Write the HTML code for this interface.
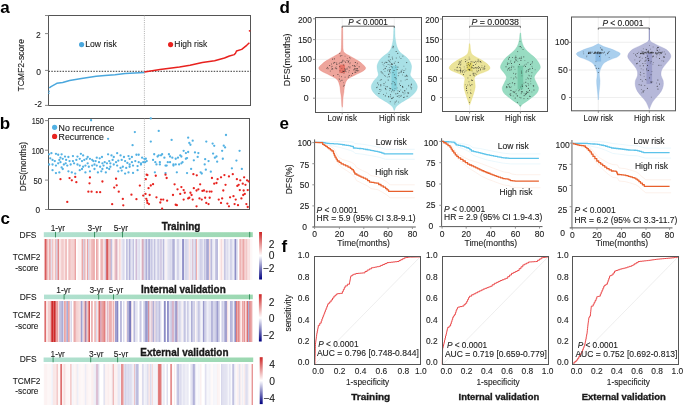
<!DOCTYPE html>
<html><head><meta charset="utf-8"><title>Figure</title>
<style>html,body{margin:0;padding:0;background:#fff;}body{width:685px;height:406px;overflow:hidden;font-family:"Liberation Sans",sans-serif;}svg{display:block;will-change:transform;filter:blur(0.3px);}</style>
</head><body>
<svg width="685" height="406" viewBox="0 0 685 406" font-family='"Liberation Sans", sans-serif'>
<text x="0.2" y="12.6" font-size="17" font-weight="bold" fill="#000">a</text>
<text x="-0.2" y="128.9" font-size="17" font-weight="bold" fill="#000">b</text>
<text x="0.4" y="223.6" font-size="17" font-weight="bold" fill="#000">c</text>
<text x="279.4" y="12.8" font-size="17" font-weight="bold" fill="#000">d</text>
<text x="279.6" y="129.1" font-size="17" font-weight="bold" fill="#000">e</text>
<text x="281.4" y="251.8" font-size="17" font-weight="bold" fill="#000">f</text>
<rect x="48.5" y="15.5" width="202" height="90" fill="none" stroke="#555555" stroke-width="1"/>
<line x1="45" y1="15.5" x2="48.5" y2="15.5" stroke="#8a8a8a" stroke-width="1"/>
<line x1="45" y1="33.6" x2="48.5" y2="33.6" stroke="#8a8a8a" stroke-width="1"/>
<line x1="45" y1="70.4" x2="48.5" y2="70.4" stroke="#8a8a8a" stroke-width="1"/>
<line x1="45" y1="105.4" x2="48.5" y2="105.4" stroke="#8a8a8a" stroke-width="1"/>
<text x="38.4" y="38.04" font-size="8.5" text-anchor="middle" fill="#1a1a1a" stroke="#1a1a1a" stroke-width="0.1">2</text>
<text x="38.5" y="74.54" font-size="8.5" text-anchor="middle" fill="#1a1a1a" stroke="#1a1a1a" stroke-width="0.1">0</text>
<text x="38.2" y="106.84" font-size="8.5" text-anchor="middle" fill="#1a1a1a" stroke="#1a1a1a" stroke-width="0.1">-2</text>
<text transform="translate(24.34,65.3) rotate(-90)" x="0" y="0" font-size="8.5" text-anchor="middle" fill="#1a1a1a" stroke="#1a1a1a" stroke-width="0.1" textLength="52.6" lengthAdjust="spacingAndGlyphs">TCMF2-score</text>
<line x1="48.5" y1="71.3" x2="250.5" y2="71.3" stroke="#222" stroke-width="0.9" stroke-dasharray="1.5,1.3"/>
<line x1="144.4" y1="15.5" x2="144.4" y2="105.5" stroke="#999" stroke-width="0.8" stroke-dasharray="1,1.2"/>
<path d="M49.2,88 L51,86.6 L56.8,83.3 L62.7,82.5 L69.6,80.5 L81.5,78.5 L96.2,76.3 L105,75.6 L115,74.8 L125,73.6 L135,73 L144.4,72.4" fill="none" stroke="#4aa7dd" stroke-width="1.5" stroke-linejoin="round"/>
<circle cx="49.1" cy="91.2" r="0.8" fill="#4aa7dd"/>
<circle cx="48.9" cy="93.3" r="0.8" fill="#4aa7dd"/>
<path d="M144.4,72 L160,69.6 L179.5,67 L190,65.3 L202.3,62.6 L214.6,60.8 L224.5,58 L229.4,56 L234.3,54.6 L235.5,53.2 L236.5,51 L241.7,49.4 L246.7,45.3 L249.4,42.7" fill="none" stroke="#e8211e" stroke-width="1.5" stroke-linejoin="round"/>
<circle cx="249.6" cy="30.8" r="0.9" fill="#e8211e"/>
<circle cx="81.6" cy="44.6" r="2.6" fill="#4aa7dd"/>
<text x="85.2" y="47.08" font-size="8.6" text-anchor="start" fill="#1a1a1a" stroke="#1a1a1a" stroke-width="0.1" textLength="31.6" lengthAdjust="spacingAndGlyphs">Low risk</text>
<circle cx="170.6" cy="44.6" r="2.6" fill="#e8211e"/>
<text x="174.3" y="47.08" font-size="8.6" text-anchor="start" fill="#1a1a1a" stroke="#1a1a1a" stroke-width="0.1" textLength="33" lengthAdjust="spacingAndGlyphs">High risk</text>
<rect x="48.5" y="118.5" width="201" height="91" fill="none" stroke="#555555" stroke-width="1"/>
<line x1="45" y1="120.6" x2="48.5" y2="120.6" stroke="#8a8a8a" stroke-width="1"/>
<text x="37.8" y="124.14" font-size="8.2" text-anchor="middle" fill="#1a1a1a" stroke="#1a1a1a" stroke-width="0.1" textLength="12.2" lengthAdjust="spacingAndGlyphs">150</text>
<line x1="45" y1="150.2" x2="48.5" y2="150.2" stroke="#8a8a8a" stroke-width="1"/>
<text x="37.8" y="153.74" font-size="8.2" text-anchor="middle" fill="#1a1a1a" stroke="#1a1a1a" stroke-width="0.1" textLength="12.2" lengthAdjust="spacingAndGlyphs">100</text>
<line x1="45" y1="180.1" x2="48.5" y2="180.1" stroke="#8a8a8a" stroke-width="1"/>
<text x="37.8" y="183.64" font-size="8.2" text-anchor="middle" fill="#1a1a1a" stroke="#1a1a1a" stroke-width="0.1" textLength="8.6" lengthAdjust="spacingAndGlyphs">50</text>
<line x1="45" y1="209.5" x2="48.5" y2="209.5" stroke="#8a8a8a" stroke-width="1"/>
<text x="37.8" y="213.04" font-size="8.2" text-anchor="middle" fill="#1a1a1a" stroke="#1a1a1a" stroke-width="0.1" textLength="4.6" lengthAdjust="spacingAndGlyphs">0</text>
<text transform="translate(26.21,166.6) rotate(-90)" x="0" y="0" font-size="8.4" text-anchor="middle" fill="#1a1a1a" stroke="#1a1a1a" stroke-width="0.1" textLength="49.5" lengthAdjust="spacingAndGlyphs">DFS(months)</text>
<line x1="144.4" y1="118.5" x2="144.4" y2="209.5" stroke="#999" stroke-width="0.8" stroke-dasharray="1,1.2"/>
<circle cx="49.13" cy="154.28" r="1.15" fill="#52b1e3"/>
<circle cx="51.4" cy="153.15" r="1.15" fill="#52b1e3"/>
<circle cx="55.94" cy="153.83" r="1.15" fill="#52b1e3"/>
<circle cx="58.2" cy="154.73" r="1.15" fill="#52b1e3"/>
<circle cx="61.61" cy="154.28" r="1.15" fill="#52b1e3"/>
<circle cx="65.01" cy="156.55" r="1.15" fill="#52b1e3"/>
<circle cx="68.41" cy="157" r="1.15" fill="#52b1e3"/>
<circle cx="72.94" cy="156.1" r="1.15" fill="#52b1e3"/>
<circle cx="80.88" cy="153.83" r="1.15" fill="#52b1e3"/>
<circle cx="83.15" cy="155.41" r="1.15" fill="#52b1e3"/>
<circle cx="87.68" cy="157" r="1.15" fill="#52b1e3"/>
<circle cx="93.35" cy="161.08" r="1.15" fill="#52b1e3"/>
<circle cx="99.7" cy="158.36" r="1.15" fill="#52b1e3"/>
<circle cx="101.97" cy="157" r="1.15" fill="#52b1e3"/>
<circle cx="108.09" cy="154.28" r="1.15" fill="#52b1e3"/>
<circle cx="111.49" cy="155.41" r="1.15" fill="#52b1e3"/>
<circle cx="117.16" cy="153.15" r="1.15" fill="#52b1e3"/>
<circle cx="120.56" cy="155.41" r="1.15" fill="#52b1e3"/>
<circle cx="123.96" cy="157" r="1.15" fill="#52b1e3"/>
<circle cx="128.5" cy="156.1" r="1.15" fill="#52b1e3"/>
<circle cx="129.63" cy="158.82" r="1.15" fill="#52b1e3"/>
<circle cx="136.44" cy="154.73" r="1.15" fill="#52b1e3"/>
<circle cx="138.7" cy="154.73" r="1.15" fill="#52b1e3"/>
<circle cx="142.1" cy="157.68" r="1.15" fill="#52b1e3"/>
<circle cx="144.37" cy="158.82" r="1.15" fill="#52b1e3"/>
<circle cx="50.27" cy="158.36" r="1.15" fill="#52b1e3"/>
<circle cx="52.54" cy="159.95" r="1.15" fill="#52b1e3"/>
<circle cx="54.8" cy="161.08" r="1.15" fill="#52b1e3"/>
<circle cx="59.34" cy="159.95" r="1.15" fill="#52b1e3"/>
<circle cx="62.74" cy="158.82" r="1.15" fill="#52b1e3"/>
<circle cx="66.14" cy="159.95" r="1.15" fill="#52b1e3"/>
<circle cx="69.54" cy="161.08" r="1.15" fill="#52b1e3"/>
<circle cx="72.94" cy="161.08" r="1.15" fill="#52b1e3"/>
<circle cx="76.34" cy="159.95" r="1.15" fill="#52b1e3"/>
<circle cx="79.75" cy="158.82" r="1.15" fill="#52b1e3"/>
<circle cx="82.01" cy="161.08" r="1.15" fill="#52b1e3"/>
<circle cx="84.28" cy="159.95" r="1.15" fill="#52b1e3"/>
<circle cx="86.55" cy="158.82" r="1.15" fill="#52b1e3"/>
<circle cx="89.95" cy="158.82" r="1.15" fill="#52b1e3"/>
<circle cx="92.22" cy="159.95" r="1.15" fill="#52b1e3"/>
<circle cx="95.62" cy="161.08" r="1.15" fill="#52b1e3"/>
<circle cx="99.02" cy="162.22" r="1.15" fill="#52b1e3"/>
<circle cx="102.42" cy="163.35" r="1.15" fill="#52b1e3"/>
<circle cx="104.69" cy="162.22" r="1.15" fill="#52b1e3"/>
<circle cx="106.96" cy="163.35" r="1.15" fill="#52b1e3"/>
<circle cx="109.22" cy="161.08" r="1.15" fill="#52b1e3"/>
<circle cx="112.63" cy="159.95" r="1.15" fill="#52b1e3"/>
<circle cx="116.03" cy="162.22" r="1.15" fill="#52b1e3"/>
<circle cx="118.29" cy="160.63" r="1.15" fill="#52b1e3"/>
<circle cx="121.7" cy="159.95" r="1.15" fill="#52b1e3"/>
<circle cx="125.1" cy="161.08" r="1.15" fill="#52b1e3"/>
<circle cx="127.37" cy="162.9" r="1.15" fill="#52b1e3"/>
<circle cx="131.9" cy="162.22" r="1.15" fill="#52b1e3"/>
<circle cx="135.3" cy="161.08" r="1.15" fill="#52b1e3"/>
<circle cx="138.7" cy="162.22" r="1.15" fill="#52b1e3"/>
<circle cx="140.97" cy="163.35" r="1.15" fill="#52b1e3"/>
<circle cx="143.24" cy="162.22" r="1.15" fill="#52b1e3"/>
<circle cx="49.13" cy="164.49" r="1.15" fill="#52b1e3"/>
<circle cx="52.54" cy="164.49" r="1.15" fill="#52b1e3"/>
<circle cx="55.94" cy="165.62" r="1.15" fill="#52b1e3"/>
<circle cx="58.2" cy="163.35" r="1.15" fill="#52b1e3"/>
<circle cx="60.47" cy="162.22" r="1.15" fill="#52b1e3"/>
<circle cx="63.87" cy="164.49" r="1.15" fill="#52b1e3"/>
<circle cx="67.27" cy="165.62" r="1.15" fill="#52b1e3"/>
<circle cx="70.68" cy="164.49" r="1.15" fill="#52b1e3"/>
<circle cx="74.08" cy="163.35" r="1.15" fill="#52b1e3"/>
<circle cx="77.48" cy="164.49" r="1.15" fill="#52b1e3"/>
<circle cx="79.75" cy="165.62" r="1.15" fill="#52b1e3"/>
<circle cx="83.15" cy="166.75" r="1.15" fill="#52b1e3"/>
<circle cx="85.41" cy="165.62" r="1.15" fill="#52b1e3"/>
<circle cx="88.82" cy="166.75" r="1.15" fill="#52b1e3"/>
<circle cx="92.22" cy="165.62" r="1.15" fill="#52b1e3"/>
<circle cx="94.49" cy="164.49" r="1.15" fill="#52b1e3"/>
<circle cx="96.75" cy="165.62" r="1.15" fill="#52b1e3"/>
<circle cx="100.15" cy="166.75" r="1.15" fill="#52b1e3"/>
<circle cx="103.56" cy="165.62" r="1.15" fill="#52b1e3"/>
<circle cx="106.96" cy="167.89" r="1.15" fill="#52b1e3"/>
<circle cx="110.36" cy="166.75" r="1.15" fill="#52b1e3"/>
<circle cx="113.76" cy="164.49" r="1.15" fill="#52b1e3"/>
<circle cx="117.16" cy="165.62" r="1.15" fill="#52b1e3"/>
<circle cx="120.56" cy="167.89" r="1.15" fill="#52b1e3"/>
<circle cx="122.83" cy="166.75" r="1.15" fill="#52b1e3"/>
<circle cx="126.23" cy="167.89" r="1.15" fill="#52b1e3"/>
<circle cx="129.63" cy="166.75" r="1.15" fill="#52b1e3"/>
<circle cx="133.03" cy="165.62" r="1.15" fill="#52b1e3"/>
<circle cx="52.54" cy="170.15" r="1.15" fill="#52b1e3"/>
<circle cx="59.34" cy="172.42" r="1.15" fill="#52b1e3"/>
<circle cx="55.94" cy="173.1" r="1.15" fill="#52b1e3"/>
<circle cx="62.74" cy="169.02" r="1.15" fill="#52b1e3"/>
<circle cx="68.41" cy="171.29" r="1.15" fill="#52b1e3"/>
<circle cx="71.81" cy="172.42" r="1.15" fill="#52b1e3"/>
<circle cx="75.21" cy="173.56" r="1.15" fill="#52b1e3"/>
<circle cx="79.75" cy="170.15" r="1.15" fill="#52b1e3"/>
<circle cx="85.41" cy="172.42" r="1.15" fill="#52b1e3"/>
<circle cx="89.95" cy="171.29" r="1.15" fill="#52b1e3"/>
<circle cx="94.49" cy="169.02" r="1.15" fill="#52b1e3"/>
<circle cx="97.89" cy="172.42" r="1.15" fill="#52b1e3"/>
<circle cx="101.29" cy="171.29" r="1.15" fill="#52b1e3"/>
<circle cx="105.82" cy="172.42" r="1.15" fill="#52b1e3"/>
<circle cx="109.22" cy="169.02" r="1.15" fill="#52b1e3"/>
<circle cx="118.29" cy="171.29" r="1.15" fill="#52b1e3"/>
<circle cx="125.1" cy="173.56" r="1.15" fill="#52b1e3"/>
<circle cx="128.5" cy="172.42" r="1.15" fill="#52b1e3"/>
<circle cx="133.03" cy="172.88" r="1.15" fill="#52b1e3"/>
<circle cx="137.57" cy="170.15" r="1.15" fill="#52b1e3"/>
<circle cx="140.97" cy="164.49" r="1.15" fill="#52b1e3"/>
<circle cx="91.08" cy="120.27" r="1.15" fill="#52b1e3"/>
<circle cx="108.09" cy="138.86" r="1.15" fill="#52b1e3"/>
<circle cx="134.85" cy="132.06" r="1.15" fill="#52b1e3"/>
<circle cx="132.58" cy="145.21" r="1.15" fill="#52b1e3"/>
<circle cx="60.47" cy="157.68" r="1.15" fill="#52b1e3"/>
<circle cx="77.48" cy="156.55" r="1.15" fill="#52b1e3"/>
<circle cx="96.75" cy="157.68" r="1.15" fill="#52b1e3"/>
<circle cx="113.76" cy="157" r="1.15" fill="#52b1e3"/>
<circle cx="131.9" cy="157" r="1.15" fill="#52b1e3"/>
<circle cx="61.61" cy="167.43" r="1.15" fill="#52b1e3"/>
<circle cx="82.01" cy="169.02" r="1.15" fill="#52b1e3"/>
<circle cx="102.42" cy="169.02" r="1.15" fill="#52b1e3"/>
<circle cx="121.7" cy="170.61" r="1.15" fill="#52b1e3"/>
<circle cx="137.57" cy="166.07" r="1.15" fill="#52b1e3"/>
<circle cx="65.69" cy="163.35" r="1.15" fill="#52b1e3"/>
<circle cx="87.68" cy="163.35" r="1.15" fill="#52b1e3"/>
<circle cx="110.36" cy="163.35" r="1.15" fill="#52b1e3"/>
<circle cx="129.63" cy="164.49" r="1.15" fill="#52b1e3"/>
<circle cx="60.47" cy="179.22" r="1.15" fill="#e82420"/>
<circle cx="69.54" cy="178.09" r="1.15" fill="#e82420"/>
<circle cx="71.81" cy="180.36" r="1.15" fill="#e82420"/>
<circle cx="75.21" cy="176.96" r="1.15" fill="#e82420"/>
<circle cx="76.34" cy="182.17" r="1.15" fill="#e82420"/>
<circle cx="89.95" cy="177.41" r="1.15" fill="#e82420"/>
<circle cx="89.5" cy="183.31" r="1.15" fill="#e82420"/>
<circle cx="88.36" cy="191.7" r="1.15" fill="#e82420"/>
<circle cx="91.54" cy="191.7" r="1.15" fill="#e82420"/>
<circle cx="96.75" cy="192.15" r="1.15" fill="#e82420"/>
<circle cx="100.15" cy="192.15" r="1.15" fill="#e82420"/>
<circle cx="102.42" cy="181.49" r="1.15" fill="#e82420"/>
<circle cx="116.03" cy="178.77" r="1.15" fill="#e82420"/>
<circle cx="116.71" cy="185.35" r="1.15" fill="#e82420"/>
<circle cx="114.21" cy="187.61" r="1.15" fill="#e82420"/>
<circle cx="118.75" cy="191.7" r="1.15" fill="#e82420"/>
<circle cx="122.83" cy="198.95" r="1.15" fill="#e82420"/>
<circle cx="123.28" cy="205.3" r="1.15" fill="#e82420"/>
<circle cx="112.17" cy="204.17" r="1.15" fill="#e82420"/>
<circle cx="67.27" cy="201.9" r="1.15" fill="#e82420"/>
<circle cx="131.45" cy="194.64" r="1.15" fill="#e82420"/>
<circle cx="136.44" cy="199.18" r="1.15" fill="#e82420"/>
<circle cx="139.84" cy="185.57" r="1.15" fill="#e82420"/>
<circle cx="143.24" cy="195.55" r="1.15" fill="#e82420"/>
<circle cx="146.64" cy="174.69" r="1.15" fill="#e82420"/>
<circle cx="145.51" cy="193.96" r="1.15" fill="#e82420"/>
<circle cx="147.09" cy="200.77" r="1.15" fill="#e82420"/>
<circle cx="150.8" cy="118.45" r="1.15" fill="#52b1e3"/>
<circle cx="158.72" cy="130.91" r="1.15" fill="#52b1e3"/>
<circle cx="150.8" cy="141.56" r="1.15" fill="#52b1e3"/>
<circle cx="171.63" cy="139.97" r="1.15" fill="#52b1e3"/>
<circle cx="188.17" cy="137.71" r="1.15" fill="#52b1e3"/>
<circle cx="192.7" cy="140.65" r="1.15" fill="#52b1e3"/>
<circle cx="189.3" cy="142.92" r="1.15" fill="#52b1e3"/>
<circle cx="190.43" cy="144.73" r="1.15" fill="#52b1e3"/>
<circle cx="206.29" cy="141.56" r="1.15" fill="#52b1e3"/>
<circle cx="212.63" cy="143.59" r="1.15" fill="#52b1e3"/>
<circle cx="214.22" cy="145.86" r="1.15" fill="#52b1e3"/>
<circle cx="225.99" cy="134.99" r="1.15" fill="#52b1e3"/>
<circle cx="223.73" cy="145.63" r="1.15" fill="#52b1e3"/>
<circle cx="225.09" cy="147.45" r="1.15" fill="#52b1e3"/>
<circle cx="239.58" cy="150.84" r="1.15" fill="#52b1e3"/>
<circle cx="222.14" cy="150.84" r="1.15" fill="#52b1e3"/>
<circle cx="198.36" cy="153.11" r="1.15" fill="#52b1e3"/>
<circle cx="194.96" cy="152.43" r="1.15" fill="#52b1e3"/>
<circle cx="185.9" cy="153.11" r="1.15" fill="#52b1e3"/>
<circle cx="183.64" cy="150.84" r="1.15" fill="#52b1e3"/>
<circle cx="180.24" cy="155.37" r="1.15" fill="#52b1e3"/>
<circle cx="181.37" cy="156.51" r="1.15" fill="#52b1e3"/>
<circle cx="177.98" cy="157.64" r="1.15" fill="#52b1e3"/>
<circle cx="175.71" cy="158.77" r="1.15" fill="#52b1e3"/>
<circle cx="168.92" cy="154.24" r="1.15" fill="#52b1e3"/>
<circle cx="170.05" cy="156.51" r="1.15" fill="#52b1e3"/>
<circle cx="172.31" cy="157.64" r="1.15" fill="#52b1e3"/>
<circle cx="164.39" cy="157.64" r="1.15" fill="#52b1e3"/>
<circle cx="162.12" cy="154.24" r="1.15" fill="#52b1e3"/>
<circle cx="160.99" cy="155.37" r="1.15" fill="#52b1e3"/>
<circle cx="158.72" cy="155.37" r="1.15" fill="#52b1e3"/>
<circle cx="154.19" cy="154.24" r="1.15" fill="#52b1e3"/>
<circle cx="157.59" cy="156.51" r="1.15" fill="#52b1e3"/>
<circle cx="153.06" cy="159.9" r="1.15" fill="#52b1e3"/>
<circle cx="155.33" cy="162.17" r="1.15" fill="#52b1e3"/>
<circle cx="156.46" cy="164.43" r="1.15" fill="#52b1e3"/>
<circle cx="159.86" cy="164.43" r="1.15" fill="#52b1e3"/>
<circle cx="159.86" cy="162.17" r="1.15" fill="#52b1e3"/>
<circle cx="167.78" cy="162.17" r="1.15" fill="#52b1e3"/>
<circle cx="166.65" cy="165.57" r="1.15" fill="#52b1e3"/>
<circle cx="165.52" cy="165.57" r="1.15" fill="#52b1e3"/>
<circle cx="170.05" cy="162.17" r="1.15" fill="#52b1e3"/>
<circle cx="173.45" cy="164.43" r="1.15" fill="#52b1e3"/>
<circle cx="173.45" cy="165.57" r="1.15" fill="#52b1e3"/>
<circle cx="175.71" cy="164.43" r="1.15" fill="#52b1e3"/>
<circle cx="179.11" cy="164.43" r="1.15" fill="#52b1e3"/>
<circle cx="181.37" cy="163.3" r="1.15" fill="#52b1e3"/>
<circle cx="182.51" cy="162.17" r="1.15" fill="#52b1e3"/>
<circle cx="185.9" cy="158.77" r="1.15" fill="#52b1e3"/>
<circle cx="187.04" cy="158.09" r="1.15" fill="#52b1e3"/>
<circle cx="188.17" cy="151.98" r="1.15" fill="#52b1e3"/>
<circle cx="193.83" cy="160.36" r="1.15" fill="#52b1e3"/>
<circle cx="197.68" cy="156.96" r="1.15" fill="#52b1e3"/>
<circle cx="205.16" cy="159.22" r="1.15" fill="#52b1e3"/>
<circle cx="208.55" cy="161.04" r="1.15" fill="#52b1e3"/>
<circle cx="204.7" cy="164.43" r="1.15" fill="#52b1e3"/>
<circle cx="205.83" cy="169.64" r="1.15" fill="#52b1e3"/>
<circle cx="200.63" cy="172.36" r="1.15" fill="#52b1e3"/>
<circle cx="201.76" cy="173.49" r="1.15" fill="#52b1e3"/>
<circle cx="210.82" cy="171.68" r="1.15" fill="#52b1e3"/>
<circle cx="213.08" cy="153.56" r="1.15" fill="#52b1e3"/>
<circle cx="214.89" cy="157.64" r="1.15" fill="#52b1e3"/>
<circle cx="216.48" cy="156.51" r="1.15" fill="#52b1e3"/>
<circle cx="217.16" cy="161.71" r="1.15" fill="#52b1e3"/>
<circle cx="222.82" cy="158.77" r="1.15" fill="#52b1e3"/>
<circle cx="231.88" cy="168.28" r="1.15" fill="#52b1e3"/>
<circle cx="236.41" cy="160.58" r="1.15" fill="#52b1e3"/>
<circle cx="241.85" cy="168.96" r="1.15" fill="#52b1e3"/>
<circle cx="191.11" cy="168.96" r="1.15" fill="#52b1e3"/>
<circle cx="187.04" cy="173.04" r="1.15" fill="#52b1e3"/>
<circle cx="176.84" cy="172.36" r="1.15" fill="#52b1e3"/>
<circle cx="165.52" cy="173.04" r="1.15" fill="#52b1e3"/>
<circle cx="154.87" cy="172.36" r="1.15" fill="#52b1e3"/>
<circle cx="145.81" cy="158.77" r="1.15" fill="#52b1e3"/>
<circle cx="146.72" cy="161.04" r="1.15" fill="#52b1e3"/>
<circle cx="145.13" cy="162.17" r="1.15" fill="#52b1e3"/>
<circle cx="147.4" cy="175.08" r="1.15" fill="#e82420"/>
<circle cx="145.81" cy="179.16" r="1.15" fill="#e82420"/>
<circle cx="155.78" cy="175.76" r="1.15" fill="#e82420"/>
<circle cx="165.52" cy="174.63" r="1.15" fill="#e82420"/>
<circle cx="166.65" cy="178.02" r="1.15" fill="#e82420"/>
<circle cx="193.38" cy="174.17" r="1.15" fill="#e82420"/>
<circle cx="196.77" cy="175.3" r="1.15" fill="#e82420"/>
<circle cx="211.95" cy="178.02" r="1.15" fill="#e82420"/>
<circle cx="217.61" cy="179.16" r="1.15" fill="#e82420"/>
<circle cx="221.01" cy="177.34" r="1.15" fill="#e82420"/>
<circle cx="224.41" cy="175.08" r="1.15" fill="#e82420"/>
<circle cx="228.94" cy="176.44" r="1.15" fill="#e82420"/>
<circle cx="232.79" cy="174.17" r="1.15" fill="#e82420"/>
<circle cx="236.87" cy="179.16" r="1.15" fill="#e82420"/>
<circle cx="240.26" cy="180.29" r="1.15" fill="#e82420"/>
<circle cx="244.11" cy="177.34" r="1.15" fill="#e82420"/>
<circle cx="247.06" cy="180.29" r="1.15" fill="#e82420"/>
<circle cx="248.64" cy="181.42" r="1.15" fill="#e82420"/>
<circle cx="245.47" cy="184.82" r="1.15" fill="#e82420"/>
<circle cx="242.75" cy="183.69" r="1.15" fill="#e82420"/>
<circle cx="238.68" cy="184.82" r="1.15" fill="#e82420"/>
<circle cx="237.32" cy="185.95" r="1.15" fill="#e82420"/>
<circle cx="239.81" cy="190.03" r="1.15" fill="#e82420"/>
<circle cx="243.66" cy="190.48" r="1.15" fill="#e82420"/>
<circle cx="247.74" cy="190.03" r="1.15" fill="#e82420"/>
<circle cx="244.79" cy="193.88" r="1.15" fill="#e82420"/>
<circle cx="153.06" cy="184.14" r="1.15" fill="#e82420"/>
<circle cx="150.8" cy="185.5" r="1.15" fill="#e82420"/>
<circle cx="148.53" cy="188.22" r="1.15" fill="#e82420"/>
<circle cx="149.66" cy="195.01" r="1.15" fill="#e82420"/>
<circle cx="146.27" cy="198.86" r="1.15" fill="#e82420"/>
<circle cx="147.4" cy="202.94" r="1.15" fill="#e82420"/>
<circle cx="148.98" cy="204.07" r="1.15" fill="#e82420"/>
<circle cx="156.46" cy="197.28" r="1.15" fill="#e82420"/>
<circle cx="160.99" cy="199.54" r="1.15" fill="#e82420"/>
<circle cx="160.31" cy="202.48" r="1.15" fill="#e82420"/>
<circle cx="163.25" cy="199.54" r="1.15" fill="#e82420"/>
<circle cx="167.1" cy="200.67" r="1.15" fill="#e82420"/>
<circle cx="174.58" cy="184.36" r="1.15" fill="#e82420"/>
<circle cx="177.52" cy="189.35" r="1.15" fill="#e82420"/>
<circle cx="172.99" cy="195.01" r="1.15" fill="#e82420"/>
<circle cx="180.24" cy="193.88" r="1.15" fill="#e82420"/>
<circle cx="181.37" cy="187.08" r="1.15" fill="#e82420"/>
<circle cx="183.64" cy="190.03" r="1.15" fill="#e82420"/>
<circle cx="184.77" cy="192.75" r="1.15" fill="#e82420"/>
<circle cx="183.64" cy="199.54" r="1.15" fill="#e82420"/>
<circle cx="176.84" cy="205.2" r="1.15" fill="#e82420"/>
<circle cx="190.43" cy="192.75" r="1.15" fill="#e82420"/>
<circle cx="189.3" cy="197.73" r="1.15" fill="#e82420"/>
<circle cx="191.57" cy="195.01" r="1.15" fill="#e82420"/>
<circle cx="193.83" cy="188.22" r="1.15" fill="#e82420"/>
<circle cx="196.55" cy="190.48" r="1.15" fill="#e82420"/>
<circle cx="200.17" cy="184.36" r="1.15" fill="#e82420"/>
<circle cx="198.36" cy="189.35" r="1.15" fill="#e82420"/>
<circle cx="202.44" cy="190.93" r="1.15" fill="#e82420"/>
<circle cx="204.02" cy="190.48" r="1.15" fill="#e82420"/>
<circle cx="206.74" cy="191.61" r="1.15" fill="#e82420"/>
<circle cx="209.69" cy="191.61" r="1.15" fill="#e82420"/>
<circle cx="211.5" cy="191.61" r="1.15" fill="#e82420"/>
<circle cx="199.49" cy="198.41" r="1.15" fill="#e82420"/>
<circle cx="201.76" cy="199.54" r="1.15" fill="#e82420"/>
<circle cx="206.29" cy="202.94" r="1.15" fill="#e82420"/>
<circle cx="208.55" cy="204.07" r="1.15" fill="#e82420"/>
<circle cx="209.69" cy="197.73" r="1.15" fill="#e82420"/>
<circle cx="216.48" cy="183.01" r="1.15" fill="#e82420"/>
<circle cx="214.22" cy="183.69" r="1.15" fill="#e82420"/>
<circle cx="223.28" cy="190.48" r="1.15" fill="#e82420"/>
<circle cx="225.54" cy="184.82" r="1.15" fill="#e82420"/>
<circle cx="222.14" cy="198.41" r="1.15" fill="#e82420"/>
<circle cx="218.75" cy="199.54" r="1.15" fill="#e82420"/>
<circle cx="221.01" cy="202.94" r="1.15" fill="#e82420"/>
<circle cx="227.35" cy="203.62" r="1.15" fill="#e82420"/>
<circle cx="228.94" cy="206.34" r="1.15" fill="#e82420"/>
<circle cx="230.07" cy="197.28" r="1.15" fill="#e82420"/>
<circle cx="233.47" cy="196.14" r="1.15" fill="#e82420"/>
<circle cx="235.73" cy="199.54" r="1.15" fill="#e82420"/>
<circle cx="234.6" cy="204.07" r="1.15" fill="#e82420"/>
<circle cx="238" cy="205.2" r="1.15" fill="#e82420"/>
<circle cx="241.4" cy="198.41" r="1.15" fill="#e82420"/>
<circle cx="243.21" cy="195.01" r="1.15" fill="#e82420"/>
<circle cx="246.38" cy="204.07" r="1.15" fill="#e82420"/>
<circle cx="247.74" cy="207.01" r="1.15" fill="#e82420"/>
<circle cx="196.55" cy="206.34" r="1.15" fill="#e82420"/>
<circle cx="175.71" cy="204.75" r="1.15" fill="#e82420"/>
<circle cx="162.12" cy="208.6" r="1.15" fill="#e82420"/>
<circle cx="205.16" cy="197.73" r="1.15" fill="#e82420"/>
<circle cx="188.17" cy="198.41" r="1.15" fill="#e82420"/>
<circle cx="192.7" cy="199.54" r="1.15" fill="#e82420"/>
<circle cx="54.6" cy="127.3" r="2.6" fill="#52b1e3"/>
<text x="58.6" y="130.51" font-size="8.7" text-anchor="start" fill="#1a1a1a" stroke="#1a1a1a" stroke-width="0.1" textLength="55.8" lengthAdjust="spacingAndGlyphs">No recurrence</text>
<circle cx="54.6" cy="136.4" r="2.6" fill="#e82420"/>
<text x="58.6" y="139.61" font-size="8.7" text-anchor="start" fill="#1a1a1a" stroke="#1a1a1a" stroke-width="0.1" textLength="45.2" lengthAdjust="spacingAndGlyphs">Recurrence</text>
<text x="28" y="237.68" font-size="8.6" text-anchor="middle" fill="#1a1a1a" stroke="#1a1a1a" stroke-width="0.1" textLength="16.8" lengthAdjust="spacingAndGlyphs">DFS</text>
<text x="26.6" y="260.38" font-size="8.6" text-anchor="middle" fill="#1a1a1a" stroke="#1a1a1a" stroke-width="0.1" textLength="27.8" lengthAdjust="spacingAndGlyphs">TCMF2</text>
<text x="26.9" y="270.58" font-size="8.6" text-anchor="middle" fill="#1a1a1a" stroke="#1a1a1a" stroke-width="0.1" textLength="23.2" lengthAdjust="spacingAndGlyphs">-score</text>
<text x="57.9" y="230.67" font-size="8.3" text-anchor="middle" fill="#1a1a1a" stroke="#1a1a1a" stroke-width="0.1" textLength="14.4" lengthAdjust="spacingAndGlyphs">1-yr</text>
<text x="94.8" y="230.67" font-size="8.3" text-anchor="middle" fill="#1a1a1a" stroke="#1a1a1a" stroke-width="0.1" textLength="14.4" lengthAdjust="spacingAndGlyphs">3-yr</text>
<text x="120.9" y="230.67" font-size="8.3" text-anchor="middle" fill="#1a1a1a" stroke="#1a1a1a" stroke-width="0.1" textLength="14.4" lengthAdjust="spacingAndGlyphs">5-yr</text>
<text x="181" y="229.89" font-size="10.3" text-anchor="middle" fill="#1a1a1a" font-weight="bold" stroke="#1a1a1a" stroke-width="0.35" textLength="38.6" lengthAdjust="spacingAndGlyphs">Training</text>
<defs><linearGradient id="g1" x1="0" x2="1" y1="0" y2="0"><stop offset="0" stop-color="#b2e1d2"/><stop offset="1" stop-color="#9bd8b0"/></linearGradient></defs>
<rect x="43.8" y="232.2" width="209" height="4.9" fill="url(#g1)" stroke="none" stroke-width="1"/>
<line x1="55.5" y1="231.9" x2="55.5" y2="237.4" stroke="#2f8a57" stroke-width="0.9"/>
<line x1="94.5" y1="231.9" x2="94.5" y2="237.4" stroke="#2f8a57" stroke-width="0.9"/>
<line x1="122.5" y1="231.9" x2="122.5" y2="237.4" stroke="#2f8a57" stroke-width="0.9"/>
<line x1="249.7" y1="231.9" x2="249.7" y2="237.4" stroke="#2f8a57" stroke-width="0.9"/>
<rect x="43" y="238.8" width="1" height="40.9" fill="#fefdfd" shape-rendering="crispEdges"/>
<rect x="44" y="238.8" width="1" height="40.9" fill="#efbaba" shape-rendering="crispEdges"/>
<rect x="45" y="238.8" width="1" height="40.9" fill="#d95c5c" shape-rendering="crispEdges"/>
<rect x="46" y="238.8" width="1" height="40.9" fill="#e69393" shape-rendering="crispEdges"/>
<rect x="47" y="238.8" width="1" height="40.9" fill="#f1c2c2" shape-rendering="crispEdges"/>
<rect x="48" y="238.8" width="1" height="40.9" fill="#f7dcdc" shape-rendering="crispEdges"/>
<rect x="49" y="238.8" width="1" height="40.9" fill="#ecadad" shape-rendering="crispEdges"/>
<rect x="50" y="238.8" width="1" height="40.9" fill="#e8bdc2" shape-rendering="crispEdges"/>
<rect x="51" y="238.8" width="1" height="40.9" fill="#e5dfeb" shape-rendering="crispEdges"/>
<rect x="52" y="238.8" width="1" height="40.9" fill="#f2c5c5" shape-rendering="crispEdges"/>
<rect x="53" y="238.8" width="1" height="40.9" fill="#f8e0e0" shape-rendering="crispEdges"/>
<rect x="54" y="238.8" width="1" height="40.9" fill="#fae9e9" shape-rendering="crispEdges"/>
<rect x="55" y="238.8" width="1" height="40.9" fill="#efbbbb" shape-rendering="crispEdges"/>
<rect x="56" y="238.8" width="1" height="40.9" fill="#dbcede" shape-rendering="crispEdges"/>
<rect x="57" y="238.8" width="1" height="40.9" fill="#dfb5be" shape-rendering="crispEdges"/>
<rect x="58" y="238.8" width="1" height="40.9" fill="#e38787" shape-rendering="crispEdges"/>
<rect x="59" y="238.8" width="1" height="40.9" fill="#f9e3e3" shape-rendering="crispEdges"/>
<rect x="60" y="238.8" width="1" height="40.9" fill="#f9e4e4" shape-rendering="crispEdges"/>
<rect x="61" y="238.8" width="1" height="40.9" fill="#f4d1d1" shape-rendering="crispEdges"/>
<rect x="62" y="238.8" width="1" height="40.9" fill="#f3cccc" shape-rendering="crispEdges"/>
<rect x="63" y="238.8" width="1" height="40.9" fill="#f5d2d2" shape-rendering="crispEdges"/>
<rect x="64" y="238.8" width="1" height="40.9" fill="#f9e4e4" shape-rendering="crispEdges"/>
<rect x="65" y="238.8" width="1" height="40.9" fill="#f1c3c3" shape-rendering="crispEdges"/>
<rect x="66" y="238.8" width="1" height="40.9" fill="#f0c0c0" shape-rendering="crispEdges"/>
<rect x="67" y="238.8" width="1" height="40.9" fill="#fef9f9" shape-rendering="crispEdges"/>
<rect x="68" y="238.8" width="1" height="40.9" fill="#f5d2d2" shape-rendering="crispEdges"/>
<rect x="69" y="238.8" width="1" height="40.9" fill="#f0c0c0" shape-rendering="crispEdges"/>
<rect x="70" y="238.8" width="1" height="40.9" fill="#f3c9c9" shape-rendering="crispEdges"/>
<rect x="71" y="238.8" width="1" height="40.9" fill="#f5d3d3" shape-rendering="crispEdges"/>
<rect x="72" y="238.8" width="1" height="40.9" fill="#f4d1d1" shape-rendering="crispEdges"/>
<rect x="73" y="238.8" width="1" height="40.9" fill="#f4d0d0" shape-rendering="crispEdges"/>
<rect x="74" y="238.8" width="1" height="40.9" fill="#f1c0c0" shape-rendering="crispEdges"/>
<rect x="75" y="238.8" width="1" height="40.9" fill="#eaa3a3" shape-rendering="crispEdges"/>
<rect x="76" y="238.8" width="1" height="40.9" fill="#ffffff" shape-rendering="crispEdges"/>
<rect x="77" y="238.8" width="1" height="40.9" fill="#fefafa" shape-rendering="crispEdges"/>
<rect x="78" y="238.8" width="2" height="40.9" fill="#fcf2f2" shape-rendering="crispEdges"/>
<rect x="80" y="238.8" width="1" height="40.9" fill="#fcf3f3" shape-rendering="crispEdges"/>
<rect x="81" y="238.8" width="1" height="40.9" fill="#f5d4d4" shape-rendering="crispEdges"/>
<rect x="82" y="238.8" width="1" height="40.9" fill="#eba8a8" shape-rendering="crispEdges"/>
<rect x="83" y="238.8" width="1" height="40.9" fill="#d8cee0" shape-rendering="crispEdges"/>
<rect x="84" y="238.8" width="1" height="40.9" fill="#e4bcc3" shape-rendering="crispEdges"/>
<rect x="85" y="238.8" width="1" height="40.9" fill="#f5d3d3" shape-rendering="crispEdges"/>
<rect x="86" y="238.8" width="1" height="40.9" fill="#fbeded" shape-rendering="crispEdges"/>
<rect x="87" y="238.8" width="1" height="40.9" fill="#eaa3a3" shape-rendering="crispEdges"/>
<rect x="88" y="238.8" width="1" height="40.9" fill="#d5d5ea" shape-rendering="crispEdges"/>
<rect x="89" y="238.8" width="1" height="40.9" fill="#eed3d7" shape-rendering="crispEdges"/>
<rect x="90" y="238.8" width="1" height="40.9" fill="#f6d8d8" shape-rendering="crispEdges"/>
<rect x="91" y="238.8" width="1" height="40.9" fill="#f0bfbf" shape-rendering="crispEdges"/>
<rect x="92" y="238.8" width="1" height="40.9" fill="#efb8b8" shape-rendering="crispEdges"/>
<rect x="93" y="238.8" width="1" height="40.9" fill="#edb0b0" shape-rendering="crispEdges"/>
<rect x="94" y="238.8" width="1" height="40.9" fill="#eeb5b5" shape-rendering="crispEdges"/>
<rect x="95" y="238.8" width="1" height="40.9" fill="#ffffff" shape-rendering="crispEdges"/>
<rect x="96" y="238.8" width="1" height="40.9" fill="#eba7a7" shape-rendering="crispEdges"/>
<rect x="97" y="238.8" width="1" height="40.9" fill="#efbbbb" shape-rendering="crispEdges"/>
<rect x="98" y="238.8" width="1" height="40.9" fill="#f6d9d9" shape-rendering="crispEdges"/>
<rect x="99" y="238.8" width="1" height="40.9" fill="#ffffff" shape-rendering="crispEdges"/>
<rect x="100" y="238.8" width="1" height="40.9" fill="#f4d1d1" shape-rendering="crispEdges"/>
<rect x="101" y="238.8" width="1" height="40.9" fill="#eeb6b6" shape-rendering="crispEdges"/>
<rect x="102" y="238.8" width="1" height="40.9" fill="#efbbbb" shape-rendering="crispEdges"/>
<rect x="103" y="238.8" width="1" height="40.9" fill="#f9e3e3" shape-rendering="crispEdges"/>
<rect x="104" y="238.8" width="1" height="40.9" fill="#eedde4" shape-rendering="crispEdges"/>
<rect x="105" y="238.8" width="1" height="40.9" fill="#d8c4d8" shape-rendering="crispEdges"/>
<rect x="106" y="238.8" width="1" height="40.9" fill="#d76f74" shape-rendering="crispEdges"/>
<rect x="107" y="238.8" width="1" height="40.9" fill="#d95b5b" shape-rendering="crispEdges"/>
<rect x="108" y="238.8" width="1" height="40.9" fill="#ecadad" shape-rendering="crispEdges"/>
<rect x="109" y="238.8" width="1" height="40.9" fill="#f0bfbf" shape-rendering="crispEdges"/>
<rect x="110" y="238.8" width="1" height="40.9" fill="#dab7c4" shape-rendering="crispEdges"/>
<rect x="111" y="238.8" width="1" height="40.9" fill="#bfbfdf" shape-rendering="crispEdges"/>
<rect x="112" y="238.8" width="1" height="40.9" fill="#efe5ec" shape-rendering="crispEdges"/>
<rect x="113" y="238.8" width="1" height="40.9" fill="#fcf1f1" shape-rendering="crispEdges"/>
<rect x="114" y="238.8" width="1" height="40.9" fill="#f6dada" shape-rendering="crispEdges"/>
<rect x="115" y="238.8" width="1" height="40.9" fill="#e6bcc3" shape-rendering="crispEdges"/>
<rect x="116" y="238.8" width="1" height="40.9" fill="#dcaebc" shape-rendering="crispEdges"/>
<rect x="117" y="238.8" width="1" height="40.9" fill="#eed6de" shape-rendering="crispEdges"/>
<rect x="118" y="238.8" width="1" height="40.9" fill="#fcf2f2" shape-rendering="crispEdges"/>
<rect x="119" y="238.8" width="1" height="40.9" fill="#f6d6d6" shape-rendering="crispEdges"/>
<rect x="120" y="238.8" width="1" height="40.9" fill="#f9e3e3" shape-rendering="crispEdges"/>
<rect x="121" y="238.8" width="1" height="40.9" fill="#edebf3" shape-rendering="crispEdges"/>
<rect x="122" y="238.8" width="1" height="40.9" fill="#e2e2f1" shape-rendering="crispEdges"/>
<rect x="123" y="238.8" width="1" height="40.9" fill="#dadaed" shape-rendering="crispEdges"/>
<rect x="124" y="238.8" width="1" height="40.9" fill="#e7e7f3" shape-rendering="crispEdges"/>
<rect x="125" y="238.8" width="1" height="40.9" fill="#f9f9fc" shape-rendering="crispEdges"/>
<rect x="126" y="238.8" width="1" height="40.9" fill="#c2c2e1" shape-rendering="crispEdges"/>
<rect x="127" y="238.8" width="1" height="40.9" fill="#cfcfe7" shape-rendering="crispEdges"/>
<rect x="128" y="238.8" width="1" height="40.9" fill="#e3e3f1" shape-rendering="crispEdges"/>
<rect x="129" y="238.8" width="1" height="40.9" fill="#b3b3d9" shape-rendering="crispEdges"/>
<rect x="130" y="238.8" width="1" height="40.9" fill="#d1d1e8" shape-rendering="crispEdges"/>
<rect x="131" y="238.8" width="1" height="40.9" fill="#e3e3f1" shape-rendering="crispEdges"/>
<rect x="132" y="238.8" width="1" height="40.9" fill="#dadaed" shape-rendering="crispEdges"/>
<rect x="133" y="238.8" width="1" height="40.9" fill="#c3c3e1" shape-rendering="crispEdges"/>
<rect x="134" y="238.8" width="1" height="40.9" fill="#f4f4f9" shape-rendering="crispEdges"/>
<rect x="135" y="238.8" width="1" height="40.9" fill="#e1d8e9" shape-rendering="crispEdges"/>
<rect x="136" y="238.8" width="1" height="40.9" fill="#d0bcd8" shape-rendering="crispEdges"/>
<rect x="137" y="238.8" width="1" height="40.9" fill="#e7e4f1" shape-rendering="crispEdges"/>
<rect x="138" y="238.8" width="1" height="40.9" fill="#e3e3f1" shape-rendering="crispEdges"/>
<rect x="139" y="238.8" width="1" height="40.9" fill="#dedeee" shape-rendering="crispEdges"/>
<rect x="140" y="238.8" width="1" height="40.9" fill="#f3f3f9" shape-rendering="crispEdges"/>
<rect x="141" y="238.8" width="1" height="40.9" fill="#efdee4" shape-rendering="crispEdges"/>
<rect x="142" y="238.8" width="1" height="40.9" fill="#d8acbc" shape-rendering="crispEdges"/>
<rect x="143" y="238.8" width="1" height="40.9" fill="#d8becf" shape-rendering="crispEdges"/>
<rect x="144" y="238.8" width="1" height="40.9" fill="#dbdbed" shape-rendering="crispEdges"/>
<rect x="145" y="238.8" width="1" height="40.9" fill="#c9c9e4" shape-rendering="crispEdges"/>
<rect x="146" y="238.8" width="1" height="40.9" fill="#afafd7" shape-rendering="crispEdges"/>
<rect x="147" y="238.8" width="1" height="40.9" fill="#dcdcee" shape-rendering="crispEdges"/>
<rect x="148" y="238.8" width="1" height="40.9" fill="#babadc" shape-rendering="crispEdges"/>
<rect x="149" y="238.8" width="1" height="40.9" fill="#afafd7" shape-rendering="crispEdges"/>
<rect x="150" y="238.8" width="1" height="40.9" fill="#d9d9ec" shape-rendering="crispEdges"/>
<rect x="151" y="238.8" width="1" height="40.9" fill="#c8c8e4" shape-rendering="crispEdges"/>
<rect x="152" y="238.8" width="1" height="40.9" fill="#d7d7eb" shape-rendering="crispEdges"/>
<rect x="153" y="238.8" width="1" height="40.9" fill="#e6e6f3" shape-rendering="crispEdges"/>
<rect x="154" y="238.8" width="1" height="40.9" fill="#c3c3e1" shape-rendering="crispEdges"/>
<rect x="155" y="238.8" width="1" height="40.9" fill="#dedeee" shape-rendering="crispEdges"/>
<rect x="156" y="238.8" width="1" height="40.9" fill="#ececf5" shape-rendering="crispEdges"/>
<rect x="157" y="238.8" width="1" height="40.9" fill="#d6d6eb" shape-rendering="crispEdges"/>
<rect x="158" y="238.8" width="1" height="40.9" fill="#cecee7" shape-rendering="crispEdges"/>
<rect x="159" y="238.8" width="1" height="40.9" fill="#e1e0ef" shape-rendering="crispEdges"/>
<rect x="160" y="238.8" width="1" height="40.9" fill="#d4cce4" shape-rendering="crispEdges"/>
<rect x="161" y="238.8" width="1" height="40.9" fill="#d6cfe6" shape-rendering="crispEdges"/>
<rect x="162" y="238.8" width="1" height="40.9" fill="#e3e3f1" shape-rendering="crispEdges"/>
<rect x="163" y="238.8" width="1" height="40.9" fill="#bbbbdd" shape-rendering="crispEdges"/>
<rect x="164" y="238.8" width="1" height="40.9" fill="#e3e3f1" shape-rendering="crispEdges"/>
<rect x="165" y="238.8" width="1" height="40.9" fill="#f7f2f6" shape-rendering="crispEdges"/>
<rect x="166" y="238.8" width="1" height="40.9" fill="#f7f1f4" shape-rendering="crispEdges"/>
<rect x="167" y="238.8" width="1" height="40.9" fill="#eaeaf4" shape-rendering="crispEdges"/>
<rect x="168" y="238.8" width="1" height="40.9" fill="#e2e2f1" shape-rendering="crispEdges"/>
<rect x="169" y="238.8" width="1" height="40.9" fill="#dfdfef" shape-rendering="crispEdges"/>
<rect x="170" y="238.8" width="1" height="40.9" fill="#dadaed" shape-rendering="crispEdges"/>
<rect x="171" y="238.8" width="1" height="40.9" fill="#dfdfef" shape-rendering="crispEdges"/>
<rect x="172" y="238.8" width="1" height="40.9" fill="#c0c0df" shape-rendering="crispEdges"/>
<rect x="173" y="238.8" width="1" height="40.9" fill="#b1b1d8" shape-rendering="crispEdges"/>
<rect x="174" y="238.8" width="1" height="40.9" fill="#c1c1e0" shape-rendering="crispEdges"/>
<rect x="175" y="238.8" width="1" height="40.9" fill="#f5f5fa" shape-rendering="crispEdges"/>
<rect x="176" y="238.8" width="1" height="40.9" fill="#ebebf5" shape-rendering="crispEdges"/>
<rect x="177" y="238.8" width="1" height="40.9" fill="#d3d3e9" shape-rendering="crispEdges"/>
<rect x="178" y="238.8" width="1" height="40.9" fill="#d5d5ea" shape-rendering="crispEdges"/>
<rect x="179" y="238.8" width="1" height="40.9" fill="#ebebf5" shape-rendering="crispEdges"/>
<rect x="180" y="238.8" width="1" height="40.9" fill="#eeeef7" shape-rendering="crispEdges"/>
<rect x="181" y="238.8" width="1" height="40.9" fill="#f3f3f9" shape-rendering="crispEdges"/>
<rect x="182" y="238.8" width="1" height="40.9" fill="#9a9acd" shape-rendering="crispEdges"/>
<rect x="183" y="238.8" width="1" height="40.9" fill="#9292c9" shape-rendering="crispEdges"/>
<rect x="184" y="238.8" width="1" height="40.9" fill="#e6e6f2" shape-rendering="crispEdges"/>
<rect x="185" y="238.8" width="2" height="40.9" fill="#d6d6eb" shape-rendering="crispEdges"/>
<rect x="187" y="238.8" width="1" height="40.9" fill="#dcdcee" shape-rendering="crispEdges"/>
<rect x="188" y="238.8" width="1" height="40.9" fill="#e6e1ed" shape-rendering="crispEdges"/>
<rect x="189" y="238.8" width="1" height="40.9" fill="#fae8e8" shape-rendering="crispEdges"/>
<rect x="190" y="238.8" width="1" height="40.9" fill="#e9e3ed" shape-rendering="crispEdges"/>
<rect x="191" y="238.8" width="1" height="40.9" fill="#eae9f3" shape-rendering="crispEdges"/>
<rect x="192" y="238.8" width="1" height="40.9" fill="#dcc4d4" shape-rendering="crispEdges"/>
<rect x="193" y="238.8" width="1" height="40.9" fill="#dfdbeb" shape-rendering="crispEdges"/>
<rect x="194" y="238.8" width="1" height="40.9" fill="#e2e2f0" shape-rendering="crispEdges"/>
<rect x="195" y="238.8" width="1" height="40.9" fill="#c7c7e3" shape-rendering="crispEdges"/>
<rect x="196" y="238.8" width="1" height="40.9" fill="#ecaeae" shape-rendering="crispEdges"/>
<rect x="197" y="238.8" width="1" height="40.9" fill="#fbefef" shape-rendering="crispEdges"/>
<rect x="198" y="238.8" width="1" height="40.9" fill="#eaeaf4" shape-rendering="crispEdges"/>
<rect x="199" y="238.8" width="1" height="40.9" fill="#e0e0ef" shape-rendering="crispEdges"/>
<rect x="200" y="238.8" width="1" height="40.9" fill="#d0d0e8" shape-rendering="crispEdges"/>
<rect x="201" y="238.8" width="1" height="40.9" fill="#d4d4ea" shape-rendering="crispEdges"/>
<rect x="202" y="238.8" width="1" height="40.9" fill="#dbdbed" shape-rendering="crispEdges"/>
<rect x="203" y="238.8" width="1" height="40.9" fill="#eaeaf4" shape-rendering="crispEdges"/>
<rect x="204" y="238.8" width="1" height="40.9" fill="#c8c8e4" shape-rendering="crispEdges"/>
<rect x="205" y="238.8" width="1" height="40.9" fill="#d5d5ea" shape-rendering="crispEdges"/>
<rect x="206" y="238.8" width="1" height="40.9" fill="#b3b3d9" shape-rendering="crispEdges"/>
<rect x="207" y="238.8" width="1" height="40.9" fill="#a7a7d3" shape-rendering="crispEdges"/>
<rect x="208" y="238.8" width="1" height="40.9" fill="#b0b0d8" shape-rendering="crispEdges"/>
<rect x="209" y="238.8" width="1" height="40.9" fill="#f7dcdc" shape-rendering="crispEdges"/>
<rect x="210" y="238.8" width="1" height="40.9" fill="#d8d3e6" shape-rendering="crispEdges"/>
<rect x="211" y="238.8" width="1" height="40.9" fill="#bbbbdd" shape-rendering="crispEdges"/>
<rect x="212" y="238.8" width="1" height="40.9" fill="#e3e3f1" shape-rendering="crispEdges"/>
<rect x="213" y="238.8" width="1" height="40.9" fill="#ededf6" shape-rendering="crispEdges"/>
<rect x="214" y="238.8" width="1" height="40.9" fill="#f1f1f8" shape-rendering="crispEdges"/>
<rect x="215" y="238.8" width="1" height="40.9" fill="#c9c9e4" shape-rendering="crispEdges"/>
<rect x="216" y="238.8" width="1" height="40.9" fill="#bebede" shape-rendering="crispEdges"/>
<rect x="217" y="238.8" width="1" height="40.9" fill="#bbbbdd" shape-rendering="crispEdges"/>
<rect x="218" y="238.8" width="1" height="40.9" fill="#ffffff" shape-rendering="crispEdges"/>
<rect x="219" y="238.8" width="1" height="40.9" fill="#fdf6f6" shape-rendering="crispEdges"/>
<rect x="220" y="238.8" width="1" height="40.9" fill="#fbecec" shape-rendering="crispEdges"/>
<rect x="221" y="238.8" width="1" height="40.9" fill="#f7dddd" shape-rendering="crispEdges"/>
<rect x="222" y="238.8" width="1" height="40.9" fill="#fcf0f0" shape-rendering="crispEdges"/>
<rect x="223" y="238.8" width="1" height="40.9" fill="#f7f0f3" shape-rendering="crispEdges"/>
<rect x="224" y="238.8" width="1" height="40.9" fill="#c7c7e3" shape-rendering="crispEdges"/>
<rect x="225" y="238.8" width="1" height="40.9" fill="#d5d5ea" shape-rendering="crispEdges"/>
<rect x="226" y="238.8" width="1" height="40.9" fill="#e5e5f2" shape-rendering="crispEdges"/>
<rect x="227" y="238.8" width="1" height="40.9" fill="#ddddee" shape-rendering="crispEdges"/>
<rect x="228" y="238.8" width="1" height="40.9" fill="#e9e9f4" shape-rendering="crispEdges"/>
<rect x="229" y="238.8" width="1" height="40.9" fill="#eeeef6" shape-rendering="crispEdges"/>
<rect x="230" y="238.8" width="1" height="40.9" fill="#d3d3e9" shape-rendering="crispEdges"/>
<rect x="231" y="238.8" width="1" height="40.9" fill="#d5d5ea" shape-rendering="crispEdges"/>
<rect x="232" y="238.8" width="1" height="40.9" fill="#e6e6f2" shape-rendering="crispEdges"/>
<rect x="233" y="238.8" width="1" height="40.9" fill="#ededf6" shape-rendering="crispEdges"/>
<rect x="234" y="238.8" width="1" height="40.9" fill="#c5c5e2" shape-rendering="crispEdges"/>
<rect x="235" y="238.8" width="1" height="40.9" fill="#9090c7" shape-rendering="crispEdges"/>
<rect x="236" y="238.8" width="1" height="40.9" fill="#d3d3e9" shape-rendering="crispEdges"/>
<rect x="237" y="238.8" width="1" height="40.9" fill="#e4e4f2" shape-rendering="crispEdges"/>
<rect x="238" y="238.8" width="1" height="40.9" fill="#ffffff" shape-rendering="crispEdges"/>
<rect x="239" y="238.8" width="1" height="40.9" fill="#f3cccc" shape-rendering="crispEdges"/>
<rect x="240" y="238.8" width="1" height="40.9" fill="#eeb5b5" shape-rendering="crispEdges"/>
<rect x="241" y="238.8" width="1" height="40.9" fill="#f4cece" shape-rendering="crispEdges"/>
<rect x="242" y="238.8" width="1" height="40.9" fill="#f0bfbf" shape-rendering="crispEdges"/>
<rect x="243" y="238.8" width="1" height="40.9" fill="#eba8a8" shape-rendering="crispEdges"/>
<rect x="244" y="238.8" width="1" height="40.9" fill="#f2c8c8" shape-rendering="crispEdges"/>
<rect x="245" y="238.8" width="1" height="40.9" fill="#f5d4d4" shape-rendering="crispEdges"/>
<rect x="246" y="238.8" width="1" height="40.9" fill="#f2c7c7" shape-rendering="crispEdges"/>
<rect x="247" y="238.8" width="1" height="40.9" fill="#f7dddd" shape-rendering="crispEdges"/>
<rect x="248" y="238.8" width="1" height="40.9" fill="#f9e4e4" shape-rendering="crispEdges"/>
<rect x="249" y="238.8" width="1" height="40.9" fill="#f8e1e1" shape-rendering="crispEdges"/>
<rect x="250" y="238.8" width="1" height="40.9" fill="#fdf6f6" shape-rendering="crispEdges"/>
<rect x="251" y="238.8" width="1" height="40.9" fill="#fdf8f8" shape-rendering="crispEdges"/>
<rect x="252" y="238.8" width="1" height="40.9" fill="#fefcfc" shape-rendering="crispEdges"/>
<defs><linearGradient id="cb1" x1="0" x2="0" y1="0" y2="1"><stop offset="0" stop-color="#cd2626"/><stop offset="0.5" stop-color="#ffffff"/><stop offset="1" stop-color="#000080"/></linearGradient></defs>
<rect x="259.1" y="232" width="2.9" height="47.5" fill="url(#cb1)" stroke="none" stroke-width="1"/>
<text x="274.4" y="248.09" font-size="10.3" text-anchor="end" fill="#1a1a1a" stroke="#1a1a1a" stroke-width="0.1">2</text>
<text x="274.4" y="259.49" font-size="10.3" text-anchor="end" fill="#1a1a1a" stroke="#1a1a1a" stroke-width="0.1">0</text>
<text x="274.4" y="272.39" font-size="10.3" text-anchor="end" fill="#1a1a1a" stroke="#1a1a1a" stroke-width="0.1">−2</text>
<text x="28.2" y="299.78" font-size="8.6" text-anchor="middle" fill="#1a1a1a" stroke="#1a1a1a" stroke-width="0.1" textLength="16.8" lengthAdjust="spacingAndGlyphs">DFS</text>
<text x="26.6" y="318.18" font-size="8.6" text-anchor="middle" fill="#1a1a1a" stroke="#1a1a1a" stroke-width="0.1" textLength="27.8" lengthAdjust="spacingAndGlyphs">TCMF2</text>
<text x="26.9" y="328.58" font-size="8.6" text-anchor="middle" fill="#1a1a1a" stroke="#1a1a1a" stroke-width="0.1" textLength="23.2" lengthAdjust="spacingAndGlyphs">-score</text>
<text x="63.5" y="292.87" font-size="8.3" text-anchor="middle" fill="#1a1a1a" stroke="#1a1a1a" stroke-width="0.1" textLength="14.4" lengthAdjust="spacingAndGlyphs">1-yr</text>
<text x="96.6" y="292.87" font-size="8.3" text-anchor="middle" fill="#1a1a1a" stroke="#1a1a1a" stroke-width="0.1" textLength="14.4" lengthAdjust="spacingAndGlyphs">3-yr</text>
<text x="116" y="292.87" font-size="8.3" text-anchor="middle" fill="#1a1a1a" stroke="#1a1a1a" stroke-width="0.1" textLength="14.4" lengthAdjust="spacingAndGlyphs">5-yr</text>
<text x="183.4" y="293.09" font-size="10.3" text-anchor="middle" fill="#1a1a1a" font-weight="bold" stroke="#1a1a1a" stroke-width="0.35" textLength="84.6" lengthAdjust="spacingAndGlyphs">Internal validation</text>
<defs><linearGradient id="g2" x1="0" x2="1" y1="0" y2="0"><stop offset="0" stop-color="#b2e1d2"/><stop offset="1" stop-color="#9bd8b0"/></linearGradient></defs>
<rect x="44" y="294.6" width="208.8" height="4.6" fill="url(#g2)" stroke="none" stroke-width="1"/>
<line x1="64.1" y1="294.3" x2="64.1" y2="299.5" stroke="#2f8a57" stroke-width="0.9"/>
<line x1="98.7" y1="294.3" x2="98.7" y2="299.5" stroke="#2f8a57" stroke-width="0.9"/>
<line x1="113.5" y1="294.3" x2="113.5" y2="299.5" stroke="#2f8a57" stroke-width="0.9"/>
<line x1="249.5" y1="294.3" x2="249.5" y2="299.5" stroke="#2f8a57" stroke-width="0.9"/>
<rect x="44" y="300.9" width="1" height="40.8" fill="#eba6a6" shape-rendering="crispEdges"/>
<rect x="45" y="300.9" width="1" height="40.8" fill="#dd6d6d" shape-rendering="crispEdges"/>
<rect x="46" y="300.9" width="1" height="40.8" fill="#f9e4e4" shape-rendering="crispEdges"/>
<rect x="47" y="300.9" width="1" height="40.8" fill="#fae8e8" shape-rendering="crispEdges"/>
<rect x="48" y="300.9" width="1" height="40.8" fill="#f3cccc" shape-rendering="crispEdges"/>
<rect x="49" y="300.9" width="1" height="40.8" fill="#f4cdcd" shape-rendering="crispEdges"/>
<rect x="50" y="300.9" width="1" height="40.8" fill="#edb2b2" shape-rendering="crispEdges"/>
<rect x="51" y="300.9" width="1" height="40.8" fill="#d95858" shape-rendering="crispEdges"/>
<rect x="52" y="300.9" width="1" height="40.8" fill="#ce2929" shape-rendering="crispEdges"/>
<rect x="53" y="300.9" width="1" height="40.8" fill="#da5f5f" shape-rendering="crispEdges"/>
<rect x="54" y="300.9" width="1" height="40.8" fill="#ce2b2b" shape-rendering="crispEdges"/>
<rect x="55" y="300.9" width="1" height="40.8" fill="#db6464" shape-rendering="crispEdges"/>
<rect x="56" y="300.9" width="1" height="40.8" fill="#eaa5a5" shape-rendering="crispEdges"/>
<rect x="57" y="300.9" width="1" height="40.8" fill="#e99f9f" shape-rendering="crispEdges"/>
<rect x="58" y="300.9" width="1" height="40.8" fill="#f9e3e3" shape-rendering="crispEdges"/>
<rect x="59" y="300.9" width="1" height="40.8" fill="#cfc4db" shape-rendering="crispEdges"/>
<rect x="60" y="300.9" width="1" height="40.8" fill="#c2c2e0" shape-rendering="crispEdges"/>
<rect x="61" y="300.9" width="1" height="40.8" fill="#b9b9dc" shape-rendering="crispEdges"/>
<rect x="62" y="300.9" width="1" height="40.8" fill="#acacd5" shape-rendering="crispEdges"/>
<rect x="63" y="300.9" width="1" height="40.8" fill="#d9d9ec" shape-rendering="crispEdges"/>
<rect x="64" y="300.9" width="1" height="40.8" fill="#eba6a6" shape-rendering="crispEdges"/>
<rect x="65" y="300.9" width="1" height="40.8" fill="#eeb4b4" shape-rendering="crispEdges"/>
<rect x="66" y="300.9" width="1" height="40.8" fill="#c9bcd6" shape-rendering="crispEdges"/>
<rect x="67" y="300.9" width="1" height="40.8" fill="#ababd5" shape-rendering="crispEdges"/>
<rect x="68" y="300.9" width="1" height="40.8" fill="#eba6a6" shape-rendering="crispEdges"/>
<rect x="69" y="300.9" width="1" height="40.8" fill="#e9b9bc" shape-rendering="crispEdges"/>
<rect x="70" y="300.9" width="1" height="40.8" fill="#e9e9f4" shape-rendering="crispEdges"/>
<rect x="71" y="300.9" width="1" height="40.8" fill="#d9d9ec" shape-rendering="crispEdges"/>
<rect x="72" y="300.9" width="1" height="40.8" fill="#ffffff" shape-rendering="crispEdges"/>
<rect x="73" y="300.9" width="1" height="40.8" fill="#f5d3d3" shape-rendering="crispEdges"/>
<rect x="74" y="300.9" width="1" height="40.8" fill="#ebaaaa" shape-rendering="crispEdges"/>
<rect x="75" y="300.9" width="1" height="40.8" fill="#eeb7b7" shape-rendering="crispEdges"/>
<rect x="76" y="300.9" width="1" height="40.8" fill="#f4d0d0" shape-rendering="crispEdges"/>
<rect x="77" y="300.9" width="1" height="40.8" fill="#f5d4d4" shape-rendering="crispEdges"/>
<rect x="78" y="300.9" width="1" height="40.8" fill="#f6d8d8" shape-rendering="crispEdges"/>
<rect x="79" y="300.9" width="1" height="40.8" fill="#f7dddd" shape-rendering="crispEdges"/>
<rect x="80" y="300.9" width="1" height="40.8" fill="#e2d1dd" shape-rendering="crispEdges"/>
<rect x="81" y="300.9" width="1" height="40.8" fill="#a0a0d0" shape-rendering="crispEdges"/>
<rect x="82" y="300.9" width="1" height="40.8" fill="#cdcde6" shape-rendering="crispEdges"/>
<rect x="83" y="300.9" width="1" height="40.8" fill="#ead6dd" shape-rendering="crispEdges"/>
<rect x="84" y="300.9" width="1" height="40.8" fill="#eeb7b7" shape-rendering="crispEdges"/>
<rect x="85" y="300.9" width="1" height="40.8" fill="#b181a0" shape-rendering="crispEdges"/>
<rect x="86" y="300.9" width="1" height="40.8" fill="#c8b6ce" shape-rendering="crispEdges"/>
<rect x="87" y="300.9" width="1" height="40.8" fill="#f2c5c5" shape-rendering="crispEdges"/>
<rect x="88" y="300.9" width="1" height="40.8" fill="#e48a8a" shape-rendering="crispEdges"/>
<rect x="89" y="300.9" width="1" height="40.8" fill="#d85656" shape-rendering="crispEdges"/>
<rect x="90" y="300.9" width="1" height="40.8" fill="#ffffff" shape-rendering="crispEdges"/>
<rect x="91" y="300.9" width="1" height="40.8" fill="#eeb4b4" shape-rendering="crispEdges"/>
<rect x="92" y="300.9" width="1" height="40.8" fill="#f1c1c1" shape-rendering="crispEdges"/>
<rect x="93" y="300.9" width="1" height="40.8" fill="#ffffff" shape-rendering="crispEdges"/>
<rect x="94" y="300.9" width="1" height="40.8" fill="#f2c8c8" shape-rendering="crispEdges"/>
<rect x="95" y="300.9" width="1" height="40.8" fill="#f0bdbd" shape-rendering="crispEdges"/>
<rect x="96" y="300.9" width="1" height="40.8" fill="#dbdbed" shape-rendering="crispEdges"/>
<rect x="97" y="300.9" width="1" height="40.8" fill="#f9e4e4" shape-rendering="crispEdges"/>
<rect x="98" y="300.9" width="1" height="40.8" fill="#eba7a7" shape-rendering="crispEdges"/>
<rect x="99" y="300.9" width="1" height="40.8" fill="#dc6868" shape-rendering="crispEdges"/>
<rect x="100" y="300.9" width="1" height="40.8" fill="#d9a5b8" shape-rendering="crispEdges"/>
<rect x="101" y="300.9" width="1" height="40.8" fill="#e3aab3" shape-rendering="crispEdges"/>
<rect x="102" y="300.9" width="1" height="40.8" fill="#e9a1a1" shape-rendering="crispEdges"/>
<rect x="103" y="300.9" width="1" height="40.8" fill="#e79696" shape-rendering="crispEdges"/>
<rect x="104" y="300.9" width="1" height="40.8" fill="#e28080" shape-rendering="crispEdges"/>
<rect x="105" y="300.9" width="1" height="40.8" fill="#f1c1c1" shape-rendering="crispEdges"/>
<rect x="106" y="300.9" width="1" height="40.8" fill="#f4e6ec" shape-rendering="crispEdges"/>
<rect x="107" y="300.9" width="1" height="40.8" fill="#e0b8c8" shape-rendering="crispEdges"/>
<rect x="108" y="300.9" width="1" height="40.8" fill="#f1d3d7" shape-rendering="crispEdges"/>
<rect x="109" y="300.9" width="1" height="40.8" fill="#edb0b0" shape-rendering="crispEdges"/>
<rect x="110" y="300.9" width="1" height="40.8" fill="#edafaf" shape-rendering="crispEdges"/>
<rect x="111" y="300.9" width="1" height="40.8" fill="#efb8b8" shape-rendering="crispEdges"/>
<rect x="112" y="300.9" width="1" height="40.8" fill="#f7dcdc" shape-rendering="crispEdges"/>
<rect x="113" y="300.9" width="1" height="40.8" fill="#eeb5b5" shape-rendering="crispEdges"/>
<rect x="114" y="300.9" width="1" height="40.8" fill="#f8e2e2" shape-rendering="crispEdges"/>
<rect x="115" y="300.9" width="1" height="40.8" fill="#9e9ecf" shape-rendering="crispEdges"/>
<rect x="116" y="300.9" width="1" height="40.8" fill="#a1a1d0" shape-rendering="crispEdges"/>
<rect x="117" y="300.9" width="1" height="40.8" fill="#8989c4" shape-rendering="crispEdges"/>
<rect x="118" y="300.9" width="1" height="40.8" fill="#dcdcee" shape-rendering="crispEdges"/>
<rect x="119" y="300.9" width="1" height="40.8" fill="#ffffff" shape-rendering="crispEdges"/>
<rect x="120" y="300.9" width="1" height="40.8" fill="#b9b9dc" shape-rendering="crispEdges"/>
<rect x="121" y="300.9" width="1" height="40.8" fill="#c0c0e0" shape-rendering="crispEdges"/>
<rect x="122" y="300.9" width="1" height="40.8" fill="#ffffff" shape-rendering="crispEdges"/>
<rect x="123" y="300.9" width="1" height="40.8" fill="#ddddee" shape-rendering="crispEdges"/>
<rect x="124" y="300.9" width="1" height="40.8" fill="#eeeef6" shape-rendering="crispEdges"/>
<rect x="125" y="300.9" width="1" height="40.8" fill="#fefdfd" shape-rendering="crispEdges"/>
<rect x="126" y="300.9" width="1" height="40.8" fill="#fae8e8" shape-rendering="crispEdges"/>
<rect x="127" y="300.9" width="1" height="40.8" fill="#b7b5d9" shape-rendering="crispEdges"/>
<rect x="128" y="300.9" width="1" height="40.8" fill="#b1b1d8" shape-rendering="crispEdges"/>
<rect x="129" y="300.9" width="1" height="40.8" fill="#8383c1" shape-rendering="crispEdges"/>
<rect x="130" y="300.9" width="1" height="40.8" fill="#7a7abd" shape-rendering="crispEdges"/>
<rect x="131" y="300.9" width="1" height="40.8" fill="#e7dbe5" shape-rendering="crispEdges"/>
<rect x="132" y="300.9" width="1" height="40.8" fill="#fef9f9" shape-rendering="crispEdges"/>
<rect x="133" y="300.9" width="1" height="40.8" fill="#d9d9ec" shape-rendering="crispEdges"/>
<rect x="134" y="300.9" width="1" height="40.8" fill="#b9b9dc" shape-rendering="crispEdges"/>
<rect x="135" y="300.9" width="1" height="40.8" fill="#e3e3f1" shape-rendering="crispEdges"/>
<rect x="136" y="300.9" width="1" height="40.8" fill="#e6e6f2" shape-rendering="crispEdges"/>
<rect x="137" y="300.9" width="1" height="40.8" fill="#ededf6" shape-rendering="crispEdges"/>
<rect x="138" y="300.9" width="1" height="40.8" fill="#ffffff" shape-rendering="crispEdges"/>
<rect x="139" y="300.9" width="1" height="40.8" fill="#e5e5f2" shape-rendering="crispEdges"/>
<rect x="140" y="300.9" width="1" height="40.8" fill="#c9c9e4" shape-rendering="crispEdges"/>
<rect x="141" y="300.9" width="1" height="40.8" fill="#e1e1f0" shape-rendering="crispEdges"/>
<rect x="142" y="300.9" width="1" height="40.8" fill="#ffffff" shape-rendering="crispEdges"/>
<rect x="143" y="300.9" width="1" height="40.8" fill="#ddddee" shape-rendering="crispEdges"/>
<rect x="144" y="300.9" width="1" height="40.8" fill="#d1d1e8" shape-rendering="crispEdges"/>
<rect x="145" y="300.9" width="1" height="40.8" fill="#a5a5d2" shape-rendering="crispEdges"/>
<rect x="146" y="300.9" width="1" height="40.8" fill="#9999cc" shape-rendering="crispEdges"/>
<rect x="147" y="300.9" width="1" height="40.8" fill="#adadd6" shape-rendering="crispEdges"/>
<rect x="148" y="300.9" width="1" height="40.8" fill="#d2939f" shape-rendering="crispEdges"/>
<rect x="149" y="300.9" width="1" height="40.8" fill="#e2cdd8" shape-rendering="crispEdges"/>
<rect x="150" y="300.9" width="1" height="40.8" fill="#f0e4e9" shape-rendering="crispEdges"/>
<rect x="151" y="300.9" width="1" height="40.8" fill="#e4ccd8" shape-rendering="crispEdges"/>
<rect x="152" y="300.9" width="1" height="40.8" fill="#d5c6db" shape-rendering="crispEdges"/>
<rect x="153" y="300.9" width="1" height="40.8" fill="#b0b0d8" shape-rendering="crispEdges"/>
<rect x="154" y="300.9" width="1" height="40.8" fill="#e9dbe4" shape-rendering="crispEdges"/>
<rect x="155" y="300.9" width="1" height="40.8" fill="#dbd4e5" shape-rendering="crispEdges"/>
<rect x="156" y="300.9" width="1" height="40.8" fill="#cbcbe5" shape-rendering="crispEdges"/>
<rect x="157" y="300.9" width="1" height="40.8" fill="#d6d6eb" shape-rendering="crispEdges"/>
<rect x="158" y="300.9" width="1" height="40.8" fill="#d1d1e8" shape-rendering="crispEdges"/>
<rect x="159" y="300.9" width="1" height="40.8" fill="#bebedf" shape-rendering="crispEdges"/>
<rect x="160" y="300.9" width="1" height="40.8" fill="#dedeef" shape-rendering="crispEdges"/>
<rect x="161" y="300.9" width="1" height="40.8" fill="#f2f2f9" shape-rendering="crispEdges"/>
<rect x="162" y="300.9" width="1" height="40.8" fill="#ffffff" shape-rendering="crispEdges"/>
<rect x="163" y="300.9" width="1" height="40.8" fill="#ededf6" shape-rendering="crispEdges"/>
<rect x="164" y="300.9" width="1" height="40.8" fill="#8c8cc6" shape-rendering="crispEdges"/>
<rect x="165" y="300.9" width="1" height="40.8" fill="#aaaad4" shape-rendering="crispEdges"/>
<rect x="166" y="300.9" width="1" height="40.8" fill="#ffffff" shape-rendering="crispEdges"/>
<rect x="167" y="300.9" width="1" height="40.8" fill="#9393c9" shape-rendering="crispEdges"/>
<rect x="168" y="300.9" width="1" height="40.8" fill="#9e9ecf" shape-rendering="crispEdges"/>
<rect x="169" y="300.9" width="1" height="40.8" fill="#e3e3f1" shape-rendering="crispEdges"/>
<rect x="170" y="300.9" width="1" height="40.8" fill="#d3d3e9" shape-rendering="crispEdges"/>
<rect x="171" y="300.9" width="1" height="40.8" fill="#ccc8e2" shape-rendering="crispEdges"/>
<rect x="172" y="300.9" width="1" height="40.8" fill="#d8b4c8" shape-rendering="crispEdges"/>
<rect x="173" y="300.9" width="1" height="40.8" fill="#d8b7cb" shape-rendering="crispEdges"/>
<rect x="174" y="300.9" width="1" height="40.8" fill="#d5d5ea" shape-rendering="crispEdges"/>
<rect x="175" y="300.9" width="1" height="40.8" fill="#a6a6d3" shape-rendering="crispEdges"/>
<rect x="176" y="300.9" width="1" height="40.8" fill="#a29bc9" shape-rendering="crispEdges"/>
<rect x="177" y="300.9" width="1" height="40.8" fill="#d6c0d3" shape-rendering="crispEdges"/>
<rect x="178" y="300.9" width="1" height="40.8" fill="#e0e0f0" shape-rendering="crispEdges"/>
<rect x="179" y="300.9" width="1" height="40.8" fill="#d7d7eb" shape-rendering="crispEdges"/>
<rect x="180" y="300.9" width="1" height="40.8" fill="#dedeee" shape-rendering="crispEdges"/>
<rect x="181" y="300.9" width="1" height="40.8" fill="#efecf3" shape-rendering="crispEdges"/>
<rect x="182" y="300.9" width="1" height="40.8" fill="#f7f2f5" shape-rendering="crispEdges"/>
<rect x="183" y="300.9" width="1" height="40.8" fill="#e0e0f0" shape-rendering="crispEdges"/>
<rect x="184" y="300.9" width="1" height="40.8" fill="#c4c4e2" shape-rendering="crispEdges"/>
<rect x="185" y="300.9" width="1" height="40.8" fill="#d2d2e9" shape-rendering="crispEdges"/>
<rect x="186" y="300.9" width="1" height="40.8" fill="#f3f3f9" shape-rendering="crispEdges"/>
<rect x="187" y="300.9" width="1" height="40.8" fill="#cecee6" shape-rendering="crispEdges"/>
<rect x="188" y="300.9" width="1" height="40.8" fill="#d9d9ec" shape-rendering="crispEdges"/>
<rect x="189" y="300.9" width="1" height="40.8" fill="#f0f0f7" shape-rendering="crispEdges"/>
<rect x="190" y="300.9" width="1" height="40.8" fill="#f2f2f8" shape-rendering="crispEdges"/>
<rect x="191" y="300.9" width="1" height="40.8" fill="#aeaed6" shape-rendering="crispEdges"/>
<rect x="192" y="300.9" width="1" height="40.8" fill="#c4c4e2" shape-rendering="crispEdges"/>
<rect x="193" y="300.9" width="1" height="40.8" fill="#d6d6eb" shape-rendering="crispEdges"/>
<rect x="194" y="300.9" width="1" height="40.8" fill="#d2d0e7" shape-rendering="crispEdges"/>
<rect x="195" y="300.9" width="1" height="40.8" fill="#fdf6f6" shape-rendering="crispEdges"/>
<rect x="196" y="300.9" width="1" height="40.8" fill="#ebe8f2" shape-rendering="crispEdges"/>
<rect x="197" y="300.9" width="1" height="40.8" fill="#dedeee" shape-rendering="crispEdges"/>
<rect x="198" y="300.9" width="1" height="40.8" fill="#c6c6e3" shape-rendering="crispEdges"/>
<rect x="199" y="300.9" width="1" height="40.8" fill="#cfcfe7" shape-rendering="crispEdges"/>
<rect x="200" y="300.9" width="1" height="40.8" fill="#e9e9f4" shape-rendering="crispEdges"/>
<rect x="201" y="300.9" width="1" height="40.8" fill="#f4f4f9" shape-rendering="crispEdges"/>
<rect x="202" y="300.9" width="1" height="40.8" fill="#e9e9f4" shape-rendering="crispEdges"/>
<rect x="203" y="300.9" width="1" height="40.8" fill="#9b9bcd" shape-rendering="crispEdges"/>
<rect x="204" y="300.9" width="1" height="40.8" fill="#c7c7e3" shape-rendering="crispEdges"/>
<rect x="205" y="300.9" width="1" height="40.8" fill="#d2d2e9" shape-rendering="crispEdges"/>
<rect x="206" y="300.9" width="1" height="40.8" fill="#e0e0ef" shape-rendering="crispEdges"/>
<rect x="207" y="300.9" width="1" height="40.8" fill="#efeff7" shape-rendering="crispEdges"/>
<rect x="208" y="300.9" width="1" height="40.8" fill="#e9e9f4" shape-rendering="crispEdges"/>
<rect x="209" y="300.9" width="1" height="40.8" fill="#e2e2f1" shape-rendering="crispEdges"/>
<rect x="210" y="300.9" width="1" height="40.8" fill="#e3e3f1" shape-rendering="crispEdges"/>
<rect x="211" y="300.9" width="1" height="40.8" fill="#b6b6db" shape-rendering="crispEdges"/>
<rect x="212" y="300.9" width="1" height="40.8" fill="#b9b9dc" shape-rendering="crispEdges"/>
<rect x="213" y="300.9" width="1" height="40.8" fill="#d7d7eb" shape-rendering="crispEdges"/>
<rect x="214" y="300.9" width="1" height="40.8" fill="#d5d5ea" shape-rendering="crispEdges"/>
<rect x="215" y="300.9" width="1" height="40.8" fill="#cdcde6" shape-rendering="crispEdges"/>
<rect x="216" y="300.9" width="1" height="40.8" fill="#b9b9dc" shape-rendering="crispEdges"/>
<rect x="217" y="300.9" width="1" height="40.8" fill="#9d9dce" shape-rendering="crispEdges"/>
<rect x="218" y="300.9" width="1" height="40.8" fill="#c8c8e3" shape-rendering="crispEdges"/>
<rect x="219" y="300.9" width="1" height="40.8" fill="#d8d8ec" shape-rendering="crispEdges"/>
<rect x="220" y="300.9" width="1" height="40.8" fill="#ffffff" shape-rendering="crispEdges"/>
<rect x="221" y="300.9" width="1" height="40.8" fill="#e5e5f2" shape-rendering="crispEdges"/>
<rect x="222" y="300.9" width="1" height="40.8" fill="#d0d0e8" shape-rendering="crispEdges"/>
<rect x="223" y="300.9" width="1" height="40.8" fill="#dcdcee" shape-rendering="crispEdges"/>
<rect x="224" y="300.9" width="1" height="40.8" fill="#b9b9dc" shape-rendering="crispEdges"/>
<rect x="225" y="300.9" width="1" height="40.8" fill="#a1a1d0" shape-rendering="crispEdges"/>
<rect x="226" y="300.9" width="1" height="40.8" fill="#a5a0cc" shape-rendering="crispEdges"/>
<rect x="227" y="300.9" width="1" height="40.8" fill="#f8e3e3" shape-rendering="crispEdges"/>
<rect x="228" y="300.9" width="1" height="40.8" fill="#fdf5f5" shape-rendering="crispEdges"/>
<rect x="229" y="300.9" width="1" height="40.8" fill="#f7f7fb" shape-rendering="crispEdges"/>
<rect x="230" y="300.9" width="1" height="40.8" fill="#b5b5da" shape-rendering="crispEdges"/>
<rect x="231" y="300.9" width="1" height="40.8" fill="#babadd" shape-rendering="crispEdges"/>
<rect x="232" y="300.9" width="1" height="40.8" fill="#c8c8e4" shape-rendering="crispEdges"/>
<rect x="233" y="300.9" width="1" height="40.8" fill="#eeeef7" shape-rendering="crispEdges"/>
<rect x="234" y="300.9" width="1" height="40.8" fill="#babadc" shape-rendering="crispEdges"/>
<rect x="235" y="300.9" width="1" height="40.8" fill="#958bbf" shape-rendering="crispEdges"/>
<rect x="236" y="300.9" width="1" height="40.8" fill="#e17d7d" shape-rendering="crispEdges"/>
<rect x="237" y="300.9" width="1" height="40.8" fill="#ecacac" shape-rendering="crispEdges"/>
<rect x="238" y="300.9" width="1" height="40.8" fill="#e48989" shape-rendering="crispEdges"/>
<rect x="239" y="300.9" width="1" height="40.8" fill="#eba8a8" shape-rendering="crispEdges"/>
<rect x="240" y="300.9" width="1" height="40.8" fill="#f7dcdc" shape-rendering="crispEdges"/>
<rect x="241" y="300.9" width="1" height="40.8" fill="#fbeded" shape-rendering="crispEdges"/>
<rect x="242" y="300.9" width="1" height="40.8" fill="#eba7a7" shape-rendering="crispEdges"/>
<rect x="243" y="300.9" width="1" height="40.8" fill="#efbaba" shape-rendering="crispEdges"/>
<rect x="244" y="300.9" width="1" height="40.8" fill="#e69393" shape-rendering="crispEdges"/>
<rect x="245" y="300.9" width="1" height="40.8" fill="#f7dada" shape-rendering="crispEdges"/>
<rect x="246" y="300.9" width="1" height="40.8" fill="#efbaba" shape-rendering="crispEdges"/>
<rect x="247" y="300.9" width="1" height="40.8" fill="#db6f71" shape-rendering="crispEdges"/>
<rect x="248" y="300.9" width="1" height="40.8" fill="#ababd5" shape-rendering="crispEdges"/>
<rect x="249" y="300.9" width="1" height="40.8" fill="#d88d96" shape-rendering="crispEdges"/>
<rect x="250" y="300.9" width="1" height="40.8" fill="#e79999" shape-rendering="crispEdges"/>
<rect x="251" y="300.9" width="1" height="40.8" fill="#eba9a9" shape-rendering="crispEdges"/>
<rect x="252" y="300.9" width="1" height="40.8" fill="#f7dede" shape-rendering="crispEdges"/>
<defs><linearGradient id="cb2" x1="0" x2="0" y1="0" y2="1"><stop offset="0" stop-color="#cd2626"/><stop offset="0.5" stop-color="#ffffff"/><stop offset="1" stop-color="#000080"/></linearGradient></defs>
<rect x="258.9" y="294.2" width="2.8" height="47.3" fill="url(#cb2)" stroke="none" stroke-width="1"/>
<text x="274.4" y="306.39" font-size="10.3" text-anchor="end" fill="#1a1a1a" stroke="#1a1a1a" stroke-width="0.1">2</text>
<text x="274.4" y="322.09" font-size="10.3" text-anchor="end" fill="#1a1a1a" stroke="#1a1a1a" stroke-width="0.1">0</text>
<text x="274.4" y="338.89" font-size="10.3" text-anchor="end" fill="#1a1a1a" stroke="#1a1a1a" stroke-width="0.1">−2</text>
<text x="28.2" y="362.08" font-size="8.6" text-anchor="middle" fill="#1a1a1a" stroke="#1a1a1a" stroke-width="0.1" textLength="16.8" lengthAdjust="spacingAndGlyphs">DFS</text>
<text x="26.6" y="383.88" font-size="8.6" text-anchor="middle" fill="#1a1a1a" stroke="#1a1a1a" stroke-width="0.1" textLength="27.8" lengthAdjust="spacingAndGlyphs">TCMF2</text>
<text x="26.9" y="394.28" font-size="8.6" text-anchor="middle" fill="#1a1a1a" stroke="#1a1a1a" stroke-width="0.1" textLength="23.2" lengthAdjust="spacingAndGlyphs">-score</text>
<text x="57.7" y="356.67" font-size="8.3" text-anchor="middle" fill="#1a1a1a" stroke="#1a1a1a" stroke-width="0.1" textLength="14.4" lengthAdjust="spacingAndGlyphs">1-yr</text>
<text x="96.3" y="356.67" font-size="8.3" text-anchor="middle" fill="#1a1a1a" stroke="#1a1a1a" stroke-width="0.1" textLength="14.4" lengthAdjust="spacingAndGlyphs">3-yr</text>
<text x="121" y="356.67" font-size="8.3" text-anchor="middle" fill="#1a1a1a" stroke="#1a1a1a" stroke-width="0.1" textLength="14.4" lengthAdjust="spacingAndGlyphs">5-yr</text>
<text x="184.4" y="356.19" font-size="10.3" text-anchor="middle" fill="#1a1a1a" font-weight="bold" stroke="#1a1a1a" stroke-width="0.35" textLength="88.2" lengthAdjust="spacingAndGlyphs">External validation</text>
<defs><linearGradient id="g3" x1="0" x2="1" y1="0" y2="0"><stop offset="0" stop-color="#b2e1d2"/><stop offset="1" stop-color="#9bd8b0"/></linearGradient></defs>
<rect x="43.6" y="357.5" width="209.6" height="4.5" fill="url(#g3)" stroke="none" stroke-width="1"/>
<line x1="53.1" y1="357.2" x2="53.1" y2="362.3" stroke="#2f8a57" stroke-width="0.9"/>
<line x1="90.7" y1="357.2" x2="90.7" y2="362.3" stroke="#2f8a57" stroke-width="0.9"/>
<line x1="117.6" y1="357.2" x2="117.6" y2="362.3" stroke="#2f8a57" stroke-width="0.9"/>
<rect x="43" y="363.7" width="1" height="40.8" fill="#fefdfd" shape-rendering="crispEdges"/>
<rect x="44" y="363.7" width="1" height="40.8" fill="#fcf3f3" shape-rendering="crispEdges"/>
<rect x="45" y="363.7" width="2" height="40.8" fill="#fcf2f2" shape-rendering="crispEdges"/>
<rect x="47" y="363.7" width="1" height="40.8" fill="#fdf6f6" shape-rendering="crispEdges"/>
<rect x="48" y="363.7" width="1" height="40.8" fill="#fdf7f7" shape-rendering="crispEdges"/>
<rect x="49" y="363.7" width="2" height="40.8" fill="#fdf6f6" shape-rendering="crispEdges"/>
<rect x="51" y="363.7" width="1" height="40.8" fill="#f5f5fa" shape-rendering="crispEdges"/>
<rect x="52" y="363.7" width="1" height="40.8" fill="#f0f0f7" shape-rendering="crispEdges"/>
<rect x="53" y="363.7" width="1" height="40.8" fill="#f9e7e7" shape-rendering="crispEdges"/>
<rect x="54" y="363.7" width="1" height="40.8" fill="#fae7e7" shape-rendering="crispEdges"/>
<rect x="55" y="363.7" width="1" height="40.8" fill="#fae9e9" shape-rendering="crispEdges"/>
<rect x="56" y="363.7" width="1" height="40.8" fill="#f6d9d9" shape-rendering="crispEdges"/>
<rect x="57" y="363.7" width="1" height="40.8" fill="#f3caca" shape-rendering="crispEdges"/>
<rect x="58" y="363.7" width="1" height="40.8" fill="#fdf7f7" shape-rendering="crispEdges"/>
<rect x="59" y="363.7" width="1" height="40.8" fill="#fef9f9" shape-rendering="crispEdges"/>
<rect x="60" y="363.7" width="1" height="40.8" fill="#e79797" shape-rendering="crispEdges"/>
<rect x="61" y="363.7" width="1" height="40.8" fill="#de6f6f" shape-rendering="crispEdges"/>
<rect x="62" y="363.7" width="1" height="40.8" fill="#fcf2f2" shape-rendering="crispEdges"/>
<rect x="63" y="363.7" width="1" height="40.8" fill="#faeaea" shape-rendering="crispEdges"/>
<rect x="64" y="363.7" width="1" height="40.8" fill="#f8e0e0" shape-rendering="crispEdges"/>
<rect x="65" y="363.7" width="1" height="40.8" fill="#fbeeee" shape-rendering="crispEdges"/>
<rect x="66" y="363.7" width="1" height="40.8" fill="#fdf6f6" shape-rendering="crispEdges"/>
<rect x="67" y="363.7" width="2" height="40.8" fill="#fdf7f7" shape-rendering="crispEdges"/>
<rect x="69" y="363.7" width="1" height="40.8" fill="#fef9f9" shape-rendering="crispEdges"/>
<rect x="70" y="363.7" width="1" height="40.8" fill="#f4cdcd" shape-rendering="crispEdges"/>
<rect x="71" y="363.7" width="1" height="40.8" fill="#f4dadb" shape-rendering="crispEdges"/>
<rect x="72" y="363.7" width="1" height="40.8" fill="#f6f6fb" shape-rendering="crispEdges"/>
<rect x="73" y="363.7" width="1" height="40.8" fill="#f8f4f7" shape-rendering="crispEdges"/>
<rect x="74" y="363.7" width="1" height="40.8" fill="#fdf6f6" shape-rendering="crispEdges"/>
<rect x="75" y="363.7" width="1" height="40.8" fill="#fcf4f4" shape-rendering="crispEdges"/>
<rect x="76" y="363.7" width="1" height="40.8" fill="#f7eff1" shape-rendering="crispEdges"/>
<rect x="77" y="363.7" width="1" height="40.8" fill="#ededf6" shape-rendering="crispEdges"/>
<rect x="78" y="363.7" width="1" height="40.8" fill="#f6f4f8" shape-rendering="crispEdges"/>
<rect x="79" y="363.7" width="1" height="40.8" fill="#fdf5f5" shape-rendering="crispEdges"/>
<rect x="80" y="363.7" width="1" height="40.8" fill="#fdf6f6" shape-rendering="crispEdges"/>
<rect x="81" y="363.7" width="2" height="40.8" fill="#fdf8f8" shape-rendering="crispEdges"/>
<rect x="83" y="363.7" width="1" height="40.8" fill="#fdf6f6" shape-rendering="crispEdges"/>
<rect x="84" y="363.7" width="1" height="40.8" fill="#f9f4f7" shape-rendering="crispEdges"/>
<rect x="85" y="363.7" width="1" height="40.8" fill="#ececf6" shape-rendering="crispEdges"/>
<rect x="86" y="363.7" width="1" height="40.8" fill="#f7f1f4" shape-rendering="crispEdges"/>
<rect x="87" y="363.7" width="1" height="40.8" fill="#fcf3f3" shape-rendering="crispEdges"/>
<rect x="88" y="363.7" width="1" height="40.8" fill="#fdf6f6" shape-rendering="crispEdges"/>
<rect x="89" y="363.7" width="1" height="40.8" fill="#fdf7f7" shape-rendering="crispEdges"/>
<rect x="90" y="363.7" width="1" height="40.8" fill="#fdf8f8" shape-rendering="crispEdges"/>
<rect x="91" y="363.7" width="1" height="40.8" fill="#fcf1f1" shape-rendering="crispEdges"/>
<rect x="92" y="363.7" width="1" height="40.8" fill="#fbefef" shape-rendering="crispEdges"/>
<rect x="93" y="363.7" width="1" height="40.8" fill="#f6eff2" shape-rendering="crispEdges"/>
<rect x="94" y="363.7" width="1" height="40.8" fill="#efeff7" shape-rendering="crispEdges"/>
<rect x="95" y="363.7" width="1" height="40.8" fill="#ececf5" shape-rendering="crispEdges"/>
<rect x="96" y="363.7" width="2" height="40.8" fill="#dcc0d4" shape-rendering="crispEdges"/>
<rect x="98" y="363.7" width="1" height="40.8" fill="#e2dceb" shape-rendering="crispEdges"/>
<rect x="99" y="363.7" width="1" height="40.8" fill="#f4f4f9" shape-rendering="crispEdges"/>
<rect x="100" y="363.7" width="3" height="40.8" fill="#ffffff" shape-rendering="crispEdges"/>
<rect x="103" y="363.7" width="1" height="40.8" fill="#eeeef6" shape-rendering="crispEdges"/>
<rect x="104" y="363.7" width="1" height="40.8" fill="#e3e3f1" shape-rendering="crispEdges"/>
<rect x="105" y="363.7" width="1" height="40.8" fill="#fbf1f1" shape-rendering="crispEdges"/>
<rect x="106" y="363.7" width="1" height="40.8" fill="#fcf3f3" shape-rendering="crispEdges"/>
<rect x="107" y="363.7" width="1" height="40.8" fill="#fcf1f1" shape-rendering="crispEdges"/>
<rect x="108" y="363.7" width="1" height="40.8" fill="#fbeeee" shape-rendering="crispEdges"/>
<rect x="109" y="363.7" width="1" height="40.8" fill="#fcf4f4" shape-rendering="crispEdges"/>
<rect x="110" y="363.7" width="1" height="40.8" fill="#fdf5f5" shape-rendering="crispEdges"/>
<rect x="111" y="363.7" width="1" height="40.8" fill="#faf1f2" shape-rendering="crispEdges"/>
<rect x="112" y="363.7" width="1" height="40.8" fill="#efdade" shape-rendering="crispEdges"/>
<rect x="113" y="363.7" width="1" height="40.8" fill="#efb9b9" shape-rendering="crispEdges"/>
<rect x="114" y="363.7" width="2" height="40.8" fill="#fcf1f1" shape-rendering="crispEdges"/>
<rect x="116" y="363.7" width="1" height="40.8" fill="#fcf2f2" shape-rendering="crispEdges"/>
<rect x="117" y="363.7" width="1" height="40.8" fill="#f4edf2" shape-rendering="crispEdges"/>
<rect x="118" y="363.7" width="1" height="40.8" fill="#e8e8f4" shape-rendering="crispEdges"/>
<rect x="119" y="363.7" width="1" height="40.8" fill="#eaeaf4" shape-rendering="crispEdges"/>
<rect x="120" y="363.7" width="1" height="40.8" fill="#f3f3f9" shape-rendering="crispEdges"/>
<rect x="121" y="363.7" width="1" height="40.8" fill="#e59192" shape-rendering="crispEdges"/>
<rect x="122" y="363.7" width="1" height="40.8" fill="#e79595" shape-rendering="crispEdges"/>
<rect x="123" y="363.7" width="1" height="40.8" fill="#eec0c1" shape-rendering="crispEdges"/>
<rect x="124" y="363.7" width="1" height="40.8" fill="#dfdfef" shape-rendering="crispEdges"/>
<rect x="125" y="363.7" width="1" height="40.8" fill="#d3d3e9" shape-rendering="crispEdges"/>
<rect x="126" y="363.7" width="1" height="40.8" fill="#dedeee" shape-rendering="crispEdges"/>
<rect x="127" y="363.7" width="1" height="40.8" fill="#dfdfef" shape-rendering="crispEdges"/>
<rect x="128" y="363.7" width="1" height="40.8" fill="#dadaed" shape-rendering="crispEdges"/>
<rect x="129" y="363.7" width="1" height="40.8" fill="#e0e0ef" shape-rendering="crispEdges"/>
<rect x="130" y="363.7" width="1" height="40.8" fill="#dedeef" shape-rendering="crispEdges"/>
<rect x="131" y="363.7" width="1" height="40.8" fill="#e2e2f1" shape-rendering="crispEdges"/>
<rect x="132" y="363.7" width="1" height="40.8" fill="#ededf6" shape-rendering="crispEdges"/>
<rect x="133" y="363.7" width="1" height="40.8" fill="#f1eef5" shape-rendering="crispEdges"/>
<rect x="134" y="363.7" width="1" height="40.8" fill="#ecc4c8" shape-rendering="crispEdges"/>
<rect x="135" y="363.7" width="1" height="40.8" fill="#dcdcee" shape-rendering="crispEdges"/>
<rect x="136" y="363.7" width="1" height="40.8" fill="#bebede" shape-rendering="crispEdges"/>
<rect x="137" y="363.7" width="1" height="40.8" fill="#bcbcde" shape-rendering="crispEdges"/>
<rect x="138" y="363.7" width="1" height="40.8" fill="#d5d5ea" shape-rendering="crispEdges"/>
<rect x="139" y="363.7" width="1" height="40.8" fill="#fefcfc" shape-rendering="crispEdges"/>
<rect x="140" y="363.7" width="1" height="40.8" fill="#fefbfb" shape-rendering="crispEdges"/>
<rect x="141" y="363.7" width="1" height="40.8" fill="#fef9f9" shape-rendering="crispEdges"/>
<rect x="142" y="363.7" width="1" height="40.8" fill="#dbdbed" shape-rendering="crispEdges"/>
<rect x="143" y="363.7" width="1" height="40.8" fill="#e2e2f1" shape-rendering="crispEdges"/>
<rect x="144" y="363.7" width="1" height="40.8" fill="#f4f4fa" shape-rendering="crispEdges"/>
<rect x="145" y="363.7" width="1" height="40.8" fill="#efeff7" shape-rendering="crispEdges"/>
<rect x="146" y="363.7" width="1" height="40.8" fill="#ededf6" shape-rendering="crispEdges"/>
<rect x="147" y="363.7" width="1" height="40.8" fill="#dfdfef" shape-rendering="crispEdges"/>
<rect x="148" y="363.7" width="1" height="40.8" fill="#ede3ea" shape-rendering="crispEdges"/>
<rect x="149" y="363.7" width="1" height="40.8" fill="#f9e6e6" shape-rendering="crispEdges"/>
<rect x="150" y="363.7" width="1" height="40.8" fill="#dcdced" shape-rendering="crispEdges"/>
<rect x="151" y="363.7" width="1" height="40.8" fill="#ebe6ef" shape-rendering="crispEdges"/>
<rect x="152" y="363.7" width="1" height="40.8" fill="#f7dcdc" shape-rendering="crispEdges"/>
<rect x="153" y="363.7" width="1" height="40.8" fill="#f4f4fa" shape-rendering="crispEdges"/>
<rect x="154" y="363.7" width="1" height="40.8" fill="#f4f4f9" shape-rendering="crispEdges"/>
<rect x="155" y="363.7" width="1" height="40.8" fill="#f4f4fa" shape-rendering="crispEdges"/>
<rect x="156" y="363.7" width="1" height="40.8" fill="#f5f5fa" shape-rendering="crispEdges"/>
<rect x="157" y="363.7" width="1" height="40.8" fill="#f3e6ea" shape-rendering="crispEdges"/>
<rect x="158" y="363.7" width="1" height="40.8" fill="#e28080" shape-rendering="crispEdges"/>
<rect x="159" y="363.7" width="1" height="40.8" fill="#e07777" shape-rendering="crispEdges"/>
<rect x="160" y="363.7" width="1" height="40.8" fill="#e17c7c" shape-rendering="crispEdges"/>
<rect x="161" y="363.7" width="1" height="40.8" fill="#ebbcbf" shape-rendering="crispEdges"/>
<rect x="162" y="363.7" width="1" height="40.8" fill="#f5f5fa" shape-rendering="crispEdges"/>
<rect x="163" y="363.7" width="1" height="40.8" fill="#ececf6" shape-rendering="crispEdges"/>
<rect x="164" y="363.7" width="1" height="40.8" fill="#efeff7" shape-rendering="crispEdges"/>
<rect x="165" y="363.7" width="1" height="40.8" fill="#ffffff" shape-rendering="crispEdges"/>
<rect x="166" y="363.7" width="1" height="40.8" fill="#efeff7" shape-rendering="crispEdges"/>
<rect x="167" y="363.7" width="1" height="40.8" fill="#dfdfef" shape-rendering="crispEdges"/>
<rect x="168" y="363.7" width="2" height="40.8" fill="#ffffff" shape-rendering="crispEdges"/>
<rect x="170" y="363.7" width="1" height="40.8" fill="#eba7a7" shape-rendering="crispEdges"/>
<rect x="171" y="363.7" width="1" height="40.8" fill="#e58f8f" shape-rendering="crispEdges"/>
<rect x="172" y="363.7" width="1" height="40.8" fill="#fefafa" shape-rendering="crispEdges"/>
<rect x="173" y="363.7" width="1" height="40.8" fill="#fffdfd" shape-rendering="crispEdges"/>
<rect x="174" y="363.7" width="1" height="40.8" fill="#fbeded" shape-rendering="crispEdges"/>
<rect x="175" y="363.7" width="1" height="40.8" fill="#fffdfd" shape-rendering="crispEdges"/>
<rect x="176" y="363.7" width="1" height="40.8" fill="#e7e7f3" shape-rendering="crispEdges"/>
<rect x="177" y="363.7" width="1" height="40.8" fill="#c8c8e4" shape-rendering="crispEdges"/>
<rect x="178" y="363.7" width="1" height="40.8" fill="#c2c2e1" shape-rendering="crispEdges"/>
<rect x="179" y="363.7" width="1" height="40.8" fill="#e2e2f0" shape-rendering="crispEdges"/>
<rect x="180" y="363.7" width="1" height="40.8" fill="#dcdcee" shape-rendering="crispEdges"/>
<rect x="181" y="363.7" width="1" height="40.8" fill="#e4e4f2" shape-rendering="crispEdges"/>
<rect x="182" y="363.7" width="1" height="40.8" fill="#efeff7" shape-rendering="crispEdges"/>
<rect x="183" y="363.7" width="1" height="40.8" fill="#e6e6f3" shape-rendering="crispEdges"/>
<rect x="184" y="363.7" width="1" height="40.8" fill="#e7e7f3" shape-rendering="crispEdges"/>
<rect x="185" y="363.7" width="2" height="40.8" fill="#eeeef6" shape-rendering="crispEdges"/>
<rect x="187" y="363.7" width="1" height="40.8" fill="#eaeaf4" shape-rendering="crispEdges"/>
<rect x="188" y="363.7" width="1" height="40.8" fill="#f0f0f8" shape-rendering="crispEdges"/>
<rect x="189" y="363.7" width="1" height="40.8" fill="#ffffff" shape-rendering="crispEdges"/>
<rect x="190" y="363.7" width="1" height="40.8" fill="#eeeef6" shape-rendering="crispEdges"/>
<rect x="191" y="363.7" width="1" height="40.8" fill="#e3e3f1" shape-rendering="crispEdges"/>
<rect x="192" y="363.7" width="1" height="40.8" fill="#d6d6eb" shape-rendering="crispEdges"/>
<rect x="193" y="363.7" width="1" height="40.8" fill="#b2b2d9" shape-rendering="crispEdges"/>
<rect x="194" y="363.7" width="1" height="40.8" fill="#bbbbdd" shape-rendering="crispEdges"/>
<rect x="195" y="363.7" width="1" height="40.8" fill="#e9e9f4" shape-rendering="crispEdges"/>
<rect x="196" y="363.7" width="1" height="40.8" fill="#f9f9fc" shape-rendering="crispEdges"/>
<rect x="197" y="363.7" width="1" height="40.8" fill="#fafafc" shape-rendering="crispEdges"/>
<rect x="198" y="363.7" width="1" height="40.8" fill="#f4f4fa" shape-rendering="crispEdges"/>
<rect x="199" y="363.7" width="1" height="40.8" fill="#f6f6fa" shape-rendering="crispEdges"/>
<rect x="200" y="363.7" width="1" height="40.8" fill="#fbf0f0" shape-rendering="crispEdges"/>
<rect x="201" y="363.7" width="1" height="40.8" fill="#fdf7f7" shape-rendering="crispEdges"/>
<rect x="202" y="363.7" width="2" height="40.8" fill="#ffffff" shape-rendering="crispEdges"/>
<rect x="204" y="363.7" width="1" height="40.8" fill="#f8f8fc" shape-rendering="crispEdges"/>
<rect x="205" y="363.7" width="1" height="40.8" fill="#e0e0f0" shape-rendering="crispEdges"/>
<rect x="206" y="363.7" width="1" height="40.8" fill="#ededf6" shape-rendering="crispEdges"/>
<rect x="207" y="363.7" width="1" height="40.8" fill="#f7f7fb" shape-rendering="crispEdges"/>
<rect x="208" y="363.7" width="1" height="40.8" fill="#f6f6fb" shape-rendering="crispEdges"/>
<rect x="209" y="363.7" width="1" height="40.8" fill="#f3f3f9" shape-rendering="crispEdges"/>
<rect x="210" y="363.7" width="1" height="40.8" fill="#f8f6f9" shape-rendering="crispEdges"/>
<rect x="211" y="363.7" width="1" height="40.8" fill="#fef9f9" shape-rendering="crispEdges"/>
<rect x="212" y="363.7" width="1" height="40.8" fill="#fefafa" shape-rendering="crispEdges"/>
<rect x="213" y="363.7" width="1" height="40.8" fill="#f5f5fa" shape-rendering="crispEdges"/>
<rect x="214" y="363.7" width="1" height="40.8" fill="#f6f6fb" shape-rendering="crispEdges"/>
<rect x="215" y="363.7" width="1" height="40.8" fill="#f7f7fb" shape-rendering="crispEdges"/>
<rect x="216" y="363.7" width="1" height="40.8" fill="#f6f6fa" shape-rendering="crispEdges"/>
<rect x="217" y="363.7" width="1" height="40.8" fill="#fbf1f1" shape-rendering="crispEdges"/>
<rect x="218" y="363.7" width="1" height="40.8" fill="#fcf4f4" shape-rendering="crispEdges"/>
<rect x="219" y="363.7" width="1" height="40.8" fill="#fdf5f5" shape-rendering="crispEdges"/>
<rect x="220" y="363.7" width="1" height="40.8" fill="#ffffff" shape-rendering="crispEdges"/>
<rect x="221" y="363.7" width="1" height="40.8" fill="#d7d7eb" shape-rendering="crispEdges"/>
<rect x="222" y="363.7" width="1" height="40.8" fill="#dfdfef" shape-rendering="crispEdges"/>
<rect x="223" y="363.7" width="1" height="40.8" fill="#e1e1f0" shape-rendering="crispEdges"/>
<rect x="224" y="363.7" width="2" height="40.8" fill="#e3e3f1" shape-rendering="crispEdges"/>
<rect x="226" y="363.7" width="1" height="40.8" fill="#e5e5f2" shape-rendering="crispEdges"/>
<rect x="227" y="363.7" width="1" height="40.8" fill="#ebebf5" shape-rendering="crispEdges"/>
<rect x="228" y="363.7" width="1" height="40.8" fill="#f5f5fa" shape-rendering="crispEdges"/>
<rect x="229" y="363.7" width="1" height="40.8" fill="#e6e6f3" shape-rendering="crispEdges"/>
<rect x="230" y="363.7" width="1" height="40.8" fill="#ededf6" shape-rendering="crispEdges"/>
<rect x="231" y="363.7" width="1" height="40.8" fill="#fafafd" shape-rendering="crispEdges"/>
<rect x="232" y="363.7" width="1" height="40.8" fill="#cfcfe7" shape-rendering="crispEdges"/>
<rect x="233" y="363.7" width="1" height="40.8" fill="#c1c1e0" shape-rendering="crispEdges"/>
<rect x="234" y="363.7" width="1" height="40.8" fill="#eaeaf5" shape-rendering="crispEdges"/>
<rect x="235" y="363.7" width="1" height="40.8" fill="#f6f4f8" shape-rendering="crispEdges"/>
<rect x="236" y="363.7" width="1" height="40.8" fill="#fdf7f7" shape-rendering="crispEdges"/>
<rect x="237" y="363.7" width="1" height="40.8" fill="#fcf0f0" shape-rendering="crispEdges"/>
<rect x="238" y="363.7" width="1" height="40.8" fill="#f5eef2" shape-rendering="crispEdges"/>
<rect x="239" y="363.7" width="1" height="40.8" fill="#e3e3f1" shape-rendering="crispEdges"/>
<rect x="240" y="363.7" width="1" height="40.8" fill="#f4ecf0" shape-rendering="crispEdges"/>
<rect x="241" y="363.7" width="1" height="40.8" fill="#fcf4f4" shape-rendering="crispEdges"/>
<rect x="242" y="363.7" width="1" height="40.8" fill="#f0f0f7" shape-rendering="crispEdges"/>
<rect x="243" y="363.7" width="1" height="40.8" fill="#f9f4f6" shape-rendering="crispEdges"/>
<rect x="244" y="363.7" width="1" height="40.8" fill="#faebeb" shape-rendering="crispEdges"/>
<rect x="245" y="363.7" width="1" height="40.8" fill="#e6e3f0" shape-rendering="crispEdges"/>
<rect x="246" y="363.7" width="1" height="40.8" fill="#dedeef" shape-rendering="crispEdges"/>
<rect x="247" y="363.7" width="1" height="40.8" fill="#e3e3f1" shape-rendering="crispEdges"/>
<rect x="248" y="363.7" width="1" height="40.8" fill="#f5f0f5" shape-rendering="crispEdges"/>
<rect x="249" y="363.7" width="1" height="40.8" fill="#fdf8f8" shape-rendering="crispEdges"/>
<rect x="250" y="363.7" width="1" height="40.8" fill="#fef9f9" shape-rendering="crispEdges"/>
<rect x="251" y="363.7" width="1" height="40.8" fill="#f4d1d1" shape-rendering="crispEdges"/>
<rect x="252" y="363.7" width="1" height="40.8" fill="#e79797" shape-rendering="crispEdges"/>
<defs><linearGradient id="cb3" x1="0" x2="0" y1="0" y2="1"><stop offset="0" stop-color="#cd2626"/><stop offset="0.5" stop-color="#ffffff"/><stop offset="1" stop-color="#000080"/></linearGradient></defs>
<rect x="259.7" y="357.2" width="3" height="46.9" fill="url(#cb3)" stroke="none" stroke-width="1"/>
<text x="275" y="367.79" font-size="10.3" text-anchor="end" fill="#1a1a1a" stroke="#1a1a1a" stroke-width="0.1">4</text>
<text x="275" y="384.79" font-size="10.3" text-anchor="end" fill="#1a1a1a" stroke="#1a1a1a" stroke-width="0.1">0</text>
<text x="275" y="401.89" font-size="10.3" text-anchor="end" fill="#1a1a1a" stroke="#1a1a1a" stroke-width="0.1">−4</text>
<line x1="315.5" y1="18.8" x2="421.5" y2="18.8" stroke="#ebebeb" stroke-width="0.8"/>
<line x1="315.5" y1="39.6" x2="421.5" y2="39.6" stroke="#ebebeb" stroke-width="0.8"/>
<line x1="315.5" y1="59.4" x2="421.5" y2="59.4" stroke="#ebebeb" stroke-width="0.8"/>
<line x1="315.5" y1="78.6" x2="421.5" y2="78.6" stroke="#ebebeb" stroke-width="0.8"/>
<line x1="315.5" y1="98.2" x2="421.5" y2="98.2" stroke="#ebebeb" stroke-width="0.8"/>
<line x1="342.2" y1="17.5" x2="342.2" y2="112.5" stroke="#ebebeb" stroke-width="0.8"/>
<line x1="394.3" y1="17.5" x2="394.3" y2="112.5" stroke="#ebebeb" stroke-width="0.8"/>
<path d="M342.6,28 C342.77,29.6 342.7,33.92 342.8,37.6 C342.9,41.28 342.8,47.5 343.2,50.1 C343.6,52.7 343.97,52.15 345.2,53.2 C346.43,54.25 348.48,55.17 350.6,56.4 C352.72,57.63 355.82,59.22 357.9,60.6 C359.98,61.98 361.82,63.48 363.1,64.7 C364.38,65.92 365.6,66.85 365.6,67.9 C365.6,68.95 364.9,69.78 363.1,71 C361.3,72.22 357.42,73.8 354.8,75.2 C352.18,76.6 349.08,77.65 347.4,79.4 C345.72,81.15 345.28,83.6 344.7,85.7 C344.12,87.8 344.17,90.08 343.9,92 C343.63,93.92 343.33,94.83 343.1,97.2 C342.87,99.57 342.7,104.7 342.5,106.2 C342.3,107.7 342.1,107.7 341.9,106.2 C341.7,104.7 341.53,99.57 341.3,97.2 C341.07,94.83 340.77,93.92 340.5,92 C340.23,90.08 340.28,87.8 339.7,85.7 C339.12,83.6 338.68,81.15 337,79.4 C335.32,77.65 332.22,76.6 329.6,75.2 C326.98,73.8 323.1,72.22 321.3,71 C319.5,69.78 318.8,68.95 318.8,67.9 C318.8,66.85 320.02,65.92 321.3,64.7 C322.58,63.48 324.42,61.98 326.5,60.6 C328.58,59.22 331.68,57.63 333.8,56.4 C335.92,55.17 337.97,54.25 339.2,53.2 C340.43,52.15 340.8,52.7 341.2,50.1 C341.6,47.5 341.5,41.28 341.6,37.6 C341.7,33.92 341.63,29.6 341.8,28 C341.97,26.4 342.43,26.4 342.6,28Z" fill="#eea59c" stroke="#e56a5e" stroke-width="0.6" stroke-opacity="0.45"/>
<rect x="339.4" y="64.7" width="5.6" height="8.4" fill="#e56a5e" stroke="none" stroke-width="1" fill-opacity="0.85"/>
<rect x="342.04" y="60.44" width="0.9" height="0.9" fill="#222" fill-opacity="0.6"/>
<rect x="342.45" y="70.76" width="0.9" height="0.9" fill="#222" fill-opacity="0.85"/>
<rect x="341.7" y="79.8" width="0.9" height="0.9" fill="#222" fill-opacity="0.6"/>
<rect x="355.35" y="71.93" width="0.9" height="0.9" fill="#222" fill-opacity="0.4"/>
<rect x="336.34" y="62.58" width="0.9" height="0.9" fill="#222" fill-opacity="0.4"/>
<rect x="332.23" y="68.57" width="0.9" height="0.9" fill="#222" fill-opacity="0.85"/>
<rect x="356.87" y="62.78" width="0.9" height="0.9" fill="#222" fill-opacity="0.6"/>
<rect x="353.87" y="65.59" width="0.9" height="0.9" fill="#222" fill-opacity="0.85"/>
<rect x="351.04" y="74.9" width="0.9" height="0.9" fill="#222" fill-opacity="0.4"/>
<rect x="327.07" y="66.93" width="0.9" height="0.9" fill="#222" fill-opacity="0.6"/>
<rect x="340.92" y="62.14" width="0.9" height="0.9" fill="#222" fill-opacity="0.6"/>
<rect x="349.31" y="63.36" width="0.9" height="0.9" fill="#222" fill-opacity="0.4"/>
<rect x="338.75" y="78.45" width="0.9" height="0.9" fill="#222" fill-opacity="0.6"/>
<rect x="347.9" y="76.63" width="0.9" height="0.9" fill="#222" fill-opacity="0.85"/>
<rect x="336.19" y="68.28" width="0.9" height="0.9" fill="#222" fill-opacity="0.85"/>
<rect x="344.77" y="69.62" width="0.9" height="0.9" fill="#222" fill-opacity="0.85"/>
<rect x="352.06" y="65.18" width="0.9" height="0.9" fill="#222" fill-opacity="0.6"/>
<rect x="335.78" y="66.47" width="0.9" height="0.9" fill="#222" fill-opacity="0.4"/>
<rect x="341.33" y="68.14" width="0.9" height="0.9" fill="#222" fill-opacity="0.4"/>
<rect x="331.05" y="68.67" width="0.9" height="0.9" fill="#222" fill-opacity="0.6"/>
<rect x="332.13" y="58.67" width="0.9" height="0.9" fill="#222" fill-opacity="0.85"/>
<rect x="341.09" y="76.3" width="0.9" height="0.9" fill="#222" fill-opacity="0.6"/>
<rect x="358.26" y="70.28" width="0.9" height="0.9" fill="#222" fill-opacity="0.6"/>
<rect x="330.93" y="66.54" width="0.9" height="0.9" fill="#222" fill-opacity="0.4"/>
<rect x="345.44" y="68.61" width="0.9" height="0.9" fill="#222" fill-opacity="0.85"/>
<rect x="353.12" y="69.42" width="0.9" height="0.9" fill="#222" fill-opacity="0.6"/>
<rect x="348.79" y="75.05" width="0.9" height="0.9" fill="#222" fill-opacity="0.85"/>
<rect x="339.08" y="78.93" width="0.9" height="0.9" fill="#222" fill-opacity="0.4"/>
<rect x="341.57" y="72.14" width="0.9" height="0.9" fill="#222" fill-opacity="0.6"/>
<rect x="349.49" y="66.01" width="0.9" height="0.9" fill="#222" fill-opacity="0.4"/>
<rect x="341.37" y="55.14" width="0.9" height="0.9" fill="#222" fill-opacity="0.6"/>
<rect x="336.38" y="64.08" width="0.9" height="0.9" fill="#222" fill-opacity="0.85"/>
<rect x="355.45" y="68.22" width="0.9" height="0.9" fill="#222" fill-opacity="0.85"/>
<rect x="348.55" y="60.05" width="0.9" height="0.9" fill="#222" fill-opacity="0.4"/>
<rect x="341.66" y="61.26" width="0.9" height="0.9" fill="#222" fill-opacity="0.6"/>
<rect x="356.54" y="64.57" width="0.9" height="0.9" fill="#222" fill-opacity="0.4"/>
<rect x="352" y="72.97" width="0.9" height="0.9" fill="#222" fill-opacity="0.85"/>
<rect x="329.87" y="70.62" width="0.9" height="0.9" fill="#222" fill-opacity="0.6"/>
<rect x="349.29" y="56.99" width="0.9" height="0.9" fill="#222" fill-opacity="0.6"/>
<rect x="354.87" y="62.06" width="0.9" height="0.9" fill="#222" fill-opacity="0.85"/>
<rect x="349.72" y="62.44" width="0.9" height="0.9" fill="#222" fill-opacity="0.6"/>
<rect x="333.25" y="62.67" width="0.9" height="0.9" fill="#222" fill-opacity="0.85"/>
<rect x="348.75" y="70.19" width="0.9" height="0.9" fill="#222" fill-opacity="0.6"/>
<rect x="340.97" y="79.83" width="0.9" height="0.9" fill="#222" fill-opacity="0.4"/>
<rect x="354.36" y="69.28" width="0.9" height="0.9" fill="#222" fill-opacity="0.85"/>
<rect x="327.48" y="68.45" width="0.9" height="0.9" fill="#222" fill-opacity="0.4"/>
<rect x="355.52" y="70.06" width="0.9" height="0.9" fill="#222" fill-opacity="0.6"/>
<rect x="344.63" y="76.72" width="0.9" height="0.9" fill="#222" fill-opacity="0.6"/>
<rect x="345.85" y="71.31" width="0.9" height="0.9" fill="#222" fill-opacity="0.4"/>
<rect x="346.57" y="60.01" width="0.9" height="0.9" fill="#222" fill-opacity="0.6"/>
<rect x="341.62" y="62.27" width="0.9" height="0.9" fill="#222" fill-opacity="0.4"/>
<rect x="333.92" y="58.45" width="0.9" height="0.9" fill="#222" fill-opacity="0.85"/>
<rect x="331.1" y="63.59" width="0.9" height="0.9" fill="#222" fill-opacity="0.6"/>
<rect x="347.9" y="60.96" width="0.9" height="0.9" fill="#222" fill-opacity="0.85"/>
<rect x="347.77" y="61.9" width="0.9" height="0.9" fill="#222" fill-opacity="0.6"/>
<rect x="339.41" y="70.34" width="0.9" height="0.9" fill="#222" fill-opacity="0.6"/>
<rect x="331.65" y="65.88" width="0.9" height="0.9" fill="#222" fill-opacity="0.6"/>
<rect x="344.67" y="61" width="0.9" height="0.9" fill="#222" fill-opacity="0.4"/>
<rect x="339.28" y="52.98" width="0.9" height="0.9" fill="#222" fill-opacity="0.6"/>
<rect x="334.29" y="61.97" width="0.9" height="0.9" fill="#222" fill-opacity="0.85"/>
<rect x="339.64" y="62.01" width="0.9" height="0.9" fill="#222" fill-opacity="0.6"/>
<rect x="354.91" y="65.87" width="0.9" height="0.9" fill="#222" fill-opacity="0.6"/>
<rect x="343.05" y="71.11" width="0.9" height="0.9" fill="#222" fill-opacity="0.85"/>
<rect x="346.73" y="67.75" width="0.9" height="0.9" fill="#222" fill-opacity="0.6"/>
<rect x="327.78" y="67.85" width="0.9" height="0.9" fill="#222" fill-opacity="0.4"/>
<rect x="348.2" y="71.71" width="0.9" height="0.9" fill="#222" fill-opacity="0.4"/>
<rect x="331.99" y="68.07" width="0.9" height="0.9" fill="#222" fill-opacity="0.4"/>
<rect x="329.23" y="65.11" width="0.9" height="0.9" fill="#222" fill-opacity="0.85"/>
<rect x="344.54" y="70.8" width="0.9" height="0.9" fill="#222" fill-opacity="0.85"/>
<rect x="358.7" y="66.39" width="0.9" height="0.9" fill="#222" fill-opacity="0.85"/>
<rect x="353.77" y="65.16" width="0.9" height="0.9" fill="#222" fill-opacity="0.6"/>
<rect x="336.07" y="62.66" width="0.9" height="0.9" fill="#222" fill-opacity="0.4"/>
<rect x="342.49" y="59.56" width="0.9" height="0.9" fill="#222" fill-opacity="0.4"/>
<rect x="338.93" y="75.64" width="0.9" height="0.9" fill="#222" fill-opacity="0.4"/>
<rect x="343.6" y="84.85" width="0.9" height="0.9" fill="#222" fill-opacity="0.85"/>
<rect x="347.94" y="66.36" width="0.9" height="0.9" fill="#222" fill-opacity="0.6"/>
<rect x="349.7" y="58.25" width="0.9" height="0.9" fill="#222" fill-opacity="0.4"/>
<rect x="342.81" y="64.22" width="0.9" height="0.9" fill="#222" fill-opacity="0.4"/>
<rect x="338.74" y="63.2" width="0.9" height="0.9" fill="#222" fill-opacity="0.6"/>
<rect x="354.07" y="67.92" width="0.9" height="0.9" fill="#222" fill-opacity="0.6"/>
<rect x="342.97" y="86" width="0.9" height="0.9" fill="#222" fill-opacity="0.4"/>
<rect x="339.27" y="66.25" width="0.9" height="0.9" fill="#222" fill-opacity="0.85"/>
<rect x="356.84" y="70.47" width="0.9" height="0.9" fill="#222" fill-opacity="0.85"/>
<rect x="346.7" y="68.96" width="0.9" height="0.9" fill="#222" fill-opacity="0.4"/>
<rect x="355.29" y="71.6" width="0.9" height="0.9" fill="#222" fill-opacity="0.4"/>
<rect x="343.17" y="82.3" width="0.9" height="0.9" fill="#222" fill-opacity="0.4"/>
<rect x="349.4" y="67.35" width="0.9" height="0.9" fill="#222" fill-opacity="0.85"/>
<rect x="332.91" y="75.23" width="0.9" height="0.9" fill="#222" fill-opacity="0.85"/>
<rect x="343.49" y="73.12" width="0.9" height="0.9" fill="#222" fill-opacity="0.4"/>
<rect x="344.14" y="68.35" width="0.9" height="0.9" fill="#222" fill-opacity="0.6"/>
<rect x="344.57" y="55.78" width="0.9" height="0.9" fill="#222" fill-opacity="0.4"/>
<rect x="356.47" y="69.83" width="0.9" height="0.9" fill="#222" fill-opacity="0.85"/>
<rect x="337.46" y="74.13" width="0.9" height="0.9" fill="#222" fill-opacity="0.85"/>
<rect x="356.8" y="68.01" width="0.9" height="0.9" fill="#222" fill-opacity="0.6"/>
<rect x="344.55" y="70.77" width="0.9" height="0.9" fill="#222" fill-opacity="0.4"/>
<rect x="334.9" y="67.61" width="0.9" height="0.9" fill="#222" fill-opacity="0.85"/>
<rect x="356.7" y="68.39" width="0.9" height="0.9" fill="#222" fill-opacity="0.85"/>
<rect x="343.23" y="64.81" width="0.9" height="0.9" fill="#222" fill-opacity="0.4"/>
<rect x="346.88" y="58.01" width="0.9" height="0.9" fill="#222" fill-opacity="0.4"/>
<rect x="345.22" y="62.01" width="0.9" height="0.9" fill="#222" fill-opacity="0.6"/>
<rect x="339.92" y="55.52" width="0.9" height="0.9" fill="#222" fill-opacity="0.85"/>
<rect x="326.27" y="67.89" width="0.9" height="0.9" fill="#222" fill-opacity="0.6"/>
<rect x="339.88" y="80.6" width="0.9" height="0.9" fill="#222" fill-opacity="0.6"/>
<rect x="343.43" y="60.45" width="0.9" height="0.9" fill="#222" fill-opacity="0.6"/>
<rect x="354.54" y="71.73" width="0.9" height="0.9" fill="#222" fill-opacity="0.85"/>
<path d="M394.7,27.5 C394.92,29.23 394.83,34.73 395.2,37.9 C395.57,41.07 396.15,44.18 396.9,46.5 C397.65,48.82 398.35,50.2 399.7,51.8 C401.05,53.4 403.4,54.67 405,56.1 C406.6,57.53 408.22,58.78 409.3,60.4 C410.38,62.02 411.22,64.02 411.5,65.8 C411.78,67.58 411.18,69.5 411,71.1 C410.82,72.7 409.78,73.78 410.4,75.4 C411.02,77.02 413.55,79 414.7,80.8 C415.85,82.6 417.12,84.42 417.3,86.2 C417.48,87.98 416.95,89.72 415.8,91.5 C414.65,93.28 412.73,95.1 410.4,96.9 C408.07,98.7 404.13,100.7 401.8,102.3 C399.47,103.9 397.6,105.22 396.4,106.5 C395.2,107.78 395,109.42 394.6,110 C394.2,110.58 394.4,110.58 394,110 C393.6,109.42 393.4,107.78 392.2,106.5 C391,105.22 389.13,103.9 386.8,102.3 C384.47,100.7 380.53,98.7 378.2,96.9 C375.87,95.1 373.95,93.28 372.8,91.5 C371.65,89.72 371.12,87.98 371.3,86.2 C371.48,84.42 372.75,82.6 373.9,80.8 C375.05,79 377.58,77.02 378.2,75.4 C378.82,73.78 377.78,72.7 377.6,71.1 C377.42,69.5 376.82,67.58 377.1,65.8 C377.38,64.02 378.22,62.02 379.3,60.4 C380.38,58.78 382,57.53 383.6,56.1 C385.2,54.67 387.55,53.4 388.9,51.8 C390.25,50.2 390.95,48.82 391.7,46.5 C392.45,44.18 393.03,41.07 393.4,37.9 C393.77,34.73 393.68,29.23 393.9,27.5 C394.12,25.77 394.48,25.77 394.7,27.5Z" fill="#a8e0e6" stroke="#7fcfdb" stroke-width="0.6" stroke-opacity="0.45"/>
<rect x="391.5" y="65.8" width="5.6" height="24.7" fill="#7fcfdb" stroke="none" stroke-width="1" fill-opacity="0.85"/>
<rect x="393.69" y="90.06" width="0.9" height="0.9" fill="#222" fill-opacity="0.6"/>
<rect x="385.9" y="66.01" width="0.9" height="0.9" fill="#222" fill-opacity="0.6"/>
<rect x="410.07" y="86.58" width="0.9" height="0.9" fill="#222" fill-opacity="0.6"/>
<rect x="392.16" y="58.5" width="0.9" height="0.9" fill="#222" fill-opacity="0.85"/>
<rect x="402.69" y="86.75" width="0.9" height="0.9" fill="#222" fill-opacity="0.4"/>
<rect x="379.63" y="91.06" width="0.9" height="0.9" fill="#222" fill-opacity="0.4"/>
<rect x="393.57" y="70.03" width="0.9" height="0.9" fill="#222" fill-opacity="0.85"/>
<rect x="403.41" y="65.77" width="0.9" height="0.9" fill="#222" fill-opacity="0.4"/>
<rect x="384.92" y="75.99" width="0.9" height="0.9" fill="#222" fill-opacity="0.4"/>
<rect x="392.63" y="45.77" width="0.9" height="0.9" fill="#222" fill-opacity="0.4"/>
<rect x="395.16" y="64.93" width="0.9" height="0.9" fill="#222" fill-opacity="0.4"/>
<rect x="394.52" y="88.14" width="0.9" height="0.9" fill="#222" fill-opacity="0.4"/>
<rect x="395.34" y="66.74" width="0.9" height="0.9" fill="#222" fill-opacity="0.4"/>
<rect x="394.85" y="61.24" width="0.9" height="0.9" fill="#222" fill-opacity="0.4"/>
<rect x="395.4" y="93.43" width="0.9" height="0.9" fill="#222" fill-opacity="0.85"/>
<rect x="377.24" y="82.58" width="0.9" height="0.9" fill="#222" fill-opacity="0.85"/>
<rect x="385.7" y="89.27" width="0.9" height="0.9" fill="#222" fill-opacity="0.4"/>
<rect x="400.49" y="80.53" width="0.9" height="0.9" fill="#222" fill-opacity="0.6"/>
<rect x="390.74" y="66.14" width="0.9" height="0.9" fill="#222" fill-opacity="0.6"/>
<rect x="386.03" y="92.74" width="0.9" height="0.9" fill="#222" fill-opacity="0.4"/>
<rect x="396.7" y="69.13" width="0.9" height="0.9" fill="#222" fill-opacity="0.85"/>
<rect x="391.91" y="63.82" width="0.9" height="0.9" fill="#222" fill-opacity="0.85"/>
<rect x="394.7" y="84.39" width="0.9" height="0.9" fill="#222" fill-opacity="0.85"/>
<rect x="385.04" y="88.42" width="0.9" height="0.9" fill="#222" fill-opacity="0.85"/>
<rect x="404.6" y="75.77" width="0.9" height="0.9" fill="#222" fill-opacity="0.6"/>
<rect x="389.72" y="69.03" width="0.9" height="0.9" fill="#222" fill-opacity="0.85"/>
<rect x="405.63" y="75.84" width="0.9" height="0.9" fill="#222" fill-opacity="0.6"/>
<rect x="389.82" y="101.27" width="0.9" height="0.9" fill="#222" fill-opacity="0.6"/>
<rect x="383" y="93.97" width="0.9" height="0.9" fill="#222" fill-opacity="0.6"/>
<rect x="410.96" y="83.74" width="0.9" height="0.9" fill="#222" fill-opacity="0.85"/>
<rect x="389.4" y="71.45" width="0.9" height="0.9" fill="#222" fill-opacity="0.4"/>
<rect x="389.73" y="96.44" width="0.9" height="0.9" fill="#222" fill-opacity="0.6"/>
<rect x="393.47" y="91.36" width="0.9" height="0.9" fill="#222" fill-opacity="0.4"/>
<rect x="381.73" y="72.52" width="0.9" height="0.9" fill="#222" fill-opacity="0.85"/>
<rect x="394.29" y="103.46" width="0.9" height="0.9" fill="#222" fill-opacity="0.4"/>
<rect x="398.54" y="95.34" width="0.9" height="0.9" fill="#222" fill-opacity="0.85"/>
<rect x="403.14" y="92.21" width="0.9" height="0.9" fill="#222" fill-opacity="0.4"/>
<rect x="385.47" y="61.78" width="0.9" height="0.9" fill="#222" fill-opacity="0.85"/>
<rect x="403.51" y="93.59" width="0.9" height="0.9" fill="#222" fill-opacity="0.4"/>
<rect x="388.73" y="76.27" width="0.9" height="0.9" fill="#222" fill-opacity="0.85"/>
<rect x="386.86" y="76.67" width="0.9" height="0.9" fill="#222" fill-opacity="0.4"/>
<rect x="388.49" y="56.41" width="0.9" height="0.9" fill="#222" fill-opacity="0.85"/>
<rect x="389.89" y="59.26" width="0.9" height="0.9" fill="#222" fill-opacity="0.6"/>
<rect x="407.4" y="92.45" width="0.9" height="0.9" fill="#222" fill-opacity="0.85"/>
<rect x="392.52" y="47.27" width="0.9" height="0.9" fill="#222" fill-opacity="0.85"/>
<rect x="376.14" y="87.21" width="0.9" height="0.9" fill="#222" fill-opacity="0.6"/>
<rect x="408.16" y="92.64" width="0.9" height="0.9" fill="#222" fill-opacity="0.85"/>
<rect x="395.45" y="78.49" width="0.9" height="0.9" fill="#222" fill-opacity="0.4"/>
<rect x="391.41" y="83.32" width="0.9" height="0.9" fill="#222" fill-opacity="0.6"/>
<rect x="389.51" y="64.45" width="0.9" height="0.9" fill="#222" fill-opacity="0.6"/>
<rect x="388.87" y="67.14" width="0.9" height="0.9" fill="#222" fill-opacity="0.4"/>
<rect x="387.88" y="79.78" width="0.9" height="0.9" fill="#222" fill-opacity="0.4"/>
<rect x="391.45" y="66.55" width="0.9" height="0.9" fill="#222" fill-opacity="0.4"/>
<rect x="389.27" y="90.01" width="0.9" height="0.9" fill="#222" fill-opacity="0.4"/>
<rect x="398.71" y="97.09" width="0.9" height="0.9" fill="#222" fill-opacity="0.4"/>
<rect x="383.48" y="65.39" width="0.9" height="0.9" fill="#222" fill-opacity="0.4"/>
<rect x="400.22" y="89.56" width="0.9" height="0.9" fill="#222" fill-opacity="0.4"/>
<rect x="404.8" y="79.6" width="0.9" height="0.9" fill="#222" fill-opacity="0.4"/>
<rect x="411.23" y="87.27" width="0.9" height="0.9" fill="#222" fill-opacity="0.6"/>
<rect x="406.56" y="78.9" width="0.9" height="0.9" fill="#222" fill-opacity="0.85"/>
<rect x="391.98" y="67.31" width="0.9" height="0.9" fill="#222" fill-opacity="0.4"/>
<rect x="388.84" y="60.73" width="0.9" height="0.9" fill="#222" fill-opacity="0.85"/>
<rect x="406.05" y="74.82" width="0.9" height="0.9" fill="#222" fill-opacity="0.85"/>
<rect x="388.14" y="95.96" width="0.9" height="0.9" fill="#222" fill-opacity="0.4"/>
<rect x="391.97" y="89.54" width="0.9" height="0.9" fill="#222" fill-opacity="0.85"/>
<rect x="403.24" y="72.04" width="0.9" height="0.9" fill="#222" fill-opacity="0.85"/>
<rect x="388.25" y="74.12" width="0.9" height="0.9" fill="#222" fill-opacity="0.85"/>
<rect x="394.72" y="101.63" width="0.9" height="0.9" fill="#222" fill-opacity="0.85"/>
<rect x="393.93" y="74.29" width="0.9" height="0.9" fill="#222" fill-opacity="0.6"/>
<rect x="380.67" y="89.64" width="0.9" height="0.9" fill="#222" fill-opacity="0.4"/>
<rect x="391.16" y="64.14" width="0.9" height="0.9" fill="#222" fill-opacity="0.4"/>
<rect x="399.02" y="83.43" width="0.9" height="0.9" fill="#222" fill-opacity="0.6"/>
<rect x="402.16" y="86.64" width="0.9" height="0.9" fill="#222" fill-opacity="0.85"/>
<rect x="400.37" y="95.9" width="0.9" height="0.9" fill="#222" fill-opacity="0.6"/>
<rect x="399.97" y="85.04" width="0.9" height="0.9" fill="#222" fill-opacity="0.85"/>
<rect x="391.77" y="56.7" width="0.9" height="0.9" fill="#222" fill-opacity="0.6"/>
<rect x="395.71" y="51.05" width="0.9" height="0.9" fill="#222" fill-opacity="0.85"/>
<rect x="397.51" y="90.37" width="0.9" height="0.9" fill="#222" fill-opacity="0.6"/>
<rect x="383.03" y="69.15" width="0.9" height="0.9" fill="#222" fill-opacity="0.4"/>
<rect x="397.82" y="61.91" width="0.9" height="0.9" fill="#222" fill-opacity="0.85"/>
<rect x="387.67" y="79.52" width="0.9" height="0.9" fill="#222" fill-opacity="0.4"/>
<rect x="390.27" y="95.58" width="0.9" height="0.9" fill="#222" fill-opacity="0.4"/>
<rect x="388.53" y="73.06" width="0.9" height="0.9" fill="#222" fill-opacity="0.4"/>
<rect x="385.39" y="85.91" width="0.9" height="0.9" fill="#222" fill-opacity="0.4"/>
<rect x="390.27" y="88.09" width="0.9" height="0.9" fill="#222" fill-opacity="0.6"/>
<rect x="403.92" y="96.66" width="0.9" height="0.9" fill="#222" fill-opacity="0.4"/>
<rect x="396.7" y="87.47" width="0.9" height="0.9" fill="#222" fill-opacity="0.4"/>
<rect x="394.61" y="77.07" width="0.9" height="0.9" fill="#222" fill-opacity="0.85"/>
<rect x="391.24" y="63.41" width="0.9" height="0.9" fill="#222" fill-opacity="0.85"/>
<rect x="386.74" y="86.3" width="0.9" height="0.9" fill="#222" fill-opacity="0.85"/>
<rect x="394.85" y="83.42" width="0.9" height="0.9" fill="#222" fill-opacity="0.4"/>
<rect x="384.86" y="67.89" width="0.9" height="0.9" fill="#222" fill-opacity="0.85"/>
<rect x="392.58" y="72.18" width="0.9" height="0.9" fill="#222" fill-opacity="0.6"/>
<rect x="391.24" y="97.8" width="0.9" height="0.9" fill="#222" fill-opacity="0.4"/>
<rect x="382.9" y="73.64" width="0.9" height="0.9" fill="#222" fill-opacity="0.4"/>
<rect x="388" y="96.4" width="0.9" height="0.9" fill="#222" fill-opacity="0.85"/>
<rect x="393.84" y="62.73" width="0.9" height="0.9" fill="#222" fill-opacity="0.85"/>
<rect x="406.14" y="88.48" width="0.9" height="0.9" fill="#222" fill-opacity="0.4"/>
<rect x="387.67" y="63.97" width="0.9" height="0.9" fill="#222" fill-opacity="0.6"/>
<rect x="379.7" y="79.98" width="0.9" height="0.9" fill="#222" fill-opacity="0.4"/>
<rect x="410.71" y="84.64" width="0.9" height="0.9" fill="#222" fill-opacity="0.6"/>
<rect x="399.43" y="72.17" width="0.9" height="0.9" fill="#222" fill-opacity="0.4"/>
<rect x="401.97" y="85.92" width="0.9" height="0.9" fill="#222" fill-opacity="0.85"/>
<rect x="390.03" y="94.13" width="0.9" height="0.9" fill="#222" fill-opacity="0.6"/>
<rect x="391.08" y="63.63" width="0.9" height="0.9" fill="#222" fill-opacity="0.4"/>
<rect x="384.88" y="87.82" width="0.9" height="0.9" fill="#222" fill-opacity="0.6"/>
<rect x="397.29" y="52.89" width="0.9" height="0.9" fill="#222" fill-opacity="0.85"/>
<rect x="392.15" y="97.66" width="0.9" height="0.9" fill="#222" fill-opacity="0.85"/>
<rect x="405.29" y="68.53" width="0.9" height="0.9" fill="#222" fill-opacity="0.4"/>
<rect x="397.84" y="75.24" width="0.9" height="0.9" fill="#222" fill-opacity="0.6"/>
<rect x="403.06" y="70.26" width="0.9" height="0.9" fill="#222" fill-opacity="0.4"/>
<rect x="408.19" y="84.91" width="0.9" height="0.9" fill="#222" fill-opacity="0.6"/>
<rect x="389.9" y="88.36" width="0.9" height="0.9" fill="#222" fill-opacity="0.6"/>
<rect x="402" y="74.48" width="0.9" height="0.9" fill="#222" fill-opacity="0.4"/>
<rect x="389.03" y="71.08" width="0.9" height="0.9" fill="#222" fill-opacity="0.6"/>
<rect x="384.34" y="68.39" width="0.9" height="0.9" fill="#222" fill-opacity="0.4"/>
<rect x="402.07" y="91.73" width="0.9" height="0.9" fill="#222" fill-opacity="0.6"/>
<rect x="395.84" y="57.59" width="0.9" height="0.9" fill="#222" fill-opacity="0.6"/>
<rect x="384.48" y="70.95" width="0.9" height="0.9" fill="#222" fill-opacity="0.4"/>
<rect x="383.54" y="83.26" width="0.9" height="0.9" fill="#222" fill-opacity="0.85"/>
<rect x="380.71" y="79.2" width="0.9" height="0.9" fill="#222" fill-opacity="0.85"/>
<rect x="404.66" y="92.57" width="0.9" height="0.9" fill="#222" fill-opacity="0.4"/>
<rect x="391.02" y="98.15" width="0.9" height="0.9" fill="#222" fill-opacity="0.6"/>
<rect x="408.22" y="85.65" width="0.9" height="0.9" fill="#222" fill-opacity="0.4"/>
<rect x="406.26" y="62.16" width="0.9" height="0.9" fill="#222" fill-opacity="0.85"/>
<rect x="380.35" y="84.09" width="0.9" height="0.9" fill="#222" fill-opacity="0.6"/>
<rect x="384.33" y="74.99" width="0.9" height="0.9" fill="#222" fill-opacity="0.6"/>
<rect x="389.13" y="87.78" width="0.9" height="0.9" fill="#222" fill-opacity="0.6"/>
<rect x="379.38" y="89.01" width="0.9" height="0.9" fill="#222" fill-opacity="0.85"/>
<rect x="392.97" y="96.87" width="0.9" height="0.9" fill="#222" fill-opacity="0.6"/>
<rect x="404.37" y="90.46" width="0.9" height="0.9" fill="#222" fill-opacity="0.6"/>
<rect x="407.14" y="75.69" width="0.9" height="0.9" fill="#222" fill-opacity="0.6"/>
<rect x="389.72" y="61.76" width="0.9" height="0.9" fill="#222" fill-opacity="0.6"/>
<rect x="386.38" y="62.12" width="0.9" height="0.9" fill="#222" fill-opacity="0.85"/>
<rect x="392.83" y="45.96" width="0.9" height="0.9" fill="#222" fill-opacity="0.6"/>
<rect x="399" y="90.96" width="0.9" height="0.9" fill="#222" fill-opacity="0.85"/>
<rect x="396.83" y="95.88" width="0.9" height="0.9" fill="#222" fill-opacity="0.85"/>
<rect x="389.81" y="72.39" width="0.9" height="0.9" fill="#222" fill-opacity="0.4"/>
<rect x="398.36" y="72.66" width="0.9" height="0.9" fill="#222" fill-opacity="0.85"/>
<rect x="383.47" y="85.14" width="0.9" height="0.9" fill="#222" fill-opacity="0.4"/>
<rect x="394.12" y="82.22" width="0.9" height="0.9" fill="#222" fill-opacity="0.6"/>
<rect x="404.25" y="70.01" width="0.9" height="0.9" fill="#222" fill-opacity="0.4"/>
<rect x="400.74" y="71.64" width="0.9" height="0.9" fill="#222" fill-opacity="0.85"/>
<rect x="380.36" y="85.32" width="0.9" height="0.9" fill="#222" fill-opacity="0.85"/>
<rect x="398.09" y="101.59" width="0.9" height="0.9" fill="#222" fill-opacity="0.4"/>
<rect x="378.08" y="84.32" width="0.9" height="0.9" fill="#222" fill-opacity="0.6"/>
<rect x="400.83" y="70.65" width="0.9" height="0.9" fill="#222" fill-opacity="0.85"/>
<rect x="388.66" y="54.28" width="0.9" height="0.9" fill="#222" fill-opacity="0.6"/>
<rect x="384.88" y="95.44" width="0.9" height="0.9" fill="#222" fill-opacity="0.85"/>
<rect x="381.73" y="61.89" width="0.9" height="0.9" fill="#222" fill-opacity="0.6"/>
<rect x="400.72" y="94.88" width="0.9" height="0.9" fill="#222" fill-opacity="0.6"/>
<rect x="389.28" y="69.82" width="0.9" height="0.9" fill="#222" fill-opacity="0.85"/>
<rect x="402.41" y="55.68" width="0.9" height="0.9" fill="#222" fill-opacity="0.6"/>
<rect x="395.78" y="78.25" width="0.9" height="0.9" fill="#222" fill-opacity="0.4"/>
<rect x="410.83" y="88.51" width="0.9" height="0.9" fill="#222" fill-opacity="0.6"/>
<rect x="376.77" y="86.71" width="0.9" height="0.9" fill="#222" fill-opacity="0.6"/>
<rect x="382.57" y="63.8" width="0.9" height="0.9" fill="#222" fill-opacity="0.4"/>
<rect x="403.29" y="97.03" width="0.9" height="0.9" fill="#222" fill-opacity="0.85"/>
<rect x="406.64" y="95.78" width="0.9" height="0.9" fill="#222" fill-opacity="0.85"/>
<rect x="378.47" y="93" width="0.9" height="0.9" fill="#222" fill-opacity="0.85"/>
<rect x="391.21" y="91.34" width="0.9" height="0.9" fill="#222" fill-opacity="0.6"/>
<rect x="387.67" y="68.97" width="0.9" height="0.9" fill="#222" fill-opacity="0.4"/>
<rect x="398.99" y="56.56" width="0.9" height="0.9" fill="#222" fill-opacity="0.4"/>
<rect x="400.5" y="58.1" width="0.9" height="0.9" fill="#222" fill-opacity="0.6"/>
<rect x="397.3" y="92.9" width="0.9" height="0.9" fill="#222" fill-opacity="0.85"/>
<rect x="396.02" y="100.59" width="0.9" height="0.9" fill="#222" fill-opacity="0.6"/>
<rect x="397.45" y="66.67" width="0.9" height="0.9" fill="#222" fill-opacity="0.85"/>
<rect x="387.86" y="59.82" width="0.9" height="0.9" fill="#222" fill-opacity="0.6"/>
<rect x="392.56" y="81.22" width="0.9" height="0.9" fill="#222" fill-opacity="0.6"/>
<rect x="384.06" y="62.69" width="0.9" height="0.9" fill="#222" fill-opacity="0.6"/>
<rect x="404.2" y="90.25" width="0.9" height="0.9" fill="#222" fill-opacity="0.6"/>
<rect x="387.28" y="70.33" width="0.9" height="0.9" fill="#222" fill-opacity="0.6"/>
<rect x="380.72" y="71.41" width="0.9" height="0.9" fill="#222" fill-opacity="0.85"/>
<rect x="385.07" y="81.69" width="0.9" height="0.9" fill="#222" fill-opacity="0.4"/>
<rect x="401.77" y="69.38" width="0.9" height="0.9" fill="#222" fill-opacity="0.4"/>
<rect x="315.5" y="17.5" width="106" height="95" fill="none" stroke="#555555" stroke-width="1"/>
<line x1="313" y1="18.8" x2="315.5" y2="18.8" stroke="#8a8a8a" stroke-width="1"/>
<text x="304.9" y="23.08" font-size="8.6" text-anchor="middle" fill="#1a1a1a" stroke="#1a1a1a" stroke-width="0.1" textLength="14" lengthAdjust="spacingAndGlyphs">200</text>
<line x1="313" y1="39.6" x2="315.5" y2="39.6" stroke="#8a8a8a" stroke-width="1"/>
<text x="304.9" y="43.08" font-size="8.6" text-anchor="middle" fill="#1a1a1a" stroke="#1a1a1a" stroke-width="0.1" textLength="14" lengthAdjust="spacingAndGlyphs">150</text>
<line x1="313" y1="59.4" x2="315.5" y2="59.4" stroke="#8a8a8a" stroke-width="1"/>
<text x="304.9" y="62.08" font-size="8.6" text-anchor="middle" fill="#1a1a1a" stroke="#1a1a1a" stroke-width="0.1" textLength="14" lengthAdjust="spacingAndGlyphs">100</text>
<line x1="313" y1="78.6" x2="315.5" y2="78.6" stroke="#8a8a8a" stroke-width="1"/>
<text x="305.6" y="81.68" font-size="8.6" text-anchor="middle" fill="#1a1a1a" stroke="#1a1a1a" stroke-width="0.1" textLength="9.6" lengthAdjust="spacingAndGlyphs">50</text>
<line x1="313" y1="98.2" x2="315.5" y2="98.2" stroke="#8a8a8a" stroke-width="1"/>
<text x="306.3" y="101.48" font-size="8.6" text-anchor="middle" fill="#1a1a1a" stroke="#1a1a1a" stroke-width="0.1" textLength="4.9" lengthAdjust="spacingAndGlyphs">0</text>
<path d="M342.2,27.8 L342.2,26.2 L394.3,26.2 L394.3,27.8" fill="none" stroke="#555" stroke-width="0.9" stroke-linejoin="round"/>
<text x="368" y="24.91" font-size="8.4" text-anchor="middle" fill="#1a1a1a" stroke="#1a1a1a" stroke-width="0.1" textLength="39.6" lengthAdjust="spacingAndGlyphs"><tspan font-style="italic">P</tspan> &lt; 0.0001</text>
<text x="342.2" y="121.39" font-size="8.9" text-anchor="middle" fill="#1a1a1a" stroke="#1a1a1a" stroke-width="0.1" textLength="29.4" lengthAdjust="spacingAndGlyphs">Low risk</text>
<line x1="342.2" y1="112.5" x2="342.2" y2="114.5" stroke="#8a8a8a" stroke-width="1"/>
<text x="394.3" y="121.39" font-size="8.9" text-anchor="middle" fill="#1a1a1a" stroke="#1a1a1a" stroke-width="0.1" textLength="30.6" lengthAdjust="spacingAndGlyphs">High risk</text>
<line x1="394.3" y1="112.5" x2="394.3" y2="114.5" stroke="#8a8a8a" stroke-width="1"/>
<line x1="442.5" y1="19" x2="547.5" y2="19" stroke="#ebebeb" stroke-width="0.8"/>
<line x1="442.5" y1="39.4" x2="547.5" y2="39.4" stroke="#ebebeb" stroke-width="0.8"/>
<line x1="442.5" y1="59" x2="547.5" y2="59" stroke="#ebebeb" stroke-width="0.8"/>
<line x1="442.5" y1="78.2" x2="547.5" y2="78.2" stroke="#ebebeb" stroke-width="0.8"/>
<line x1="442.5" y1="97.6" x2="547.5" y2="97.6" stroke="#ebebeb" stroke-width="0.8"/>
<line x1="469.6" y1="16.5" x2="469.6" y2="111.5" stroke="#ebebeb" stroke-width="0.8"/>
<line x1="520.4" y1="16.5" x2="520.4" y2="111.5" stroke="#ebebeb" stroke-width="0.8"/>
<path d="M470,44.3 C470.25,45.38 470.23,49.02 470.7,50.8 C471.17,52.58 471.2,53.58 472.8,55 C474.4,56.42 477.97,57.87 480.3,59.3 C482.63,60.73 485.18,62.17 486.8,63.6 C488.42,65.03 490,66.65 490,67.9 C490,69.15 488.73,70.02 486.8,71.1 C484.87,72.18 480.45,73.32 478.4,74.4 C476.35,75.48 475.1,76.35 474.5,77.6 C473.9,78.85 474.68,80.3 474.8,81.9 C474.92,83.5 475.4,85.23 475.2,87.2 C475,89.17 474.17,91.73 473.6,93.7 C473.03,95.67 472.42,97.22 471.8,99 C471.18,100.78 470.32,103.5 469.9,104.4 C469.48,105.3 469.72,105.3 469.3,104.4 C468.88,103.5 468.02,100.78 467.4,99 C466.78,97.22 466.17,95.67 465.6,93.7 C465.03,91.73 464.2,89.17 464,87.2 C463.8,85.23 464.28,83.5 464.4,81.9 C464.52,80.3 465.3,78.85 464.7,77.6 C464.1,76.35 462.85,75.48 460.8,74.4 C458.75,73.32 454.33,72.18 452.4,71.1 C450.47,70.02 449.2,69.15 449.2,67.9 C449.2,66.65 450.78,65.03 452.4,63.6 C454.02,62.17 456.57,60.73 458.9,59.3 C461.23,57.87 464.8,56.42 466.4,55 C468,53.58 468.03,52.58 468.5,50.8 C468.97,49.02 468.95,45.38 469.2,44.3 C469.45,43.22 469.75,43.22 470,44.3Z" fill="#ebe49a" stroke="#e0d35a" stroke-width="0.6" stroke-opacity="0.45"/>
<rect x="466.8" y="62.6" width="5.6" height="8.5" fill="#e0d35a" stroke="none" stroke-width="1" fill-opacity="0.85"/>
<rect x="458.18" y="63.91" width="0.9" height="0.9" fill="#222" fill-opacity="0.85"/>
<rect x="470.98" y="79.65" width="0.9" height="0.9" fill="#222" fill-opacity="0.85"/>
<rect x="472.93" y="67.93" width="0.9" height="0.9" fill="#222" fill-opacity="0.4"/>
<rect x="460.27" y="68.05" width="0.9" height="0.9" fill="#222" fill-opacity="0.4"/>
<rect x="459.88" y="70.69" width="0.9" height="0.9" fill="#222" fill-opacity="0.4"/>
<rect x="475.93" y="67.5" width="0.9" height="0.9" fill="#222" fill-opacity="0.85"/>
<rect x="468.56" y="68.87" width="0.9" height="0.9" fill="#222" fill-opacity="0.4"/>
<rect x="469.84" y="85.23" width="0.9" height="0.9" fill="#222" fill-opacity="0.85"/>
<rect x="458.82" y="62.75" width="0.9" height="0.9" fill="#222" fill-opacity="0.85"/>
<rect x="457.5" y="70.38" width="0.9" height="0.9" fill="#222" fill-opacity="0.85"/>
<rect x="460.13" y="69.41" width="0.9" height="0.9" fill="#222" fill-opacity="0.85"/>
<rect x="463.85" y="71.88" width="0.9" height="0.9" fill="#222" fill-opacity="0.4"/>
<rect x="465.15" y="61.19" width="0.9" height="0.9" fill="#222" fill-opacity="0.85"/>
<rect x="474.38" y="72.65" width="0.9" height="0.9" fill="#222" fill-opacity="0.4"/>
<rect x="476.05" y="62.55" width="0.9" height="0.9" fill="#222" fill-opacity="0.4"/>
<rect x="469.02" y="101.9" width="0.9" height="0.9" fill="#222" fill-opacity="0.6"/>
<rect x="480.11" y="61.07" width="0.9" height="0.9" fill="#222" fill-opacity="0.85"/>
<rect x="480.14" y="68.49" width="0.9" height="0.9" fill="#222" fill-opacity="0.6"/>
<rect x="474.89" y="67.24" width="0.9" height="0.9" fill="#222" fill-opacity="0.85"/>
<rect x="456.67" y="67.14" width="0.9" height="0.9" fill="#222" fill-opacity="0.85"/>
<rect x="483.98" y="68.6" width="0.9" height="0.9" fill="#222" fill-opacity="0.6"/>
<rect x="460.38" y="61.39" width="0.9" height="0.9" fill="#222" fill-opacity="0.6"/>
<rect x="460.97" y="60.08" width="0.9" height="0.9" fill="#222" fill-opacity="0.4"/>
<rect x="461.71" y="70.41" width="0.9" height="0.9" fill="#222" fill-opacity="0.85"/>
<rect x="468.24" y="64.13" width="0.9" height="0.9" fill="#222" fill-opacity="0.6"/>
<rect x="473.11" y="65.04" width="0.9" height="0.9" fill="#222" fill-opacity="0.4"/>
<rect x="466.79" y="66.77" width="0.9" height="0.9" fill="#222" fill-opacity="0.6"/>
<rect x="484.52" y="68.17" width="0.9" height="0.9" fill="#222" fill-opacity="0.4"/>
<rect x="480.01" y="69.44" width="0.9" height="0.9" fill="#222" fill-opacity="0.85"/>
<rect x="466.08" y="86.45" width="0.9" height="0.9" fill="#222" fill-opacity="0.85"/>
<rect x="473.81" y="67.65" width="0.9" height="0.9" fill="#222" fill-opacity="0.6"/>
<rect x="464.48" y="71.13" width="0.9" height="0.9" fill="#222" fill-opacity="0.4"/>
<rect x="470.28" y="89.55" width="0.9" height="0.9" fill="#222" fill-opacity="0.4"/>
<rect x="476.09" y="73.89" width="0.9" height="0.9" fill="#222" fill-opacity="0.4"/>
<rect x="477.36" y="67.32" width="0.9" height="0.9" fill="#222" fill-opacity="0.85"/>
<rect x="479.17" y="67.21" width="0.9" height="0.9" fill="#222" fill-opacity="0.85"/>
<rect x="459.66" y="64.29" width="0.9" height="0.9" fill="#222" fill-opacity="0.4"/>
<rect x="463.77" y="66.48" width="0.9" height="0.9" fill="#222" fill-opacity="0.4"/>
<rect x="474.76" y="73.39" width="0.9" height="0.9" fill="#222" fill-opacity="0.6"/>
<rect x="468.71" y="56.7" width="0.9" height="0.9" fill="#222" fill-opacity="0.4"/>
<rect x="471.62" y="70.54" width="0.9" height="0.9" fill="#222" fill-opacity="0.4"/>
<rect x="470.83" y="93.09" width="0.9" height="0.9" fill="#222" fill-opacity="0.4"/>
<rect x="470.09" y="92.48" width="0.9" height="0.9" fill="#222" fill-opacity="0.85"/>
<rect x="467.03" y="92.41" width="0.9" height="0.9" fill="#222" fill-opacity="0.4"/>
<rect x="484.25" y="65.76" width="0.9" height="0.9" fill="#222" fill-opacity="0.85"/>
<rect x="472.61" y="67.46" width="0.9" height="0.9" fill="#222" fill-opacity="0.4"/>
<rect x="460.44" y="63.63" width="0.9" height="0.9" fill="#222" fill-opacity="0.6"/>
<rect x="468.71" y="69.19" width="0.9" height="0.9" fill="#222" fill-opacity="0.6"/>
<rect x="464.91" y="84.32" width="0.9" height="0.9" fill="#222" fill-opacity="0.4"/>
<rect x="457" y="66.52" width="0.9" height="0.9" fill="#222" fill-opacity="0.4"/>
<rect x="458.68" y="61.41" width="0.9" height="0.9" fill="#222" fill-opacity="0.4"/>
<rect x="474.1" y="75.5" width="0.9" height="0.9" fill="#222" fill-opacity="0.4"/>
<rect x="464.82" y="58.92" width="0.9" height="0.9" fill="#222" fill-opacity="0.6"/>
<rect x="467.81" y="62.15" width="0.9" height="0.9" fill="#222" fill-opacity="0.85"/>
<rect x="466.37" y="63.36" width="0.9" height="0.9" fill="#222" fill-opacity="0.4"/>
<rect x="481.43" y="67.06" width="0.9" height="0.9" fill="#222" fill-opacity="0.6"/>
<rect x="470.02" y="63.47" width="0.9" height="0.9" fill="#222" fill-opacity="0.85"/>
<rect x="471.46" y="84.25" width="0.9" height="0.9" fill="#222" fill-opacity="0.85"/>
<rect x="463.22" y="69.87" width="0.9" height="0.9" fill="#222" fill-opacity="0.6"/>
<rect x="467.44" y="77.54" width="0.9" height="0.9" fill="#222" fill-opacity="0.6"/>
<rect x="459.7" y="61.93" width="0.9" height="0.9" fill="#222" fill-opacity="0.6"/>
<rect x="470.65" y="61.32" width="0.9" height="0.9" fill="#222" fill-opacity="0.85"/>
<rect x="459.36" y="60.88" width="0.9" height="0.9" fill="#222" fill-opacity="0.4"/>
<rect x="456.29" y="69.74" width="0.9" height="0.9" fill="#222" fill-opacity="0.6"/>
<rect x="471.59" y="66.98" width="0.9" height="0.9" fill="#222" fill-opacity="0.85"/>
<rect x="472.74" y="73.64" width="0.9" height="0.9" fill="#222" fill-opacity="0.85"/>
<rect x="478.59" y="60.69" width="0.9" height="0.9" fill="#222" fill-opacity="0.6"/>
<rect x="472.73" y="65.11" width="0.9" height="0.9" fill="#222" fill-opacity="0.85"/>
<rect x="472.77" y="72.79" width="0.9" height="0.9" fill="#222" fill-opacity="0.85"/>
<rect x="459.81" y="70.13" width="0.9" height="0.9" fill="#222" fill-opacity="0.85"/>
<rect x="460.07" y="64.68" width="0.9" height="0.9" fill="#222" fill-opacity="0.4"/>
<rect x="482.61" y="68.63" width="0.9" height="0.9" fill="#222" fill-opacity="0.85"/>
<rect x="466.2" y="90.13" width="0.9" height="0.9" fill="#222" fill-opacity="0.85"/>
<rect x="466.11" y="88.02" width="0.9" height="0.9" fill="#222" fill-opacity="0.85"/>
<rect x="459.57" y="70.01" width="0.9" height="0.9" fill="#222" fill-opacity="0.4"/>
<rect x="481.48" y="65.37" width="0.9" height="0.9" fill="#222" fill-opacity="0.4"/>
<rect x="477.7" y="59.53" width="0.9" height="0.9" fill="#222" fill-opacity="0.85"/>
<rect x="460" y="71.73" width="0.9" height="0.9" fill="#222" fill-opacity="0.6"/>
<rect x="468.49" y="81.39" width="0.9" height="0.9" fill="#222" fill-opacity="0.6"/>
<rect x="478.04" y="66.08" width="0.9" height="0.9" fill="#222" fill-opacity="0.6"/>
<rect x="465.61" y="70.27" width="0.9" height="0.9" fill="#222" fill-opacity="0.6"/>
<rect x="471.91" y="79.96" width="0.9" height="0.9" fill="#222" fill-opacity="0.85"/>
<rect x="480.53" y="61.92" width="0.9" height="0.9" fill="#222" fill-opacity="0.6"/>
<rect x="469.12" y="65.33" width="0.9" height="0.9" fill="#222" fill-opacity="0.85"/>
<rect x="478.06" y="68.23" width="0.9" height="0.9" fill="#222" fill-opacity="0.6"/>
<rect x="483.55" y="67.43" width="0.9" height="0.9" fill="#222" fill-opacity="0.85"/>
<rect x="470.98" y="66.38" width="0.9" height="0.9" fill="#222" fill-opacity="0.4"/>
<rect x="468.52" y="58.69" width="0.9" height="0.9" fill="#222" fill-opacity="0.4"/>
<rect x="473.38" y="74.85" width="0.9" height="0.9" fill="#222" fill-opacity="0.85"/>
<rect x="478.21" y="70.28" width="0.9" height="0.9" fill="#222" fill-opacity="0.85"/>
<rect x="475.14" y="64.11" width="0.9" height="0.9" fill="#222" fill-opacity="0.6"/>
<rect x="459.47" y="67.05" width="0.9" height="0.9" fill="#222" fill-opacity="0.85"/>
<rect x="454.47" y="69.44" width="0.9" height="0.9" fill="#222" fill-opacity="0.6"/>
<rect x="462.97" y="74.13" width="0.9" height="0.9" fill="#222" fill-opacity="0.85"/>
<rect x="469.32" y="58.63" width="0.9" height="0.9" fill="#222" fill-opacity="0.6"/>
<rect x="478.3" y="61.52" width="0.9" height="0.9" fill="#222" fill-opacity="0.4"/>
<rect x="472.45" y="61.47" width="0.9" height="0.9" fill="#222" fill-opacity="0.6"/>
<rect x="474.97" y="60.93" width="0.9" height="0.9" fill="#222" fill-opacity="0.6"/>
<rect x="473.85" y="61.95" width="0.9" height="0.9" fill="#222" fill-opacity="0.85"/>
<rect x="476.75" y="61" width="0.9" height="0.9" fill="#222" fill-opacity="0.6"/>
<rect x="466.56" y="65.09" width="0.9" height="0.9" fill="#222" fill-opacity="0.6"/>
<rect x="467.21" y="84.6" width="0.9" height="0.9" fill="#222" fill-opacity="0.6"/>
<rect x="469.68" y="74.91" width="0.9" height="0.9" fill="#222" fill-opacity="0.85"/>
<rect x="469.09" y="83.72" width="0.9" height="0.9" fill="#222" fill-opacity="0.4"/>
<rect x="476.26" y="69.81" width="0.9" height="0.9" fill="#222" fill-opacity="0.4"/>
<rect x="469.26" y="97.18" width="0.9" height="0.9" fill="#222" fill-opacity="0.85"/>
<rect x="466.6" y="59.75" width="0.9" height="0.9" fill="#222" fill-opacity="0.4"/>
<rect x="460.35" y="70.77" width="0.9" height="0.9" fill="#222" fill-opacity="0.4"/>
<rect x="470.7" y="67.69" width="0.9" height="0.9" fill="#222" fill-opacity="0.4"/>
<rect x="476.69" y="71.41" width="0.9" height="0.9" fill="#222" fill-opacity="0.85"/>
<rect x="464.45" y="68.73" width="0.9" height="0.9" fill="#222" fill-opacity="0.4"/>
<rect x="469.17" y="69.33" width="0.9" height="0.9" fill="#222" fill-opacity="0.85"/>
<rect x="469.33" y="69.64" width="0.9" height="0.9" fill="#222" fill-opacity="0.85"/>
<rect x="467.86" y="68.89" width="0.9" height="0.9" fill="#222" fill-opacity="0.4"/>
<rect x="461.96" y="71.56" width="0.9" height="0.9" fill="#222" fill-opacity="0.85"/>
<path d="M520.8,33.6 C521.05,34.67 521.03,37.87 521.5,40 C521.97,42.13 522.53,44.43 523.6,46.4 C524.67,48.37 526.12,50.02 527.9,51.8 C529.68,53.58 532.52,55.32 534.3,57.1 C536.08,58.88 537.6,60.7 538.6,62.5 C539.6,64.3 540.65,66.12 540.3,67.9 C539.95,69.68 537.5,71.6 536.5,73.2 C535.5,74.8 534.3,75.88 534.3,77.5 C534.3,79.12 535.78,81.12 536.5,82.9 C537.22,84.68 538.6,86.42 538.6,88.2 C538.6,89.98 537.93,91.82 536.5,93.6 C535.07,95.38 532.33,97.12 530,98.9 C527.67,100.68 524.05,103.02 522.5,104.3 C520.95,105.58 521.1,106.22 520.7,106.6 C520.3,106.98 520.5,106.98 520.1,106.6 C519.7,106.22 519.85,105.58 518.3,104.3 C516.75,103.02 513.13,100.68 510.8,98.9 C508.47,97.12 505.73,95.38 504.3,93.6 C502.87,91.82 502.2,89.98 502.2,88.2 C502.2,86.42 503.58,84.68 504.3,82.9 C505.02,81.12 506.5,79.12 506.5,77.5 C506.5,75.88 505.3,74.8 504.3,73.2 C503.3,71.6 500.85,69.68 500.5,67.9 C500.15,66.12 501.2,64.3 502.2,62.5 C503.2,60.7 504.72,58.88 506.5,57.1 C508.28,55.32 511.12,53.58 512.9,51.8 C514.68,50.02 516.13,48.37 517.2,46.4 C518.27,44.43 518.83,42.13 519.3,40 C519.77,37.87 519.75,34.67 520,33.6 C520.25,32.53 520.55,32.53 520.8,33.6Z" fill="#98dcc2" stroke="#70c6a4" stroke-width="0.6" stroke-opacity="0.45"/>
<rect x="517.6" y="65.7" width="5.6" height="23.6" fill="#70c6a4" stroke="none" stroke-width="1" fill-opacity="0.85"/>
<rect x="530.86" y="75.57" width="0.9" height="0.9" fill="#222" fill-opacity="0.6"/>
<rect x="510.89" y="67.25" width="0.9" height="0.9" fill="#222" fill-opacity="0.85"/>
<rect x="518.24" y="90.31" width="0.9" height="0.9" fill="#222" fill-opacity="0.6"/>
<rect x="519.15" y="89.35" width="0.9" height="0.9" fill="#222" fill-opacity="0.6"/>
<rect x="518.98" y="63.98" width="0.9" height="0.9" fill="#222" fill-opacity="0.85"/>
<rect x="517.32" y="60.84" width="0.9" height="0.9" fill="#222" fill-opacity="0.4"/>
<rect x="522.6" y="48.97" width="0.9" height="0.9" fill="#222" fill-opacity="0.6"/>
<rect x="521.7" y="84.59" width="0.9" height="0.9" fill="#222" fill-opacity="0.85"/>
<rect x="528.26" y="74.69" width="0.9" height="0.9" fill="#222" fill-opacity="0.4"/>
<rect x="524.76" y="94.37" width="0.9" height="0.9" fill="#222" fill-opacity="0.4"/>
<rect x="527.3" y="98.09" width="0.9" height="0.9" fill="#222" fill-opacity="0.6"/>
<rect x="521.1" y="57.79" width="0.9" height="0.9" fill="#222" fill-opacity="0.4"/>
<rect x="512.07" y="57.06" width="0.9" height="0.9" fill="#222" fill-opacity="0.6"/>
<rect x="523.3" y="56.45" width="0.9" height="0.9" fill="#222" fill-opacity="0.85"/>
<rect x="531.47" y="72.23" width="0.9" height="0.9" fill="#222" fill-opacity="0.6"/>
<rect x="517.59" y="58.37" width="0.9" height="0.9" fill="#222" fill-opacity="0.4"/>
<rect x="524.36" y="60.16" width="0.9" height="0.9" fill="#222" fill-opacity="0.4"/>
<rect x="514.99" y="73.75" width="0.9" height="0.9" fill="#222" fill-opacity="0.6"/>
<rect x="505.57" y="66.36" width="0.9" height="0.9" fill="#222" fill-opacity="0.85"/>
<rect x="528.9" y="75.36" width="0.9" height="0.9" fill="#222" fill-opacity="0.6"/>
<rect x="525.28" y="81.82" width="0.9" height="0.9" fill="#222" fill-opacity="0.85"/>
<rect x="533.48" y="89.59" width="0.9" height="0.9" fill="#222" fill-opacity="0.85"/>
<rect x="510.68" y="77.28" width="0.9" height="0.9" fill="#222" fill-opacity="0.4"/>
<rect x="526.12" y="91.41" width="0.9" height="0.9" fill="#222" fill-opacity="0.85"/>
<rect x="519.58" y="41.08" width="0.9" height="0.9" fill="#222" fill-opacity="0.4"/>
<rect x="512.74" y="91.28" width="0.9" height="0.9" fill="#222" fill-opacity="0.85"/>
<rect x="530.19" y="80.69" width="0.9" height="0.9" fill="#222" fill-opacity="0.4"/>
<rect x="509.52" y="87.12" width="0.9" height="0.9" fill="#222" fill-opacity="0.85"/>
<rect x="520.43" y="97.41" width="0.9" height="0.9" fill="#222" fill-opacity="0.85"/>
<rect x="507.91" y="68.26" width="0.9" height="0.9" fill="#222" fill-opacity="0.85"/>
<rect x="531.54" y="65.88" width="0.9" height="0.9" fill="#222" fill-opacity="0.4"/>
<rect x="507.01" y="62.56" width="0.9" height="0.9" fill="#222" fill-opacity="0.6"/>
<rect x="509.38" y="83.12" width="0.9" height="0.9" fill="#222" fill-opacity="0.6"/>
<rect x="510.04" y="61.5" width="0.9" height="0.9" fill="#222" fill-opacity="0.4"/>
<rect x="515.42" y="57.43" width="0.9" height="0.9" fill="#222" fill-opacity="0.85"/>
<rect x="508.85" y="67.42" width="0.9" height="0.9" fill="#222" fill-opacity="0.85"/>
<rect x="510.86" y="69.32" width="0.9" height="0.9" fill="#222" fill-opacity="0.6"/>
<rect x="527.57" y="82.96" width="0.9" height="0.9" fill="#222" fill-opacity="0.6"/>
<rect x="523.68" y="95.19" width="0.9" height="0.9" fill="#222" fill-opacity="0.85"/>
<rect x="519.86" y="46.03" width="0.9" height="0.9" fill="#222" fill-opacity="0.85"/>
<rect x="516.82" y="95.36" width="0.9" height="0.9" fill="#222" fill-opacity="0.85"/>
<rect x="533.2" y="86.22" width="0.9" height="0.9" fill="#222" fill-opacity="0.4"/>
<rect x="512.83" y="95.47" width="0.9" height="0.9" fill="#222" fill-opacity="0.4"/>
<rect x="525.35" y="85.2" width="0.9" height="0.9" fill="#222" fill-opacity="0.6"/>
<rect x="513.33" y="66.5" width="0.9" height="0.9" fill="#222" fill-opacity="0.6"/>
<rect x="521.13" y="88.74" width="0.9" height="0.9" fill="#222" fill-opacity="0.4"/>
<rect x="509.55" y="93.76" width="0.9" height="0.9" fill="#222" fill-opacity="0.85"/>
<rect x="532.57" y="85.29" width="0.9" height="0.9" fill="#222" fill-opacity="0.4"/>
<rect x="525.78" y="63.7" width="0.9" height="0.9" fill="#222" fill-opacity="0.6"/>
<rect x="505.91" y="87.26" width="0.9" height="0.9" fill="#222" fill-opacity="0.6"/>
<rect x="510.29" y="93.03" width="0.9" height="0.9" fill="#222" fill-opacity="0.4"/>
<rect x="509.41" y="69.64" width="0.9" height="0.9" fill="#222" fill-opacity="0.85"/>
<rect x="507" y="69.58" width="0.9" height="0.9" fill="#222" fill-opacity="0.6"/>
<rect x="513.35" y="91.98" width="0.9" height="0.9" fill="#222" fill-opacity="0.4"/>
<rect x="511.02" y="63.04" width="0.9" height="0.9" fill="#222" fill-opacity="0.85"/>
<rect x="515.76" y="89.56" width="0.9" height="0.9" fill="#222" fill-opacity="0.4"/>
<rect x="514.38" y="61.22" width="0.9" height="0.9" fill="#222" fill-opacity="0.6"/>
<rect x="528.07" y="70.84" width="0.9" height="0.9" fill="#222" fill-opacity="0.4"/>
<rect x="518.95" y="96.92" width="0.9" height="0.9" fill="#222" fill-opacity="0.4"/>
<rect x="530.34" y="83.3" width="0.9" height="0.9" fill="#222" fill-opacity="0.4"/>
<rect x="529.43" y="68.49" width="0.9" height="0.9" fill="#222" fill-opacity="0.85"/>
<rect x="507.65" y="83.94" width="0.9" height="0.9" fill="#222" fill-opacity="0.85"/>
<rect x="514.52" y="90.97" width="0.9" height="0.9" fill="#222" fill-opacity="0.6"/>
<rect x="520.93" y="91.44" width="0.9" height="0.9" fill="#222" fill-opacity="0.85"/>
<rect x="527.86" y="70.86" width="0.9" height="0.9" fill="#222" fill-opacity="0.4"/>
<rect x="510.38" y="60.38" width="0.9" height="0.9" fill="#222" fill-opacity="0.4"/>
<rect x="515.67" y="93.39" width="0.9" height="0.9" fill="#222" fill-opacity="0.85"/>
<rect x="515.32" y="55.72" width="0.9" height="0.9" fill="#222" fill-opacity="0.6"/>
<rect x="514.2" y="84.45" width="0.9" height="0.9" fill="#222" fill-opacity="0.4"/>
<rect x="527.51" y="62.27" width="0.9" height="0.9" fill="#222" fill-opacity="0.6"/>
<rect x="525.43" y="93.32" width="0.9" height="0.9" fill="#222" fill-opacity="0.6"/>
<rect x="508.93" y="86.19" width="0.9" height="0.9" fill="#222" fill-opacity="0.6"/>
<rect x="529.58" y="96.06" width="0.9" height="0.9" fill="#222" fill-opacity="0.85"/>
<rect x="529.07" y="95.61" width="0.9" height="0.9" fill="#222" fill-opacity="0.4"/>
<rect x="506.65" y="86.68" width="0.9" height="0.9" fill="#222" fill-opacity="0.85"/>
<rect x="530.05" y="63.93" width="0.9" height="0.9" fill="#222" fill-opacity="0.85"/>
<rect x="514.76" y="97.63" width="0.9" height="0.9" fill="#222" fill-opacity="0.85"/>
<rect x="510.8" y="86.42" width="0.9" height="0.9" fill="#222" fill-opacity="0.4"/>
<rect x="520.97" y="70.66" width="0.9" height="0.9" fill="#222" fill-opacity="0.6"/>
<rect x="525.61" y="71.56" width="0.9" height="0.9" fill="#222" fill-opacity="0.85"/>
<rect x="506.1" y="86.06" width="0.9" height="0.9" fill="#222" fill-opacity="0.6"/>
<rect x="515.27" y="59.4" width="0.9" height="0.9" fill="#222" fill-opacity="0.85"/>
<rect x="510.29" y="94.88" width="0.9" height="0.9" fill="#222" fill-opacity="0.85"/>
<rect x="528.23" y="78.37" width="0.9" height="0.9" fill="#222" fill-opacity="0.6"/>
<rect x="527.82" y="69.4" width="0.9" height="0.9" fill="#222" fill-opacity="0.85"/>
<rect x="510.34" y="89.89" width="0.9" height="0.9" fill="#222" fill-opacity="0.6"/>
<rect x="521.85" y="85.99" width="0.9" height="0.9" fill="#222" fill-opacity="0.85"/>
<rect x="525.6" y="78.86" width="0.9" height="0.9" fill="#222" fill-opacity="0.4"/>
<rect x="520.54" y="57.88" width="0.9" height="0.9" fill="#222" fill-opacity="0.6"/>
<rect x="527.05" y="91.82" width="0.9" height="0.9" fill="#222" fill-opacity="0.85"/>
<rect x="520.46" y="59.89" width="0.9" height="0.9" fill="#222" fill-opacity="0.85"/>
<rect x="518.76" y="46.18" width="0.9" height="0.9" fill="#222" fill-opacity="0.4"/>
<rect x="521.67" y="91.15" width="0.9" height="0.9" fill="#222" fill-opacity="0.6"/>
<rect x="516.96" y="101.95" width="0.9" height="0.9" fill="#222" fill-opacity="0.6"/>
<rect x="533.15" y="85.38" width="0.9" height="0.9" fill="#222" fill-opacity="0.85"/>
<rect x="517.18" y="51.17" width="0.9" height="0.9" fill="#222" fill-opacity="0.6"/>
<rect x="528.43" y="69.11" width="0.9" height="0.9" fill="#222" fill-opacity="0.4"/>
<rect x="531.45" y="63.21" width="0.9" height="0.9" fill="#222" fill-opacity="0.4"/>
<rect x="521.42" y="75.38" width="0.9" height="0.9" fill="#222" fill-opacity="0.4"/>
<rect x="530.36" y="78.24" width="0.9" height="0.9" fill="#222" fill-opacity="0.85"/>
<rect x="508.49" y="63.11" width="0.9" height="0.9" fill="#222" fill-opacity="0.6"/>
<rect x="514.02" y="92.19" width="0.9" height="0.9" fill="#222" fill-opacity="0.6"/>
<rect x="514.52" y="68.83" width="0.9" height="0.9" fill="#222" fill-opacity="0.4"/>
<rect x="531.4" y="91.49" width="0.9" height="0.9" fill="#222" fill-opacity="0.4"/>
<rect x="532.05" y="67.86" width="0.9" height="0.9" fill="#222" fill-opacity="0.85"/>
<rect x="513.09" y="72.85" width="0.9" height="0.9" fill="#222" fill-opacity="0.6"/>
<rect x="520.91" y="56.57" width="0.9" height="0.9" fill="#222" fill-opacity="0.6"/>
<rect x="520.78" y="93.24" width="0.9" height="0.9" fill="#222" fill-opacity="0.6"/>
<rect x="514.32" y="83.02" width="0.9" height="0.9" fill="#222" fill-opacity="0.85"/>
<rect x="534.73" y="69.34" width="0.9" height="0.9" fill="#222" fill-opacity="0.4"/>
<rect x="508.31" y="85.45" width="0.9" height="0.9" fill="#222" fill-opacity="0.4"/>
<rect x="508.86" y="56.86" width="0.9" height="0.9" fill="#222" fill-opacity="0.85"/>
<rect x="529.09" y="89.93" width="0.9" height="0.9" fill="#222" fill-opacity="0.85"/>
<rect x="513.11" y="78.64" width="0.9" height="0.9" fill="#222" fill-opacity="0.4"/>
<rect x="521.18" y="72.54" width="0.9" height="0.9" fill="#222" fill-opacity="0.85"/>
<rect x="506.95" y="63.78" width="0.9" height="0.9" fill="#222" fill-opacity="0.85"/>
<rect x="510.73" y="90.09" width="0.9" height="0.9" fill="#222" fill-opacity="0.4"/>
<rect x="520.83" y="47.24" width="0.9" height="0.9" fill="#222" fill-opacity="0.6"/>
<rect x="511.39" y="65.69" width="0.9" height="0.9" fill="#222" fill-opacity="0.6"/>
<rect x="513.43" y="77.68" width="0.9" height="0.9" fill="#222" fill-opacity="0.6"/>
<rect x="515.19" y="76.45" width="0.9" height="0.9" fill="#222" fill-opacity="0.6"/>
<rect x="516.1" y="59.74" width="0.9" height="0.9" fill="#222" fill-opacity="0.6"/>
<rect x="517.05" y="95.59" width="0.9" height="0.9" fill="#222" fill-opacity="0.4"/>
<rect x="523.49" y="98.18" width="0.9" height="0.9" fill="#222" fill-opacity="0.6"/>
<rect x="524.22" y="64.68" width="0.9" height="0.9" fill="#222" fill-opacity="0.6"/>
<rect x="521.71" y="91.53" width="0.9" height="0.9" fill="#222" fill-opacity="0.6"/>
<rect x="518.27" y="66.38" width="0.9" height="0.9" fill="#222" fill-opacity="0.4"/>
<rect x="522.95" y="65.72" width="0.9" height="0.9" fill="#222" fill-opacity="0.4"/>
<rect x="525.93" y="93.14" width="0.9" height="0.9" fill="#222" fill-opacity="0.85"/>
<rect x="526.09" y="85.78" width="0.9" height="0.9" fill="#222" fill-opacity="0.85"/>
<rect x="528.18" y="84.64" width="0.9" height="0.9" fill="#222" fill-opacity="0.6"/>
<rect x="516.22" y="77.54" width="0.9" height="0.9" fill="#222" fill-opacity="0.4"/>
<rect x="526.19" y="70.31" width="0.9" height="0.9" fill="#222" fill-opacity="0.6"/>
<rect x="531.94" y="61.49" width="0.9" height="0.9" fill="#222" fill-opacity="0.85"/>
<rect x="524.94" y="66.12" width="0.9" height="0.9" fill="#222" fill-opacity="0.85"/>
<rect x="523.49" y="82.68" width="0.9" height="0.9" fill="#222" fill-opacity="0.4"/>
<rect x="514.45" y="57.58" width="0.9" height="0.9" fill="#222" fill-opacity="0.4"/>
<rect x="527.91" y="87.92" width="0.9" height="0.9" fill="#222" fill-opacity="0.85"/>
<rect x="519.6" y="105.2" width="0.9" height="0.9" fill="#222" fill-opacity="0.4"/>
<rect x="527.21" y="77.51" width="0.9" height="0.9" fill="#222" fill-opacity="0.6"/>
<rect x="515.52" y="73.03" width="0.9" height="0.9" fill="#222" fill-opacity="0.4"/>
<rect x="515.48" y="57.08" width="0.9" height="0.9" fill="#222" fill-opacity="0.6"/>
<rect x="514.08" y="61.89" width="0.9" height="0.9" fill="#222" fill-opacity="0.6"/>
<rect x="508.02" y="58.61" width="0.9" height="0.9" fill="#222" fill-opacity="0.85"/>
<rect x="511.94" y="82.42" width="0.9" height="0.9" fill="#222" fill-opacity="0.85"/>
<rect x="525.19" y="93.91" width="0.9" height="0.9" fill="#222" fill-opacity="0.6"/>
<rect x="519.2" y="57.74" width="0.9" height="0.9" fill="#222" fill-opacity="0.85"/>
<rect x="523.64" y="92.83" width="0.9" height="0.9" fill="#222" fill-opacity="0.4"/>
<rect x="520.23" y="86.56" width="0.9" height="0.9" fill="#222" fill-opacity="0.4"/>
<rect x="528.28" y="91.71" width="0.9" height="0.9" fill="#222" fill-opacity="0.6"/>
<rect x="442.5" y="16.5" width="105" height="95" fill="none" stroke="#555555" stroke-width="1"/>
<line x1="440" y1="19" x2="442.5" y2="19" stroke="#8a8a8a" stroke-width="1"/>
<text x="432.2" y="23.28" font-size="8.6" text-anchor="middle" fill="#1a1a1a" stroke="#1a1a1a" stroke-width="0.1" textLength="14" lengthAdjust="spacingAndGlyphs">200</text>
<line x1="440" y1="39.4" x2="442.5" y2="39.4" stroke="#8a8a8a" stroke-width="1"/>
<text x="432.2" y="43.28" font-size="8.6" text-anchor="middle" fill="#1a1a1a" stroke="#1a1a1a" stroke-width="0.1" textLength="14" lengthAdjust="spacingAndGlyphs">150</text>
<line x1="440" y1="59" x2="442.5" y2="59" stroke="#8a8a8a" stroke-width="1"/>
<text x="432.2" y="62.48" font-size="8.6" text-anchor="middle" fill="#1a1a1a" stroke="#1a1a1a" stroke-width="0.1" textLength="14" lengthAdjust="spacingAndGlyphs">100</text>
<line x1="440" y1="78.2" x2="442.5" y2="78.2" stroke="#8a8a8a" stroke-width="1"/>
<text x="432.5" y="81.88" font-size="8.6" text-anchor="middle" fill="#1a1a1a" stroke="#1a1a1a" stroke-width="0.1" textLength="9.6" lengthAdjust="spacingAndGlyphs">50</text>
<line x1="440" y1="97.6" x2="442.5" y2="97.6" stroke="#8a8a8a" stroke-width="1"/>
<text x="433.2" y="101.28" font-size="8.6" text-anchor="middle" fill="#1a1a1a" stroke="#1a1a1a" stroke-width="0.1" textLength="4.9" lengthAdjust="spacingAndGlyphs">0</text>
<path d="M469.6,27.8 L469.6,26.2 L520.4,26.2 L520.4,27.8" fill="none" stroke="#555" stroke-width="0.9" stroke-linejoin="round"/>
<text x="495.2" y="24.91" font-size="8.4" text-anchor="middle" fill="#1a1a1a" stroke="#1a1a1a" stroke-width="0.1" textLength="47.6" lengthAdjust="spacingAndGlyphs"><tspan font-style="italic">P</tspan> = 0.00038</text>
<text x="469.6" y="121.39" font-size="8.9" text-anchor="middle" fill="#1a1a1a" stroke="#1a1a1a" stroke-width="0.1" textLength="29.4" lengthAdjust="spacingAndGlyphs">Low risk</text>
<line x1="469.6" y1="111.5" x2="469.6" y2="113.5" stroke="#8a8a8a" stroke-width="1"/>
<text x="520.4" y="121.39" font-size="8.9" text-anchor="middle" fill="#1a1a1a" stroke="#1a1a1a" stroke-width="0.1" textLength="30.6" lengthAdjust="spacingAndGlyphs">High risk</text>
<line x1="520.4" y1="111.5" x2="520.4" y2="113.5" stroke="#8a8a8a" stroke-width="1"/>
<line x1="571.5" y1="42.3" x2="675.5" y2="42.3" stroke="#ebebeb" stroke-width="0.8"/>
<line x1="571.5" y1="70" x2="675.5" y2="70" stroke="#ebebeb" stroke-width="0.8"/>
<line x1="571.5" y1="97.5" x2="675.5" y2="97.5" stroke="#ebebeb" stroke-width="0.8"/>
<line x1="598.3" y1="17" x2="598.3" y2="110.8" stroke="#ebebeb" stroke-width="0.8"/>
<line x1="649.3" y1="17" x2="649.3" y2="110.8" stroke="#ebebeb" stroke-width="0.8"/>
<path d="M598.9,44 C599.9,44.42 601.83,45.73 603.7,46.5 C605.57,47.27 608.13,47.88 610.1,48.6 C612.07,49.32 613.82,49.98 615.5,50.8 C617.18,51.62 619.85,52.5 620.2,53.5 C620.55,54.5 619.1,55.83 617.6,56.8 C616.1,57.77 613.35,58.33 611.2,59.3 C609.05,60.27 606.32,61.35 604.7,62.6 C603.08,63.85 602.38,65.02 601.5,66.8 C600.62,68.58 599.65,70.97 599.4,73.3 C599.15,75.63 599.97,78.48 600,80.8 C600.03,83.12 599.78,85.05 599.6,87.2 C599.42,89.35 599.08,91.68 598.9,93.7 C598.72,95.72 598.63,98.37 598.5,99.3 C598.37,100.23 598.23,100.23 598.1,99.3 C597.97,98.37 597.88,95.72 597.7,93.7 C597.52,91.68 597.18,89.35 597,87.2 C596.82,85.05 596.57,83.12 596.6,80.8 C596.63,78.48 597.45,75.63 597.2,73.3 C596.95,70.97 595.98,68.58 595.1,66.8 C594.22,65.02 593.52,63.85 591.9,62.6 C590.28,61.35 587.55,60.27 585.4,59.3 C583.25,58.33 580.5,57.77 579,56.8 C577.5,55.83 576.05,54.5 576.4,53.5 C576.75,52.5 579.42,51.62 581.1,50.8 C582.78,49.98 584.53,49.32 586.5,48.6 C588.47,47.88 591.03,47.27 592.9,46.5 C594.77,45.73 596.7,44.42 597.7,44 C598.7,43.58 597.9,43.58 598.9,44Z" fill="#a9cfee" stroke="#82b5e2" stroke-width="0.6" stroke-opacity="0.45"/>
<rect x="595.5" y="52.5" width="5.6" height="9" fill="#82b5e2" stroke="none" stroke-width="1" fill-opacity="0.85"/>
<rect x="590.23" y="52.8" width="0.9" height="0.9" fill="#222" fill-opacity="0.6"/>
<rect x="586.18" y="56.37" width="0.9" height="0.9" fill="#222" fill-opacity="0.4"/>
<rect x="597.6" y="51.29" width="0.9" height="0.9" fill="#222" fill-opacity="0.85"/>
<rect x="602.18" y="49.7" width="0.9" height="0.9" fill="#222" fill-opacity="0.6"/>
<rect x="597.91" y="72.04" width="0.9" height="0.9" fill="#222" fill-opacity="0.6"/>
<rect x="608.73" y="57.03" width="0.9" height="0.9" fill="#222" fill-opacity="0.4"/>
<rect x="594.71" y="65.26" width="0.9" height="0.9" fill="#222" fill-opacity="0.6"/>
<rect x="582.85" y="51.49" width="0.9" height="0.9" fill="#222" fill-opacity="0.4"/>
<rect x="600.97" y="49.64" width="0.9" height="0.9" fill="#222" fill-opacity="0.4"/>
<rect x="598.27" y="52.29" width="0.9" height="0.9" fill="#222" fill-opacity="0.85"/>
<rect x="597.14" y="52.12" width="0.9" height="0.9" fill="#222" fill-opacity="0.85"/>
<rect x="595.19" y="51.73" width="0.9" height="0.9" fill="#222" fill-opacity="0.4"/>
<rect x="603.11" y="52.56" width="0.9" height="0.9" fill="#222" fill-opacity="0.6"/>
<rect x="600.69" y="52.29" width="0.9" height="0.9" fill="#222" fill-opacity="0.4"/>
<rect x="609.19" y="51.03" width="0.9" height="0.9" fill="#222" fill-opacity="0.4"/>
<rect x="599.55" y="51.72" width="0.9" height="0.9" fill="#222" fill-opacity="0.4"/>
<rect x="588.02" y="52.58" width="0.9" height="0.9" fill="#222" fill-opacity="0.85"/>
<rect x="599.97" y="47.41" width="0.9" height="0.9" fill="#222" fill-opacity="0.6"/>
<rect x="589.88" y="51.31" width="0.9" height="0.9" fill="#222" fill-opacity="0.4"/>
<rect x="595.81" y="67.82" width="0.9" height="0.9" fill="#222" fill-opacity="0.85"/>
<rect x="601.36" y="48.82" width="0.9" height="0.9" fill="#222" fill-opacity="0.85"/>
<rect x="599.11" y="55.9" width="0.9" height="0.9" fill="#222" fill-opacity="0.85"/>
<rect x="605.06" y="54.45" width="0.9" height="0.9" fill="#222" fill-opacity="0.4"/>
<rect x="606.97" y="53.21" width="0.9" height="0.9" fill="#222" fill-opacity="0.85"/>
<rect x="595.5" y="61.2" width="0.9" height="0.9" fill="#222" fill-opacity="0.4"/>
<rect x="583.22" y="53.36" width="0.9" height="0.9" fill="#222" fill-opacity="0.4"/>
<rect x="586.41" y="55.48" width="0.9" height="0.9" fill="#222" fill-opacity="0.4"/>
<rect x="598.26" y="67.91" width="0.9" height="0.9" fill="#222" fill-opacity="0.85"/>
<rect x="593.99" y="51.77" width="1" height="1" fill="#222" fill-opacity="0.5"/>
<rect x="587.96" y="52.98" width="1" height="1" fill="#222" fill-opacity="0.8"/>
<rect x="594.91" y="51.6" width="1" height="1" fill="#222" fill-opacity="0.5"/>
<rect x="591.6" y="51.65" width="1" height="1" fill="#222" fill-opacity="0.6"/>
<rect x="588.43" y="51.66" width="1" height="1" fill="#222" fill-opacity="0.6"/>
<rect x="588.19" y="52.52" width="1" height="1" fill="#222" fill-opacity="0.8"/>
<rect x="600.71" y="52.55" width="1" height="1" fill="#222" fill-opacity="0.8"/>
<rect x="599.54" y="52.21" width="1" height="1" fill="#222" fill-opacity="0.8"/>
<rect x="587.92" y="53.05" width="1" height="1" fill="#222" fill-opacity="0.6"/>
<rect x="596.08" y="52.47" width="1" height="1" fill="#222" fill-opacity="0.5"/>
<rect x="593.66" y="52.97" width="1" height="1" fill="#222" fill-opacity="0.8"/>
<rect x="589.16" y="52.53" width="1" height="1" fill="#222" fill-opacity="0.8"/>
<rect x="595.06" y="52.49" width="1" height="1" fill="#222" fill-opacity="0.8"/>
<rect x="599.26" y="52.61" width="1" height="1" fill="#222" fill-opacity="0.6"/>
<rect x="601.8" y="52.27" width="1" height="1" fill="#222" fill-opacity="0.6"/>
<rect x="597.1" y="53.16" width="1" height="1" fill="#222" fill-opacity="0.6"/>
<rect x="593.46" y="52.93" width="1" height="1" fill="#222" fill-opacity="0.5"/>
<rect x="603.98" y="51.65" width="1" height="1" fill="#222" fill-opacity="0.6"/>
<rect x="598.4" y="53.08" width="1" height="1" fill="#222" fill-opacity="0.5"/>
<rect x="596.73" y="52.6" width="1" height="1" fill="#222" fill-opacity="0.8"/>
<rect x="589.49" y="52.25" width="1" height="1" fill="#222" fill-opacity="0.6"/>
<rect x="590.23" y="52.38" width="1" height="1" fill="#222" fill-opacity="0.8"/>
<rect x="607.97" y="51.64" width="1" height="1" fill="#222" fill-opacity="0.5"/>
<rect x="599.45" y="53.08" width="1" height="1" fill="#222" fill-opacity="0.6"/>
<rect x="594.35" y="52.13" width="1" height="1" fill="#222" fill-opacity="0.6"/>
<rect x="599.6" y="52.32" width="1" height="1" fill="#222" fill-opacity="0.8"/>
<rect x="607.59" y="52.35" width="1" height="1" fill="#222" fill-opacity="0.5"/>
<rect x="588.32" y="52.82" width="1" height="1" fill="#222" fill-opacity="0.6"/>
<line x1="649.3" y1="28" x2="649.3" y2="42" stroke="#8587bb" stroke-width="1"/>
<path d="M649.8,40 C650.23,40.35 650.05,41.2 651.4,42.1 C652.75,43 655.4,44.15 657.9,45.4 C660.4,46.65 664.27,48 666.4,49.6 C668.53,51.2 670.15,53.38 670.7,55 C671.25,56.62 670.58,57.7 669.7,59.3 C668.82,60.9 666.73,62.82 665.4,64.6 C664.07,66.38 662.42,68.2 661.7,70 C660.98,71.8 660.85,73.62 661.1,75.4 C661.35,77.18 662.85,78.92 663.2,80.7 C663.55,82.48 663.55,84.32 663.2,86.1 C662.85,87.88 662.17,89.62 661.1,91.4 C660.03,93.18 658.23,95.02 656.8,96.8 C655.37,98.58 653.7,100.13 652.5,102.1 C651.3,104.07 650.18,107.52 649.6,108.6 C649.02,109.68 649.58,109.68 649,108.6 C648.42,107.52 647.3,104.07 646.1,102.1 C644.9,100.13 643.23,98.58 641.8,96.8 C640.37,95.02 638.57,93.18 637.5,91.4 C636.43,89.62 635.75,87.88 635.4,86.1 C635.05,84.32 635.05,82.48 635.4,80.7 C635.75,78.92 637.25,77.18 637.5,75.4 C637.75,73.62 637.62,71.8 636.9,70 C636.18,68.2 634.53,66.38 633.2,64.6 C631.87,62.82 629.78,60.9 628.9,59.3 C628.02,57.7 627.35,56.62 627.9,55 C628.45,53.38 630.07,51.2 632.2,49.6 C634.33,48 638.2,46.65 640.7,45.4 C643.2,44.15 645.85,43 647.2,42.1 C648.55,41.2 648.37,40.35 648.8,40 C649.23,39.65 649.37,39.65 649.8,40Z" fill="#b6b8d9" stroke="#9597c6" stroke-width="0.6" stroke-opacity="0.45"/>
<rect x="646.5" y="53" width="5.6" height="30.9" fill="#9597c6" stroke="none" stroke-width="1" fill-opacity="0.85"/>
<rect x="650.33" y="81.4" width="0.9" height="0.9" fill="#222" fill-opacity="0.6"/>
<rect x="650.68" y="60.96" width="0.9" height="0.9" fill="#222" fill-opacity="0.6"/>
<rect x="655.48" y="52.42" width="0.9" height="0.9" fill="#222" fill-opacity="0.6"/>
<rect x="655.82" y="53.4" width="0.9" height="0.9" fill="#222" fill-opacity="0.85"/>
<rect x="650.59" y="74.25" width="0.9" height="0.9" fill="#222" fill-opacity="0.6"/>
<rect x="657.39" y="46.9" width="0.9" height="0.9" fill="#222" fill-opacity="0.6"/>
<rect x="643.45" y="73.1" width="0.9" height="0.9" fill="#222" fill-opacity="0.6"/>
<rect x="647.59" y="51.3" width="0.9" height="0.9" fill="#222" fill-opacity="0.85"/>
<rect x="657.08" y="47.29" width="0.9" height="0.9" fill="#222" fill-opacity="0.6"/>
<rect x="664.86" y="53.64" width="0.9" height="0.9" fill="#222" fill-opacity="0.6"/>
<rect x="641.88" y="80.66" width="0.9" height="0.9" fill="#222" fill-opacity="0.6"/>
<rect x="659.03" y="83.64" width="0.9" height="0.9" fill="#222" fill-opacity="0.85"/>
<rect x="640.22" y="74.76" width="0.9" height="0.9" fill="#222" fill-opacity="0.4"/>
<rect x="650.13" y="48.7" width="0.9" height="0.9" fill="#222" fill-opacity="0.4"/>
<rect x="647.1" y="65.03" width="0.9" height="0.9" fill="#222" fill-opacity="0.85"/>
<rect x="652.71" y="46.55" width="0.9" height="0.9" fill="#222" fill-opacity="0.4"/>
<rect x="659" y="58.06" width="0.9" height="0.9" fill="#222" fill-opacity="0.85"/>
<rect x="640.23" y="59.76" width="0.9" height="0.9" fill="#222" fill-opacity="0.4"/>
<rect x="640.97" y="89.07" width="0.9" height="0.9" fill="#222" fill-opacity="0.4"/>
<rect x="647.03" y="55.65" width="0.9" height="0.9" fill="#222" fill-opacity="0.85"/>
<rect x="657.11" y="49.92" width="0.9" height="0.9" fill="#222" fill-opacity="0.85"/>
<rect x="652.16" y="56.46" width="0.9" height="0.9" fill="#222" fill-opacity="0.6"/>
<rect x="643.78" y="90.15" width="0.9" height="0.9" fill="#222" fill-opacity="0.4"/>
<rect x="647.9" y="70" width="0.9" height="0.9" fill="#222" fill-opacity="0.85"/>
<rect x="652.28" y="81.5" width="0.9" height="0.9" fill="#222" fill-opacity="0.4"/>
<rect x="644.57" y="60.71" width="0.9" height="0.9" fill="#222" fill-opacity="0.85"/>
<rect x="645.5" y="48.85" width="0.9" height="0.9" fill="#222" fill-opacity="0.4"/>
<rect x="652.75" y="56.05" width="0.9" height="0.9" fill="#222" fill-opacity="0.4"/>
<rect x="648" y="50.48" width="0.9" height="0.9" fill="#222" fill-opacity="0.4"/>
<rect x="647.73" y="51.61" width="0.9" height="0.9" fill="#222" fill-opacity="0.85"/>
<rect x="639.72" y="73.91" width="0.9" height="0.9" fill="#222" fill-opacity="0.4"/>
<rect x="634.35" y="59.48" width="0.9" height="0.9" fill="#222" fill-opacity="0.4"/>
<rect x="656.3" y="49.65" width="0.9" height="0.9" fill="#222" fill-opacity="0.6"/>
<rect x="650.9" y="96.75" width="0.9" height="0.9" fill="#222" fill-opacity="0.4"/>
<rect x="639.83" y="56.54" width="0.9" height="0.9" fill="#222" fill-opacity="0.4"/>
<rect x="637.02" y="62.82" width="0.9" height="0.9" fill="#222" fill-opacity="0.6"/>
<rect x="644.32" y="85.13" width="0.9" height="0.9" fill="#222" fill-opacity="0.6"/>
<rect x="657.78" y="47.08" width="0.9" height="0.9" fill="#222" fill-opacity="0.85"/>
<rect x="655.29" y="52.15" width="0.9" height="0.9" fill="#222" fill-opacity="0.4"/>
<rect x="650.79" y="82.03" width="0.9" height="0.9" fill="#222" fill-opacity="0.85"/>
<rect x="645.05" y="79.07" width="0.9" height="0.9" fill="#222" fill-opacity="0.6"/>
<rect x="641.82" y="57.81" width="0.9" height="0.9" fill="#222" fill-opacity="0.4"/>
<rect x="647.86" y="58.17" width="0.9" height="0.9" fill="#222" fill-opacity="0.85"/>
<rect x="656.53" y="86.08" width="0.9" height="0.9" fill="#222" fill-opacity="0.4"/>
<rect x="661.07" y="51.93" width="0.9" height="0.9" fill="#222" fill-opacity="0.6"/>
<rect x="646.11" y="68.59" width="0.9" height="0.9" fill="#222" fill-opacity="0.85"/>
<rect x="656.41" y="48.18" width="0.9" height="0.9" fill="#222" fill-opacity="0.4"/>
<rect x="646.14" y="49.32" width="0.9" height="0.9" fill="#222" fill-opacity="0.85"/>
<rect x="648.1" y="59.76" width="0.9" height="0.9" fill="#222" fill-opacity="0.85"/>
<rect x="663.78" y="51.39" width="0.9" height="0.9" fill="#222" fill-opacity="0.4"/>
<rect x="638.22" y="51.84" width="0.9" height="0.9" fill="#222" fill-opacity="0.4"/>
<rect x="663.83" y="56.75" width="0.9" height="0.9" fill="#222" fill-opacity="0.85"/>
<rect x="657.5" y="88.65" width="0.9" height="0.9" fill="#222" fill-opacity="0.85"/>
<rect x="660.55" y="64.82" width="0.9" height="0.9" fill="#222" fill-opacity="0.4"/>
<rect x="643.69" y="75.87" width="0.9" height="0.9" fill="#222" fill-opacity="0.4"/>
<rect x="638.9" y="56.97" width="0.9" height="0.9" fill="#222" fill-opacity="0.6"/>
<rect x="642.89" y="65.33" width="0.9" height="0.9" fill="#222" fill-opacity="0.85"/>
<rect x="656.51" y="54.31" width="0.9" height="0.9" fill="#222" fill-opacity="0.6"/>
<rect x="648.23" y="50.59" width="0.9" height="0.9" fill="#222" fill-opacity="0.4"/>
<rect x="652.43" y="63.76" width="0.9" height="0.9" fill="#222" fill-opacity="0.4"/>
<rect x="659.24" y="54.38" width="0.9" height="0.9" fill="#222" fill-opacity="0.4"/>
<rect x="640.9" y="52.62" width="0.9" height="0.9" fill="#222" fill-opacity="0.4"/>
<rect x="642.35" y="63.03" width="0.9" height="0.9" fill="#222" fill-opacity="0.6"/>
<rect x="651.22" y="81.14" width="0.9" height="0.9" fill="#222" fill-opacity="0.4"/>
<rect x="641.36" y="92.42" width="0.9" height="0.9" fill="#222" fill-opacity="0.4"/>
<rect x="633.28" y="53.12" width="0.9" height="0.9" fill="#222" fill-opacity="0.4"/>
<rect x="646.93" y="87.91" width="0.9" height="0.9" fill="#222" fill-opacity="0.85"/>
<rect x="645.5" y="59.72" width="0.9" height="0.9" fill="#222" fill-opacity="0.85"/>
<rect x="642.91" y="48.39" width="0.9" height="0.9" fill="#222" fill-opacity="0.4"/>
<rect x="652.73" y="55.62" width="0.9" height="0.9" fill="#222" fill-opacity="0.85"/>
<rect x="649.89" y="62.51" width="0.9" height="0.9" fill="#222" fill-opacity="0.4"/>
<rect x="652.52" y="52.49" width="0.9" height="0.9" fill="#222" fill-opacity="0.85"/>
<rect x="660.66" y="52.66" width="0.9" height="0.9" fill="#222" fill-opacity="0.4"/>
<rect x="651.65" y="52.78" width="0.9" height="0.9" fill="#222" fill-opacity="0.4"/>
<rect x="636.16" y="63.28" width="0.9" height="0.9" fill="#222" fill-opacity="0.85"/>
<rect x="642.69" y="90.57" width="0.9" height="0.9" fill="#222" fill-opacity="0.85"/>
<rect x="663.24" y="60.65" width="0.9" height="0.9" fill="#222" fill-opacity="0.6"/>
<rect x="640.87" y="50.63" width="0.9" height="0.9" fill="#222" fill-opacity="0.4"/>
<rect x="636.81" y="53.1" width="0.9" height="0.9" fill="#222" fill-opacity="0.85"/>
<rect x="657.05" y="85.84" width="0.9" height="0.9" fill="#222" fill-opacity="0.6"/>
<rect x="649.15" y="77.46" width="0.9" height="0.9" fill="#222" fill-opacity="0.85"/>
<rect x="659.19" y="49.45" width="0.9" height="0.9" fill="#222" fill-opacity="0.4"/>
<rect x="639.63" y="65.43" width="0.9" height="0.9" fill="#222" fill-opacity="0.6"/>
<rect x="651.47" y="71.11" width="0.9" height="0.9" fill="#222" fill-opacity="0.4"/>
<rect x="645.79" y="79.48" width="0.9" height="0.9" fill="#222" fill-opacity="0.4"/>
<rect x="663.21" y="56.43" width="0.9" height="0.9" fill="#222" fill-opacity="0.4"/>
<rect x="635.09" y="54.49" width="0.9" height="0.9" fill="#222" fill-opacity="0.85"/>
<rect x="638.66" y="84.24" width="0.9" height="0.9" fill="#222" fill-opacity="0.6"/>
<rect x="661.48" y="60.33" width="0.9" height="0.9" fill="#222" fill-opacity="0.4"/>
<rect x="640.76" y="68.34" width="0.9" height="0.9" fill="#222" fill-opacity="0.4"/>
<rect x="645.22" y="57.22" width="0.9" height="0.9" fill="#222" fill-opacity="0.85"/>
<rect x="656.15" y="82.6" width="0.9" height="0.9" fill="#222" fill-opacity="0.4"/>
<rect x="652.9" y="62" width="0.9" height="0.9" fill="#222" fill-opacity="0.4"/>
<rect x="648.29" y="60.2" width="0.9" height="0.9" fill="#222" fill-opacity="0.85"/>
<rect x="649.11" y="45.03" width="0.9" height="0.9" fill="#222" fill-opacity="0.4"/>
<rect x="642.74" y="91.57" width="0.9" height="0.9" fill="#222" fill-opacity="0.85"/>
<rect x="657.34" y="52.64" width="0.9" height="0.9" fill="#222" fill-opacity="0.85"/>
<rect x="657.38" y="79.6" width="0.9" height="0.9" fill="#222" fill-opacity="0.85"/>
<rect x="658.41" y="64.85" width="0.9" height="0.9" fill="#222" fill-opacity="0.85"/>
<rect x="644.73" y="63.06" width="0.9" height="0.9" fill="#222" fill-opacity="0.4"/>
<rect x="642.73" y="69.44" width="0.9" height="0.9" fill="#222" fill-opacity="0.4"/>
<rect x="647.14" y="57.97" width="0.9" height="0.9" fill="#222" fill-opacity="0.4"/>
<rect x="640.77" y="84.72" width="0.9" height="0.9" fill="#222" fill-opacity="0.85"/>
<rect x="640.27" y="79" width="0.9" height="0.9" fill="#222" fill-opacity="0.6"/>
<rect x="636.14" y="55.77" width="0.9" height="0.9" fill="#222" fill-opacity="0.6"/>
<rect x="646.49" y="70.24" width="0.9" height="0.9" fill="#222" fill-opacity="0.4"/>
<rect x="663.4" y="56.49" width="0.9" height="0.9" fill="#222" fill-opacity="0.85"/>
<rect x="639.12" y="60.8" width="0.9" height="0.9" fill="#222" fill-opacity="0.85"/>
<rect x="655.93" y="56.51" width="0.9" height="0.9" fill="#222" fill-opacity="0.4"/>
<rect x="640.07" y="71.86" width="0.9" height="0.9" fill="#222" fill-opacity="0.6"/>
<rect x="642.92" y="53.23" width="1" height="1" fill="#222" fill-opacity="0.8"/>
<rect x="642.09" y="51.58" width="1" height="1" fill="#222" fill-opacity="0.8"/>
<rect x="643.44" y="53.3" width="1" height="1" fill="#222" fill-opacity="0.8"/>
<rect x="647.24" y="51.55" width="1" height="1" fill="#222" fill-opacity="0.6"/>
<rect x="648.54" y="52.39" width="1" height="1" fill="#222" fill-opacity="0.8"/>
<rect x="659.55" y="52.22" width="1" height="1" fill="#222" fill-opacity="0.6"/>
<rect x="643.11" y="51.54" width="1" height="1" fill="#222" fill-opacity="0.6"/>
<rect x="650.2" y="52.35" width="1" height="1" fill="#222" fill-opacity="0.6"/>
<rect x="655.3" y="52.69" width="1" height="1" fill="#222" fill-opacity="0.8"/>
<rect x="661.89" y="51.61" width="1" height="1" fill="#222" fill-opacity="0.5"/>
<rect x="657.87" y="51.69" width="1" height="1" fill="#222" fill-opacity="0.8"/>
<rect x="645.69" y="52.74" width="1" height="1" fill="#222" fill-opacity="0.6"/>
<rect x="659.7" y="52.43" width="1" height="1" fill="#222" fill-opacity="0.8"/>
<rect x="651.72" y="51.76" width="1" height="1" fill="#222" fill-opacity="0.8"/>
<rect x="650.68" y="51.57" width="1" height="1" fill="#222" fill-opacity="0.5"/>
<rect x="642.11" y="53.2" width="1" height="1" fill="#222" fill-opacity="0.5"/>
<rect x="648.62" y="52.55" width="1" height="1" fill="#222" fill-opacity="0.6"/>
<rect x="644.38" y="52.14" width="1" height="1" fill="#222" fill-opacity="0.6"/>
<rect x="640.65" y="52.88" width="1" height="1" fill="#222" fill-opacity="0.8"/>
<rect x="650.49" y="52.06" width="1" height="1" fill="#222" fill-opacity="0.6"/>
<rect x="660.86" y="53.02" width="1" height="1" fill="#222" fill-opacity="0.5"/>
<rect x="652.77" y="52.06" width="1" height="1" fill="#222" fill-opacity="0.6"/>
<rect x="650.41" y="52.42" width="1" height="1" fill="#222" fill-opacity="0.8"/>
<rect x="657.34" y="53.04" width="1" height="1" fill="#222" fill-opacity="0.5"/>
<rect x="650.81" y="52.12" width="1" height="1" fill="#222" fill-opacity="0.8"/>
<rect x="644.63" y="51.9" width="1" height="1" fill="#222" fill-opacity="0.8"/>
<rect x="647.8" y="52.18" width="1" height="1" fill="#222" fill-opacity="0.5"/>
<rect x="659.41" y="51.82" width="1" height="1" fill="#222" fill-opacity="0.6"/>
<rect x="640.18" y="53.18" width="1" height="1" fill="#222" fill-opacity="0.8"/>
<rect x="642.3" y="52.88" width="1" height="1" fill="#222" fill-opacity="0.6"/>
<rect x="640.19" y="52.93" width="1" height="1" fill="#222" fill-opacity="0.6"/>
<rect x="645.78" y="51.81" width="1" height="1" fill="#222" fill-opacity="0.6"/>
<rect x="571.5" y="17" width="104" height="93.8" fill="none" stroke="#555555" stroke-width="1"/>
<line x1="569" y1="42.3" x2="571.5" y2="42.3" stroke="#8a8a8a" stroke-width="1"/>
<text x="562" y="44.98" font-size="8.6" text-anchor="middle" fill="#1a1a1a" stroke="#1a1a1a" stroke-width="0.1" textLength="14" lengthAdjust="spacingAndGlyphs">100</text>
<line x1="569" y1="70" x2="571.5" y2="70" stroke="#8a8a8a" stroke-width="1"/>
<text x="562.9" y="73.38" font-size="8.6" text-anchor="middle" fill="#1a1a1a" stroke="#1a1a1a" stroke-width="0.1" textLength="9.6" lengthAdjust="spacingAndGlyphs">50</text>
<line x1="569" y1="97.5" x2="571.5" y2="97.5" stroke="#8a8a8a" stroke-width="1"/>
<text x="563.4" y="99.98" font-size="8.6" text-anchor="middle" fill="#1a1a1a" stroke="#1a1a1a" stroke-width="0.1" textLength="4.9" lengthAdjust="spacingAndGlyphs">0</text>
<path d="M598.3,29.6 L598.3,28 L649.3,28 L649.3,29.6" fill="none" stroke="#555" stroke-width="0.9" stroke-linejoin="round"/>
<text x="622.9" y="25.51" font-size="8.4" text-anchor="middle" fill="#1a1a1a" stroke="#1a1a1a" stroke-width="0.1" textLength="41" lengthAdjust="spacingAndGlyphs"><tspan font-style="italic">P</tspan> &lt; 0.0001</text>
<text x="598.3" y="121.39" font-size="8.9" text-anchor="middle" fill="#1a1a1a" stroke="#1a1a1a" stroke-width="0.1" textLength="29.4" lengthAdjust="spacingAndGlyphs">Low risk</text>
<line x1="598.3" y1="110.8" x2="598.3" y2="112.8" stroke="#8a8a8a" stroke-width="1"/>
<text x="649.3" y="121.39" font-size="8.9" text-anchor="middle" fill="#1a1a1a" stroke="#1a1a1a" stroke-width="0.1" textLength="30.6" lengthAdjust="spacingAndGlyphs">High risk</text>
<line x1="649.3" y1="110.8" x2="649.3" y2="112.8" stroke="#8a8a8a" stroke-width="1"/>
<text transform="translate(290.45,59.8) rotate(-90)" x="0" y="0" font-size="8.8" text-anchor="middle" fill="#1a1a1a" stroke="#1a1a1a" stroke-width="0.1" textLength="52.7" lengthAdjust="spacingAndGlyphs">DFS(months)</text>
<path d="M314.3,142.33 L322.7,141.56 L328.8,141.97 L339.6,141.46 L350.3,141.85 L353.4,142.2 L354.9,143.63 L362.5,144.2 L371.7,145.8 L379.4,147.3 L385.5,149.3 L414.7,149.3" fill="none" stroke="#e3f5fc" stroke-width="0.7" stroke-linejoin="round"/>
<path d="M314.3,142.26 L322.7,143.21 L328.8,145.15 L339.6,147.33 L350.3,150.4 L353.4,151.53 L354.9,153.33 L362.5,154.2 L371.7,155.8 L379.4,157.3 L385.5,159.3 L414.7,159.3" fill="none" stroke="#e3f5fc" stroke-width="0.7" stroke-linejoin="round"/>
<path d="M314.3,142.35 L321.9,141.66 L324.2,143.08 L327.3,144.58 L330.4,146.38 L333.4,148.19 L335,150.23 L336.5,153.88 L338.8,157.31 L342.6,159.49 L347.2,160.85 L351.8,162.5 L354.9,164.69 L356.4,167.5 L362.5,170.6 L367.1,172.6 L371,175.6 L377.9,176.7 L382.5,179.3 L387.1,182.1 L390.1,184.8 L414.7,184.8" fill="none" stroke="#fcebe2" stroke-width="0.7" stroke-linejoin="round"/>
<path d="M314.3,142.25 L321.9,143.54 L324.2,145.72 L327.3,148.22 L330.4,151.02 L333.4,153.81 L335,156.37 L336.5,160.51 L338.8,164.69 L342.6,168.11 L347.2,170.95 L351.8,174.1 L354.9,177.31 L356.4,180.5 L362.5,183.6 L367.1,185.6 L371,188.6 L377.9,189.7 L382.5,192.3 L387.1,195.1 L390.1,197.8 L414.7,197.8" fill="none" stroke="#fcebe2" stroke-width="0.7" stroke-linejoin="round"/>
<path d="M314.3,142.3 L321.2,142.3 L323.23,142.3 L323.23,142.67 L325.27,142.67 L325.27,143.03 L327.3,143.03 L327.3,143.4 L329.46,143.4 L329.46,143.54 L331.62,143.54 L331.62,143.68 L333.78,143.68 L333.78,143.82 L335.94,143.82 L335.94,143.96 L338.1,143.96 L338.1,144.1 L340.24,144.1 L340.24,144.42 L342.38,144.42 L342.38,144.74 L344.52,144.74 L344.52,145.06 L346.66,145.06 L346.66,145.38 L348.8,145.38 L348.8,145.7 L350.35,145.7 L350.35,146.05 L351.9,146.05 L351.9,146.4 L353.4,146.4 L353.4,148 L355.3,148 L355.3,148.18 L357.2,148.18 L357.2,148.35 L359.1,148.35 L359.1,148.52 L361,148.52 L361,148.7 L363.3,148.7 L363.3,149.1 L365.6,149.1 L365.6,149.5 L367.9,149.5 L367.9,149.9 L370.2,149.9 L370.2,150.3 L372.12,150.3 L372.12,150.68 L374.05,150.68 L374.05,151.05 L375.97,151.05 L375.97,151.43 L377.9,151.43 L377.9,151.8 L379.93,151.8 L379.93,152.47 L381.97,152.47 L381.97,153.13 L384,153.13 L384,153.8 L413.2,153.8" fill="none" stroke="#5cc3ea" stroke-width="1.3" stroke-linejoin="round" stroke-linejoin="miter"/>
<path d="M314.3,142.3 L320.4,142.6 L322.7,142.6 L322.7,144.4 L324.25,144.4 L324.25,145.4 L325.8,145.4 L325.8,146.4 L327.35,146.4 L327.35,147.55 L328.9,147.55 L328.9,148.7 L330.4,148.7 L330.4,149.85 L331.9,149.85 L331.9,151 L333.5,151 L333.5,153.3 L334.25,153.3 L334.25,155.25 L335,155.25 L335,157.2 L336.15,157.2 L336.15,159.1 L337.3,159.1 L337.3,161 L339.2,161 L339.2,162.4 L341.1,162.4 L341.1,163.8 L343.4,163.8 L343.4,164.85 L345.7,164.85 L345.7,165.9 L348,165.9 L348,167.1 L350.3,167.1 L350.3,168.3 L351.85,168.3 L351.85,169.65 L353.4,169.65 L353.4,171 L354.15,171 L354.15,172.5 L354.9,172.5 L354.9,174 L356.93,174 L356.93,175.03 L358.97,175.03 L358.97,176.07 L361,176.07 L361,177.1 L363.3,177.1 L363.3,178.1 L365.6,178.1 L365.6,179.1 L367.55,179.1 L367.55,180.6 L369.5,180.6 L369.5,182.1 L371.8,182.1 L371.8,182.47 L374.1,182.47 L374.1,182.83 L376.4,182.83 L376.4,183.2 L378.7,183.2 L378.7,184.5 L381,184.5 L381,185.8 L383.3,185.8 L383.3,187.2 L385.6,187.2 L385.6,188.6 L387.1,188.6 L387.1,189.95 L388.6,189.95 L388.6,191.3 L413.2,191.3" fill="none" stroke="#e8602c" stroke-width="1.3" stroke-linejoin="round" stroke-linejoin="miter"/>
<line x1="314.6" y1="139.4" x2="314.6" y2="227" stroke="#5a5a5a" stroke-width="1"/>
<line x1="312.6" y1="227" x2="415.8" y2="227" stroke="#5a5a5a" stroke-width="1"/>
<line x1="312.3" y1="142.6" x2="314.6" y2="142.6" stroke="#8a8a8a" stroke-width="0.9"/>
<line x1="312.3" y1="163.7" x2="314.6" y2="163.7" stroke="#8a8a8a" stroke-width="0.9"/>
<line x1="312.3" y1="184.8" x2="314.6" y2="184.8" stroke="#8a8a8a" stroke-width="0.9"/>
<line x1="312.3" y1="205.9" x2="314.6" y2="205.9" stroke="#8a8a8a" stroke-width="0.9"/>
<line x1="312.3" y1="227" x2="314.6" y2="227" stroke="#8a8a8a" stroke-width="0.9"/>
<text x="304.5" y="146.44" font-size="8.5" text-anchor="middle" fill="#1a1a1a" stroke="#1a1a1a" stroke-width="0.1">100</text>
<text x="304.5" y="167.54" font-size="8.5" text-anchor="middle" fill="#1a1a1a" stroke="#1a1a1a" stroke-width="0.1">75</text>
<text x="304.5" y="188.44" font-size="8.5" text-anchor="middle" fill="#1a1a1a" stroke="#1a1a1a" stroke-width="0.1">50</text>
<text x="304.5" y="209.34" font-size="8.5" text-anchor="middle" fill="#1a1a1a" stroke="#1a1a1a" stroke-width="0.1">25</text>
<text x="304.5" y="230.24" font-size="8.5" text-anchor="middle" fill="#1a1a1a" stroke="#1a1a1a" stroke-width="0.1">0</text>
<line x1="314.6" y1="227" x2="314.6" y2="229" stroke="#8a8a8a" stroke-width="0.9"/>
<text x="314.6" y="237.04" font-size="8.5" text-anchor="middle" fill="#1a1a1a" stroke="#1a1a1a" stroke-width="0.1">0</text>
<line x1="339.4" y1="227" x2="339.4" y2="229" stroke="#8a8a8a" stroke-width="0.9"/>
<text x="339.4" y="237.04" font-size="8.5" text-anchor="middle" fill="#1a1a1a" stroke="#1a1a1a" stroke-width="0.1">20</text>
<line x1="363.8" y1="227" x2="363.8" y2="229" stroke="#8a8a8a" stroke-width="0.9"/>
<text x="363.8" y="237.04" font-size="8.5" text-anchor="middle" fill="#1a1a1a" stroke="#1a1a1a" stroke-width="0.1">40</text>
<line x1="388.1" y1="227" x2="388.1" y2="229" stroke="#8a8a8a" stroke-width="0.9"/>
<text x="388.1" y="237.04" font-size="8.5" text-anchor="middle" fill="#1a1a1a" stroke="#1a1a1a" stroke-width="0.1">60</text>
<line x1="412.4" y1="227" x2="412.4" y2="229" stroke="#8a8a8a" stroke-width="0.9"/>
<text x="412.4" y="237.04" font-size="8.5" text-anchor="middle" fill="#1a1a1a" stroke="#1a1a1a" stroke-width="0.1">80</text>
<text x="363.6" y="245.78" font-size="8.6" text-anchor="middle" fill="#1a1a1a" stroke="#1a1a1a" stroke-width="0.1" textLength="52.5" lengthAdjust="spacingAndGlyphs">Time(months)</text>
<text x="391.3" y="145.28" font-size="8.6" text-anchor="middle" fill="#1a1a1a" stroke="#1a1a1a" stroke-width="0.1" textLength="31.2" lengthAdjust="spacingAndGlyphs">Low risk</text>
<text x="391.7" y="174.78" font-size="8.6" text-anchor="middle" fill="#1a1a1a" stroke="#1a1a1a" stroke-width="0.1" textLength="33" lengthAdjust="spacingAndGlyphs">High risk</text>
<text x="316.6" y="212.98" font-size="8.6" text-anchor="start" fill="#1a1a1a" stroke="#1a1a1a" stroke-width="0.1" textLength="41.2" lengthAdjust="spacingAndGlyphs"><tspan font-style="italic">P</tspan> &lt; 0.0001</text>
<text x="316.6" y="221.08" font-size="8.6" text-anchor="start" fill="#1a1a1a" stroke="#1a1a1a" stroke-width="0.1" textLength="99" lengthAdjust="spacingAndGlyphs">HR = 5.9 (95% CI 3.8-9.1)</text>
<path d="M441.5,141.41 L455.3,140.93 L457.6,143.27 L464.5,143.99 L469.9,145.39 L472.9,147.65 L479.8,148.47 L487.5,150.1 L495.1,151.6 L502.8,153.1 L510.5,153.9 L540.4,153.9" fill="none" stroke="#e3f5fc" stroke-width="0.7" stroke-linejoin="round"/>
<path d="M441.5,141.39 L455.3,143.98 L457.6,146.89 L464.5,149.34 L469.9,152.09 L472.9,155.1 L479.8,157.65 L487.5,160.1 L495.1,161.6 L502.8,163.1 L510.5,163.9 L540.4,163.9" fill="none" stroke="#e3f5fc" stroke-width="0.7" stroke-linejoin="round"/>
<path d="M441.5,141.42 L447.6,143.37 L451.5,145.83 L453.8,149.26 L456.8,152.67 L459.9,155.17 L464.5,157.52 L469.1,159.88 L475.2,161.58 L481.4,163.68 L487.5,166 L493.6,168.3 L499.7,170.6 L504.3,172.1 L508.9,172.6 L512,174.1 L516.6,174.7 L540.4,174.7" fill="none" stroke="#fcebe2" stroke-width="0.7" stroke-linejoin="round"/>
<path d="M441.5,141.38 L447.6,144.83 L451.5,148.56 L453.8,152.74 L456.8,157.13 L459.9,160.63 L464.5,164.48 L469.1,168.32 L475.2,172.02 L481.4,176.12 L487.5,179 L493.6,181.3 L499.7,183.6 L504.3,185.1 L508.9,185.6 L512,187.1 L516.6,187.7 L540.4,187.7" fill="none" stroke="#fcebe2" stroke-width="0.7" stroke-linejoin="round"/>
<path d="M441.5,141.4 L443.96,141.4 L443.96,141.58 L446.42,141.58 L446.42,141.76 L448.88,141.76 L448.88,141.94 L451.34,141.94 L451.34,142.12 L453.8,142.12 L453.8,142.3 L454.95,142.3 L454.95,143.6 L456.1,143.6 L456.1,144.9 L458.4,144.9 L458.4,145.4 L460.7,145.4 L460.7,145.9 L463,145.9 L463,146.4 L464.8,146.4 L464.8,147.07 L466.6,147.07 L466.6,147.73 L468.4,147.73 L468.4,148.4 L469.9,148.4 L469.9,149.7 L471.4,149.7 L471.4,151 L473.7,151 L473.7,151.53 L476,151.53 L476,152.07 L478.3,152.07 L478.3,152.6 L480.23,152.6 L480.23,153.1 L482.15,153.1 L482.15,153.6 L484.07,153.6 L484.07,154.1 L486,154.1 L486,154.6 L487.9,154.6 L487.9,154.97 L489.8,154.97 L489.8,155.35 L491.7,155.35 L491.7,155.72 L493.6,155.72 L493.6,156.1 L495.53,156.1 L495.53,156.47 L497.45,156.47 L497.45,156.85 L499.38,156.85 L499.38,157.22 L501.3,157.22 L501.3,157.6 L503.23,157.6 L503.23,157.8 L505.15,157.8 L505.15,158 L507.07,158 L507.07,158.2 L509,158.2 L509,158.4 L538.9,158.4" fill="none" stroke="#5cc3ea" stroke-width="1.3" stroke-linejoin="round" stroke-linejoin="miter"/>
<path d="M441.5,141.4 L443.8,141.4 L443.8,142.75 L446.1,142.75 L446.1,144.1 L448.05,144.1 L448.05,145.65 L450,145.65 L450,147.2 L451.15,147.2 L451.15,149.1 L452.3,149.1 L452.3,151 L453.8,151 L453.8,152.95 L455.3,152.95 L455.3,154.9 L456.85,154.9 L456.85,156.4 L458.4,156.4 L458.4,157.9 L460.7,157.9 L460.7,159.45 L463,159.45 L463,161 L465.3,161 L465.3,162.55 L467.6,162.55 L467.6,164.1 L469.63,164.1 L469.63,165 L471.67,165 L471.67,165.9 L473.7,165.9 L473.7,166.8 L475.77,166.8 L475.77,167.83 L477.83,167.83 L477.83,168.87 L479.9,168.87 L479.9,169.9 L481.93,169.9 L481.93,170.77 L483.97,170.77 L483.97,171.63 L486,171.63 L486,172.5 L488.03,172.5 L488.03,173.27 L490.07,173.27 L490.07,174.03 L492.1,174.03 L492.1,174.8 L494.13,174.8 L494.13,175.57 L496.17,175.57 L496.17,176.33 L498.2,176.33 L498.2,177.1 L500.5,177.1 L500.5,177.85 L502.8,177.85 L502.8,178.6 L505.1,178.6 L505.1,178.85 L507.4,178.85 L507.4,179.1 L508.95,179.1 L508.95,179.85 L510.5,179.85 L510.5,180.6 L512.8,180.6 L512.8,180.9 L515.1,180.9 L515.1,181.2 L538.9,181.2" fill="none" stroke="#e8602c" stroke-width="1.3" stroke-linejoin="round" stroke-linejoin="miter"/>
<line x1="441.6" y1="138.2" x2="441.6" y2="226.6" stroke="#5a5a5a" stroke-width="1"/>
<line x1="439.6" y1="226.6" x2="542.5" y2="226.6" stroke="#5a5a5a" stroke-width="1"/>
<line x1="439.3" y1="141.4" x2="441.6" y2="141.4" stroke="#8a8a8a" stroke-width="0.9"/>
<line x1="439.3" y1="162.7" x2="441.6" y2="162.7" stroke="#8a8a8a" stroke-width="0.9"/>
<line x1="439.3" y1="184" x2="441.6" y2="184" stroke="#8a8a8a" stroke-width="0.9"/>
<line x1="439.3" y1="205.3" x2="441.6" y2="205.3" stroke="#8a8a8a" stroke-width="0.9"/>
<line x1="439.3" y1="226.6" x2="441.6" y2="226.6" stroke="#8a8a8a" stroke-width="0.9"/>
<text x="430.8" y="145.54" font-size="8.5" text-anchor="middle" fill="#1a1a1a" stroke="#1a1a1a" stroke-width="0.1">100</text>
<text x="430.8" y="166.34" font-size="8.5" text-anchor="middle" fill="#1a1a1a" stroke="#1a1a1a" stroke-width="0.1">75</text>
<text x="430.8" y="187.24" font-size="8.5" text-anchor="middle" fill="#1a1a1a" stroke="#1a1a1a" stroke-width="0.1">50</text>
<text x="430.8" y="208.14" font-size="8.5" text-anchor="middle" fill="#1a1a1a" stroke="#1a1a1a" stroke-width="0.1">25</text>
<text x="430.8" y="229.04" font-size="8.5" text-anchor="middle" fill="#1a1a1a" stroke="#1a1a1a" stroke-width="0.1">0</text>
<line x1="442.1" y1="226.6" x2="442.1" y2="228.6" stroke="#8a8a8a" stroke-width="0.9"/>
<text x="442.1" y="236.64" font-size="8.5" text-anchor="middle" fill="#1a1a1a" stroke="#1a1a1a" stroke-width="0.1">0</text>
<line x1="466.2" y1="226.6" x2="466.2" y2="228.6" stroke="#8a8a8a" stroke-width="0.9"/>
<text x="466.2" y="236.64" font-size="8.5" text-anchor="middle" fill="#1a1a1a" stroke="#1a1a1a" stroke-width="0.1">20</text>
<line x1="490.8" y1="226.6" x2="490.8" y2="228.6" stroke="#8a8a8a" stroke-width="0.9"/>
<text x="490.8" y="236.64" font-size="8.5" text-anchor="middle" fill="#1a1a1a" stroke="#1a1a1a" stroke-width="0.1">40</text>
<line x1="515.4" y1="226.6" x2="515.4" y2="228.6" stroke="#8a8a8a" stroke-width="0.9"/>
<text x="515.4" y="236.64" font-size="8.5" text-anchor="middle" fill="#1a1a1a" stroke="#1a1a1a" stroke-width="0.1">60</text>
<line x1="539.5" y1="226.6" x2="539.5" y2="228.6" stroke="#8a8a8a" stroke-width="0.9"/>
<text x="539.5" y="236.64" font-size="8.5" text-anchor="middle" fill="#1a1a1a" stroke="#1a1a1a" stroke-width="0.1">80</text>
<text x="490.8" y="245.68" font-size="8.6" text-anchor="middle" fill="#1a1a1a" stroke="#1a1a1a" stroke-width="0.1" textLength="52.5" lengthAdjust="spacingAndGlyphs">Time(months)</text>
<text x="513.3" y="148.68" font-size="8.6" text-anchor="middle" fill="#1a1a1a" stroke="#1a1a1a" stroke-width="0.1" textLength="31.2" lengthAdjust="spacingAndGlyphs">Low risk</text>
<text x="515.9" y="194.68" font-size="8.6" text-anchor="middle" fill="#1a1a1a" stroke="#1a1a1a" stroke-width="0.1" textLength="33" lengthAdjust="spacingAndGlyphs">High risk</text>
<text x="444" y="212.48" font-size="8.6" text-anchor="start" fill="#1a1a1a" stroke="#1a1a1a" stroke-width="0.1" textLength="41.2" lengthAdjust="spacingAndGlyphs"><tspan font-style="italic">P</tspan> &lt; 0.0001</text>
<text x="444" y="220.48" font-size="8.6" text-anchor="start" fill="#1a1a1a" stroke="#1a1a1a" stroke-width="0.1" textLength="98.3" lengthAdjust="spacingAndGlyphs">HR = 2.9 (95% CI 1.9-4.3)</text>
<path d="M571.5,143.44 L586.8,141.89 L599.1,141.51 L605.2,142.12 L612.9,143.56 L622.1,144.5 L629.7,145.5 L637.4,145.8 L645.1,148.1 L671.1,148.1" fill="none" stroke="#e3f5fc" stroke-width="0.7" stroke-linejoin="round"/>
<path d="M571.5,143.34 L586.8,145.24 L599.1,147.93 L605.2,150.07 L612.9,153.43 L622.1,154.5 L629.7,155.5 L637.4,155.8 L645.1,158.1 L671.1,158.1" fill="none" stroke="#e3f5fc" stroke-width="0.7" stroke-linejoin="round"/>
<path d="M571.5,143.47 L580.7,144.21 L585.3,144.07 L588.4,146.26 L591.4,148.88 L594.5,152.97 L598.3,156.95 L602.2,159.42 L608.3,163.03 L612.9,164.58 L617.5,164.9 L619,168 L625.1,168.6 L629.7,169.8 L635.9,171.7 L638.9,173.7 L642,176.7 L645.8,179.8 L671.1,179.8" fill="none" stroke="#fcebe2" stroke-width="0.7" stroke-linejoin="round"/>
<path d="M571.5,143.34 L580.7,146.59 L585.3,147.93 L588.4,151.14 L591.4,154.73 L594.5,159.83 L598.3,165.05 L602.2,168.78 L608.3,174.37 L612.9,177.42 L617.5,177.9 L619,181 L625.1,181.6 L629.7,182.8 L635.9,184.7 L638.9,186.7 L642,189.7 L645.8,192.8 L671.1,192.8" fill="none" stroke="#fcebe2" stroke-width="0.7" stroke-linejoin="round"/>
<path d="M571.5,143.4 L585.3,143.4 L587.76,143.4 L587.76,143.6 L590.22,143.6 L590.22,143.8 L592.68,143.8 L592.68,144 L595.14,144 L595.14,144.2 L597.6,144.2 L597.6,144.4 L599.63,144.4 L599.63,144.83 L601.67,144.83 L601.67,145.27 L603.7,145.27 L603.7,145.7 L605.62,145.7 L605.62,146.27 L607.55,146.27 L607.55,146.85 L609.48,146.85 L609.48,147.43 L611.4,147.43 L611.4,148 L613.7,148 L613.7,148.25 L616,148.25 L616,148.5 L618.3,148.5 L618.3,148.75 L620.6,148.75 L620.6,149 L622.5,149 L622.5,149.25 L624.4,149.25 L624.4,149.5 L626.3,149.5 L626.3,149.75 L628.2,149.75 L628.2,150 L630.12,150 L630.12,150.07 L632.05,150.07 L632.05,150.15 L633.98,150.15 L633.98,150.23 L635.9,150.23 L635.9,150.3 L637.83,150.3 L637.83,150.88 L639.75,150.88 L639.75,151.45 L641.67,151.45 L641.67,152.03 L643.6,152.03 L643.6,152.6 L669.6,152.6" fill="none" stroke="#5cc3ea" stroke-width="1.3" stroke-linejoin="round" stroke-linejoin="miter"/>
<path d="M571.5,143.4 L573.42,143.4 L573.42,143.9 L575.35,143.9 L575.35,144.4 L577.28,144.4 L577.28,144.9 L579.2,144.9 L579.2,145.4 L581.5,145.4 L581.5,145.7 L583.8,145.7 L583.8,146 L585.35,146 L585.35,147.35 L586.9,147.35 L586.9,148.7 L588.4,148.7 L588.4,150.25 L589.9,150.25 L589.9,151.8 L591.45,151.8 L591.45,154.1 L593,154.1 L593,156.4 L594.9,156.4 L594.9,158.7 L596.8,158.7 L596.8,161 L598.75,161 L598.75,162.55 L600.7,162.55 L600.7,164.1 L602.73,164.1 L602.73,165.63 L604.77,165.63 L604.77,167.17 L606.8,167.17 L606.8,168.7 L609.1,168.7 L609.1,169.85 L611.4,169.85 L611.4,171 L613.7,171 L613.7,171.2 L616,171.2 L616,171.4 L616.75,171.4 L616.75,172.95 L617.5,172.95 L617.5,174.5 L619.53,174.5 L619.53,174.7 L621.57,174.7 L621.57,174.9 L623.6,174.9 L623.6,175.1 L625.9,175.1 L625.9,175.7 L628.2,175.7 L628.2,176.3 L630.27,176.3 L630.27,176.93 L632.33,176.93 L632.33,177.57 L634.4,177.57 L634.4,178.2 L635.9,178.2 L635.9,179.2 L637.4,179.2 L637.4,180.2 L638.95,180.2 L638.95,181.7 L640.5,181.7 L640.5,183.2 L642.4,183.2 L642.4,184.75 L644.3,184.75 L644.3,186.3 L669.6,186.3" fill="none" stroke="#e8602c" stroke-width="1.3" stroke-linejoin="round" stroke-linejoin="miter"/>
<line x1="571.9" y1="140.1" x2="571.9" y2="227.9" stroke="#a8a8a8" stroke-width="1.8"/>
<line x1="569.9" y1="227.9" x2="672.5" y2="227.9" stroke="#5a5a5a" stroke-width="1"/>
<line x1="569.6" y1="143.1" x2="571.9" y2="143.1" stroke="#8a8a8a" stroke-width="0.9"/>
<line x1="569.6" y1="164.3" x2="571.9" y2="164.3" stroke="#8a8a8a" stroke-width="0.9"/>
<line x1="569.6" y1="185.5" x2="571.9" y2="185.5" stroke="#8a8a8a" stroke-width="0.9"/>
<line x1="569.6" y1="206.7" x2="571.9" y2="206.7" stroke="#8a8a8a" stroke-width="0.9"/>
<line x1="569.6" y1="227.9" x2="571.9" y2="227.9" stroke="#8a8a8a" stroke-width="0.9"/>
<text x="562.6" y="148.14" font-size="8.5" text-anchor="middle" fill="#1a1a1a" stroke="#1a1a1a" stroke-width="0.1">100</text>
<text x="562.6" y="169.64" font-size="8.5" text-anchor="middle" fill="#1a1a1a" stroke="#1a1a1a" stroke-width="0.1">75</text>
<text x="562.6" y="191.54" font-size="8.5" text-anchor="middle" fill="#1a1a1a" stroke="#1a1a1a" stroke-width="0.1">50</text>
<text x="562.6" y="213.34" font-size="8.5" text-anchor="middle" fill="#1a1a1a" stroke="#1a1a1a" stroke-width="0.1">25</text>
<text x="562.6" y="236.34" font-size="8.5" text-anchor="middle" fill="#1a1a1a" stroke="#1a1a1a" stroke-width="0.1">0</text>
<line x1="572.3" y1="227.9" x2="572.3" y2="229.9" stroke="#8a8a8a" stroke-width="0.9"/>
<text x="572.3" y="237.94" font-size="8.5" text-anchor="middle" fill="#1a1a1a" stroke="#1a1a1a" stroke-width="0.1">0</text>
<line x1="597" y1="227.9" x2="597" y2="229.9" stroke="#8a8a8a" stroke-width="0.9"/>
<text x="597" y="237.94" font-size="8.5" text-anchor="middle" fill="#1a1a1a" stroke="#1a1a1a" stroke-width="0.1">20</text>
<line x1="621.5" y1="227.9" x2="621.5" y2="229.9" stroke="#8a8a8a" stroke-width="0.9"/>
<text x="621.5" y="237.94" font-size="8.5" text-anchor="middle" fill="#1a1a1a" stroke="#1a1a1a" stroke-width="0.1">40</text>
<line x1="646" y1="227.9" x2="646" y2="229.9" stroke="#8a8a8a" stroke-width="0.9"/>
<text x="646" y="237.94" font-size="8.5" text-anchor="middle" fill="#1a1a1a" stroke="#1a1a1a" stroke-width="0.1">60</text>
<line x1="669.6" y1="227.9" x2="669.6" y2="229.9" stroke="#8a8a8a" stroke-width="0.9"/>
<text x="669.6" y="237.94" font-size="8.5" text-anchor="middle" fill="#1a1a1a" stroke="#1a1a1a" stroke-width="0.1">80</text>
<text x="621.9" y="246.18" font-size="8.6" text-anchor="middle" fill="#1a1a1a" stroke="#1a1a1a" stroke-width="0.1" textLength="52.5" lengthAdjust="spacingAndGlyphs">Time(months)</text>
<text x="649" y="144.18" font-size="8.6" text-anchor="middle" fill="#1a1a1a" stroke="#1a1a1a" stroke-width="0.1" textLength="31.2" lengthAdjust="spacingAndGlyphs">Low risk</text>
<text x="651.5" y="168.68" font-size="8.6" text-anchor="middle" fill="#1a1a1a" stroke="#1a1a1a" stroke-width="0.1" textLength="33" lengthAdjust="spacingAndGlyphs">High risk</text>
<text x="574.4" y="213.48" font-size="8.6" text-anchor="start" fill="#1a1a1a" stroke="#1a1a1a" stroke-width="0.1" textLength="41.2" lengthAdjust="spacingAndGlyphs"><tspan font-style="italic">P</tspan> &lt; 0.0001</text>
<text x="574.4" y="222.58" font-size="8.6" text-anchor="start" fill="#1a1a1a" stroke="#1a1a1a" stroke-width="0.1" textLength="103" lengthAdjust="spacingAndGlyphs">HR = 6.2 (95% CI 3.3-11.7)</text>
<text transform="translate(292.31,179.3) rotate(-90)" x="0" y="0" font-size="8.4" text-anchor="middle" fill="#1a1a1a" stroke="#1a1a1a" stroke-width="0.1" textLength="29.8" lengthAdjust="spacingAndGlyphs">DFS(%)</text>
<line x1="314.5" y1="364.5" x2="420.5" y2="256.5" stroke="#e6e6e6" stroke-width="0.7"/>
<path d="M314.9,363.53 L314.9,361.42 L314.97,361.42 L314.97,359.31 L315.03,359.31 L315.03,357.2 L315.1,357.2 L315.1,355.09 L315.17,355.09 L315.17,352.98 L315.23,352.98 L315.23,350.88 L315.3,350.88 L315.3,348.77 L315.37,348.77 L315.37,346.66 L315.43,346.66 L315.43,344.55 L315.5,344.55 L315.5,342.54 L315.78,342.54 L315.78,340.54 L316.06,340.54 L316.06,338.53 L316.34,338.53 L316.34,336.52 L316.62,336.52 L316.62,334.51 L316.9,334.51 L316.9,332.75 L317.25,332.75 L317.25,331 L317.6,331 L317.6,329.24 L317.95,329.24 L317.95,327.48 L318.3,327.48 L318.3,325.32 L319.75,325.32 L319.75,323.17 L321.2,323.17 L321.2,321.06 L321.9,321.06 L321.9,318.95 L322.6,318.95 L322.6,317.17 L323.3,317.17 L323.3,315.38 L324,315.38 L324,313.6 L324.7,313.6 L324.7,311.82 L325.4,311.82 L325.4,310.04 L326.1,310.04 L326.1,308.26 L326.8,308.26 L326.8,306.47 L327.5,306.47 L327.5,304.69 L328.2,304.69 L328.2,303.29 L329.65,303.29 L329.65,301.88 L331.1,301.88 L331.1,299.97 L332.5,299.97 L332.5,298.07 L333.9,298.07 L333.9,296.16 L335.3,296.16 L335.3,295 L336.7,295 L336.7,293.85 L338.1,293.85 L338.1,293.6 L340.25,293.6 L340.25,293.35 L342.4,293.35 L342.4,291.44 L343.33,291.44 L343.33,289.53 L344.27,289.53 L344.27,287.62 L345.2,287.62 L345.2,285.92 L347.35,285.92 L347.35,284.21 L349.5,284.21 L349.5,282.35 L349.85,282.35 L349.85,280.5 L350.2,280.5 L350.2,278.64 L350.55,278.64 L350.55,276.78 L350.9,276.78 L350.9,275.83 L352.3,275.83 L352.3,274.87 L353.7,274.87 L353.7,274.17 L355.85,274.17 L355.85,273.47 L358,273.47 L358,273.32 L359.75,273.32 L359.75,273.17 L361.5,273.17 L361.5,273.02 L363.25,273.02 L363.25,272.87 L365,272.87 L365,271.46 L367.15,271.46 L367.15,270.05 L369.3,270.05 L369.3,268.9 L371.4,268.9 L371.4,267.75 L373.5,267.75 L373.5,267.39 L375.27,267.39 L375.27,267.04 L377.05,267.04 L377.05,266.69 L378.83,266.69 L378.83,266.34 L380.6,266.34 L380.6,265.41 L382.73,265.41 L382.73,264.48 L384.85,264.48 L384.85,263.55 L386.98,263.55 L386.98,262.62 L389.1,262.62 L389.1,262.4 L391.08,262.4 L391.08,262.18 L393.06,262.18 L393.06,261.96 L395.04,261.96 L395.04,261.74 L397.02,261.74 L397.02,261.52 L399,261.52 L399,260.59 L400.77,260.59 L400.77,259.66 L402.55,259.66 L402.55,258.73 L404.33,258.73 L404.33,257.81 L406.1,257.81 L406.1,257.45 L408.25,257.45 L408.25,257.1 L410.4,257.1 L420,256.9" fill="none" stroke="#ea4a4c" stroke-width="1" stroke-linejoin="round" stroke-linecap="square" stroke-linejoin="miter"/>
<rect x="314.5" y="256.5" width="106" height="108" fill="none" stroke="#555555" stroke-width="1"/>
<text x="309.4" y="258.31" font-size="8.4" text-anchor="end" fill="#222" stroke="#222" stroke-width="0.1">1.0</text>
<text x="309.4" y="279.91" font-size="8.4" text-anchor="end" fill="#222" stroke="#222" stroke-width="0.1">0.8</text>
<text x="309.4" y="301.11" font-size="8.4" text-anchor="end" fill="#222" stroke="#222" stroke-width="0.1">0.6</text>
<text x="309.4" y="322.61" font-size="8.4" text-anchor="end" fill="#222" stroke="#222" stroke-width="0.1">0.4</text>
<text x="309.4" y="344.21" font-size="8.4" text-anchor="end" fill="#222" stroke="#222" stroke-width="0.1">0.2</text>
<text x="309.4" y="365.11" font-size="8.4" text-anchor="end" fill="#222" stroke="#222" stroke-width="0.1">0.0</text>
<text x="318.2" y="374.01" font-size="8.4" text-anchor="middle" fill="#222" stroke="#222" stroke-width="0.1">0.0</text>
<text x="339.7" y="374.01" font-size="8.4" text-anchor="middle" fill="#222" stroke="#222" stroke-width="0.1">0.2</text>
<text x="360.5" y="374.01" font-size="8.4" text-anchor="middle" fill="#222" stroke="#222" stroke-width="0.1">0.4</text>
<text x="381.4" y="374.01" font-size="8.4" text-anchor="middle" fill="#222" stroke="#222" stroke-width="0.1">0.6</text>
<text x="403.4" y="374.01" font-size="8.4" text-anchor="middle" fill="#222" stroke="#222" stroke-width="0.1">0.8</text>
<text x="420.8" y="374.01" font-size="8.4" text-anchor="middle" fill="#222" stroke="#222" stroke-width="0.1">1.0</text>
<text x="367.6" y="384.94" font-size="8.2" text-anchor="middle" fill="#222" stroke="#222" stroke-width="0.1" textLength="43.2" lengthAdjust="spacingAndGlyphs">1-specificity</text>
<text x="370.7" y="399.97" font-size="9.4" text-anchor="middle" fill="#1a1a1a" font-weight="bold" stroke="#1a1a1a" stroke-width="0.35" textLength="38.8" lengthAdjust="spacingAndGlyphs">Training</text>
<text x="318.3" y="347.04" font-size="8.5" text-anchor="start" fill="#1a1a1a" stroke="#1a1a1a" stroke-width="0.1" textLength="40.2" lengthAdjust="spacingAndGlyphs"><tspan font-style="italic">P</tspan> &lt; 0.0001</text>
<text x="316.9" y="356.44" font-size="8.5" text-anchor="start" fill="#1a1a1a" stroke="#1a1a1a" stroke-width="0.1" textLength="102" lengthAdjust="spacingAndGlyphs">AUC = 0.796 [0.748-0.844]</text>
<line x1="442.5" y1="364.5" x2="548.5" y2="256.5" stroke="#e6e6e6" stroke-width="0.7"/>
<path d="M442.3,364.33 L442.3,362.29 L442.34,362.29 L442.34,360.26 L442.39,360.26 L442.39,358.22 L442.43,358.22 L442.43,356.18 L442.47,356.18 L442.47,354.15 L442.51,354.15 L442.51,352.11 L442.56,352.11 L442.56,350.07 L442.6,350.07 L442.6,348.2 L443.07,348.2 L443.07,346.32 L443.53,346.32 L443.53,344.45 L444,344.45 L444,342.34 L444.5,342.34 L444.5,340.23 L445,340.23 L445,338.13 L445.5,338.13 L445.5,336.02 L446,336.02 L446,334.21 L446.43,334.21 L446.43,332.4 L446.85,332.4 L446.85,330.6 L447.27,330.6 L447.27,328.79 L447.7,328.79 L447.7,327.38 L449.15,327.38 L449.15,325.98 L450.6,325.98 L450.6,323.84 L451.3,323.84 L451.3,321.71 L452,321.71 L452,319.58 L452.7,319.58 L452.7,317.44 L453.4,317.44 L453.4,316.04 L454.4,316.04 L454.4,314.63 L455.4,314.63 L455.4,312.47 L456.1,312.47 L456.1,310.31 L456.8,310.31 L456.8,308.91 L457.5,308.91 L457.5,307.5 L458.2,307.5 L458.2,307.04 L460.1,307.04 L460.1,306.57 L462,306.57 L462,306.1 L463.9,306.1 L463.9,304.69 L465.3,304.69 L465.3,303.29 L466.7,303.29 L466.7,301.38 L467.63,301.38 L467.63,299.47 L468.57,299.47 L468.57,297.56 L469.5,297.56 L469.5,296.16 L471.65,296.16 L471.65,294.75 L473.8,294.75 L473.8,293.78 L475.67,293.78 L475.67,292.81 L477.53,292.81 L477.53,291.84 L479.4,291.84 L479.4,290.9 L481.3,290.9 L481.3,289.97 L483.2,289.97 L483.2,289.03 L485.1,289.03 L485.1,288.33 L486.88,288.33 L486.88,287.62 L488.65,287.62 L488.65,286.92 L490.43,286.92 L490.43,286.22 L492.2,286.22 L492.2,284.76 L494.3,284.76 L494.3,283.31 L496.4,283.31 L496.4,282.37 L498.3,282.37 L498.3,281.43 L500.2,281.43 L500.2,280.5 L502.1,280.5 L502.1,279.76 L503.97,279.76 L503.97,279.02 L505.83,279.02 L505.83,278.29 L507.7,278.29 L507.7,276.65 L509.6,276.65 L509.6,275.01 L511.5,275.01 L511.5,273.37 L513.4,273.37 L513.4,272.43 L515.3,272.43 L515.3,271.49 L517.2,271.49 L517.2,270.56 L519.1,270.56 L519.1,268.68 L520.97,268.68 L520.97,266.81 L522.83,266.81 L522.83,264.93 L524.7,264.93 L524.7,263.96 L526.6,263.96 L526.6,262.99 L528.5,262.99 L528.5,262.02 L530.4,262.02 L530.4,261.9 L532.17,261.9 L532.17,261.77 L533.95,261.77 L533.95,261.65 L535.73,261.65 L535.73,261.52 L537.5,261.52 L537.5,260.28 L539.37,260.28 L539.37,259.04 L541.23,259.04 L541.23,257.81 L543.1,257.81 L543.1,257.5 L544.93,257.5 L544.93,257.2 L546.77,257.2 L546.77,256.9 L548.6,256.9" fill="none" stroke="#ea4a4c" stroke-width="1" stroke-linejoin="round" stroke-linecap="square" stroke-linejoin="miter"/>
<rect x="442.5" y="256.5" width="106" height="108" fill="none" stroke="#555555" stroke-width="1"/>
<text x="437.6" y="258.31" font-size="8.4" text-anchor="end" fill="#222" stroke="#222" stroke-width="0.1">1.0</text>
<text x="437.6" y="279.91" font-size="8.4" text-anchor="end" fill="#222" stroke="#222" stroke-width="0.1">0.8</text>
<text x="437.6" y="301.11" font-size="8.4" text-anchor="end" fill="#222" stroke="#222" stroke-width="0.1">0.6</text>
<text x="437.6" y="322.61" font-size="8.4" text-anchor="end" fill="#222" stroke="#222" stroke-width="0.1">0.4</text>
<text x="437.6" y="344.21" font-size="8.4" text-anchor="end" fill="#222" stroke="#222" stroke-width="0.1">0.2</text>
<text x="437.6" y="365.11" font-size="8.4" text-anchor="end" fill="#222" stroke="#222" stroke-width="0.1">0.0</text>
<text x="446.3" y="374.01" font-size="8.4" text-anchor="middle" fill="#222" stroke="#222" stroke-width="0.1">0.0</text>
<text x="466.6" y="374.01" font-size="8.4" text-anchor="middle" fill="#222" stroke="#222" stroke-width="0.1">0.2</text>
<text x="486.9" y="374.01" font-size="8.4" text-anchor="middle" fill="#222" stroke="#222" stroke-width="0.1">0.4</text>
<text x="507.1" y="374.01" font-size="8.4" text-anchor="middle" fill="#222" stroke="#222" stroke-width="0.1">0.6</text>
<text x="527.4" y="374.01" font-size="8.4" text-anchor="middle" fill="#222" stroke="#222" stroke-width="0.1">0.8</text>
<text x="547.7" y="374.01" font-size="8.4" text-anchor="middle" fill="#222" stroke="#222" stroke-width="0.1">1.0</text>
<text x="498" y="384.94" font-size="8.2" text-anchor="middle" fill="#222" stroke="#222" stroke-width="0.1" textLength="43.2" lengthAdjust="spacingAndGlyphs">1-specificity</text>
<text x="498.9" y="399.97" font-size="9.4" text-anchor="middle" fill="#1a1a1a" font-weight="bold" stroke="#1a1a1a" stroke-width="0.35" textLength="80.6" lengthAdjust="spacingAndGlyphs">Internal validation</text>
<text x="446.9" y="347.84" font-size="8.5" text-anchor="start" fill="#1a1a1a" stroke="#1a1a1a" stroke-width="0.1" textLength="40.2" lengthAdjust="spacingAndGlyphs"><tspan font-style="italic">P</tspan> &lt; 0.0001</text>
<text x="444.9" y="357.24" font-size="8.5" text-anchor="start" fill="#1a1a1a" stroke="#1a1a1a" stroke-width="0.1" textLength="102" lengthAdjust="spacingAndGlyphs">AUC = 0.719 [0.659-0.779]</text>
<line x1="572.5" y1="364.5" x2="678.5" y2="256.5" stroke="#e6e6e6" stroke-width="0.7"/>
<path d="M572.6,364.43 L572.6,363.02 L574.8,363.02 L574.8,361.57 L576.25,361.57 L576.25,360.11 L577.7,360.11 L577.7,358.36 L578.75,358.36 L578.75,356.6 L579.8,356.6 L579.8,354.84 L580.85,354.84 L580.85,353.09 L581.9,353.09 L581.9,351.3 L582.6,351.3 L582.6,349.52 L583.3,349.52 L583.3,347.74 L584,347.74 L584,345.96 L584.7,345.96 L584.7,344.17 L585.08,344.17 L585.08,342.39 L585.45,342.39 L585.45,340.61 L585.83,340.61 L585.83,338.83 L586.2,338.83 L586.2,336.67 L586.6,336.67 L586.6,334.51 L587,334.51 L587,332.52 L587.22,332.52 L587.22,330.54 L587.44,330.54 L587.44,328.55 L587.66,328.55 L587.66,326.56 L587.88,326.56 L587.88,324.57 L588.1,324.57 L588.1,322.5 L588.4,322.5 L588.4,320.42 L588.7,320.42 L588.7,318.35 L589,318.35 L589,317.19 L589.7,317.19 L589.7,316.04 L590.4,316.04 L590.4,313.9 L590.62,313.9 L590.62,311.77 L590.85,311.77 L590.85,309.64 L591.07,309.64 L591.07,307.5 L591.3,307.5 L591.3,306.1 L593.2,306.1 L593.2,304.22 L594.17,304.22 L594.17,302.35 L595.13,302.35 L595.13,300.48 L596.1,300.48 L596.1,298.62 L596.8,298.62 L596.8,296.76 L597.5,296.76 L597.5,296.46 L598.9,296.46 L598.9,296.16 L600.3,296.16 L600.3,294.17 L601.16,294.17 L601.16,292.18 L602.02,292.18 L602.02,290.19 L602.88,290.19 L602.88,288.21 L603.74,288.21 L603.74,286.22 L604.6,286.22 L604.6,285.21 L606,285.21 L606,284.21 L607.4,284.21 L607.4,282.23 L608.1,282.23 L608.1,280.25 L608.8,280.25 L608.8,278.26 L609.5,278.26 L609.5,276.28 L610.2,276.28 L610.2,275.58 L611.65,275.58 L611.65,274.87 L613.1,274.87 L613.1,273.02 L614.5,273.02 L614.5,271.16 L615.9,271.16 L615.9,270.49 L617.8,270.49 L617.8,269.82 L619.7,269.82 L619.7,269.15 L621.6,269.15 L621.6,268.68 L623.47,268.68 L623.47,268.21 L625.33,268.21 L625.33,267.75 L627.2,267.75 L627.2,267.04 L629.35,267.04 L629.35,266.34 L631.5,266.34 L631.5,265.64 L632.9,265.64 L632.9,264.93 L634.3,264.93 L634.3,263.8 L636.2,263.8 L636.2,262.66 L638.1,262.66 L638.1,261.52 L640,261.52 L640,261.29 L642.12,261.29 L642.12,261.07 L644.25,261.07 L644.25,260.84 L646.38,260.84 L646.38,260.62 L648.5,260.62 L648.5,260.34 L650.48,260.34 L650.48,260.05 L652.46,260.05 L652.46,259.77 L654.44,259.77 L654.44,259.49 L656.42,259.49 L656.42,259.21 L658.4,259.21 L658.4,259.04 L660.35,259.04 L660.35,258.86 L662.3,258.86 L662.3,258.68 L664.25,258.68 L664.25,258.51 L666.2,258.51 L666.2,258.33 L668.15,258.33 L668.15,258.16 L670.1,258.16 L670.1,257.98 L672.05,257.98 L672.05,257.81 L674,257.81 L674,257.57 L675.53,257.57 L675.53,257.34 L677.07,257.34 L677.07,257.1 L678.6,257.1" fill="none" stroke="#ea4a4c" stroke-width="1" stroke-linejoin="round" stroke-linecap="square" stroke-linejoin="miter"/>
<rect x="572.5" y="256.5" width="106" height="108" fill="none" stroke="#555555" stroke-width="1"/>
<text x="568.6" y="258.31" font-size="8.4" text-anchor="end" fill="#222" stroke="#222" stroke-width="0.1">1.0</text>
<text x="568.6" y="279.91" font-size="8.4" text-anchor="end" fill="#222" stroke="#222" stroke-width="0.1">0.8</text>
<text x="568.6" y="301.11" font-size="8.4" text-anchor="end" fill="#222" stroke="#222" stroke-width="0.1">0.6</text>
<text x="568.6" y="322.61" font-size="8.4" text-anchor="end" fill="#222" stroke="#222" stroke-width="0.1">0.4</text>
<text x="568.6" y="344.21" font-size="8.4" text-anchor="end" fill="#222" stroke="#222" stroke-width="0.1">0.2</text>
<text x="568.6" y="365.11" font-size="8.4" text-anchor="end" fill="#222" stroke="#222" stroke-width="0.1">0.0</text>
<text x="576.7" y="374.01" font-size="8.4" text-anchor="middle" fill="#222" stroke="#222" stroke-width="0.1">0.0</text>
<text x="596.8" y="374.01" font-size="8.4" text-anchor="middle" fill="#222" stroke="#222" stroke-width="0.1">0.2</text>
<text x="616.9" y="374.01" font-size="8.4" text-anchor="middle" fill="#222" stroke="#222" stroke-width="0.1">0.4</text>
<text x="637.1" y="374.01" font-size="8.4" text-anchor="middle" fill="#222" stroke="#222" stroke-width="0.1">0.6</text>
<text x="657.2" y="374.01" font-size="8.4" text-anchor="middle" fill="#222" stroke="#222" stroke-width="0.1">0.8</text>
<text x="677.3" y="374.01" font-size="8.4" text-anchor="middle" fill="#222" stroke="#222" stroke-width="0.1">1.0</text>
<text x="628.4" y="384.94" font-size="8.2" text-anchor="middle" fill="#222" stroke="#222" stroke-width="0.1" textLength="43.2" lengthAdjust="spacingAndGlyphs">1-specificity</text>
<text x="623.7" y="399.97" font-size="9.4" text-anchor="middle" fill="#1a1a1a" font-weight="bold" stroke="#1a1a1a" stroke-width="0.35" textLength="84" lengthAdjust="spacingAndGlyphs">External validation</text>
<text x="577.7" y="347.94" font-size="8.5" text-anchor="start" fill="#1a1a1a" stroke="#1a1a1a" stroke-width="0.1" textLength="40.2" lengthAdjust="spacingAndGlyphs"><tspan font-style="italic">P</tspan> &lt; 0.0001</text>
<text x="575.4" y="357.24" font-size="8.5" text-anchor="start" fill="#1a1a1a" stroke="#1a1a1a" stroke-width="0.1" textLength="102" lengthAdjust="spacingAndGlyphs">AUC = 0.752 [0.692-0.813]</text>
<text transform="translate(290.97,313.2) rotate(-90)" x="0" y="0" font-size="8.3" text-anchor="middle" fill="#1a1a1a" stroke="#1a1a1a" stroke-width="0.1" textLength="36.8" lengthAdjust="spacingAndGlyphs">sensitivity</text>
</svg>
</body></html>
